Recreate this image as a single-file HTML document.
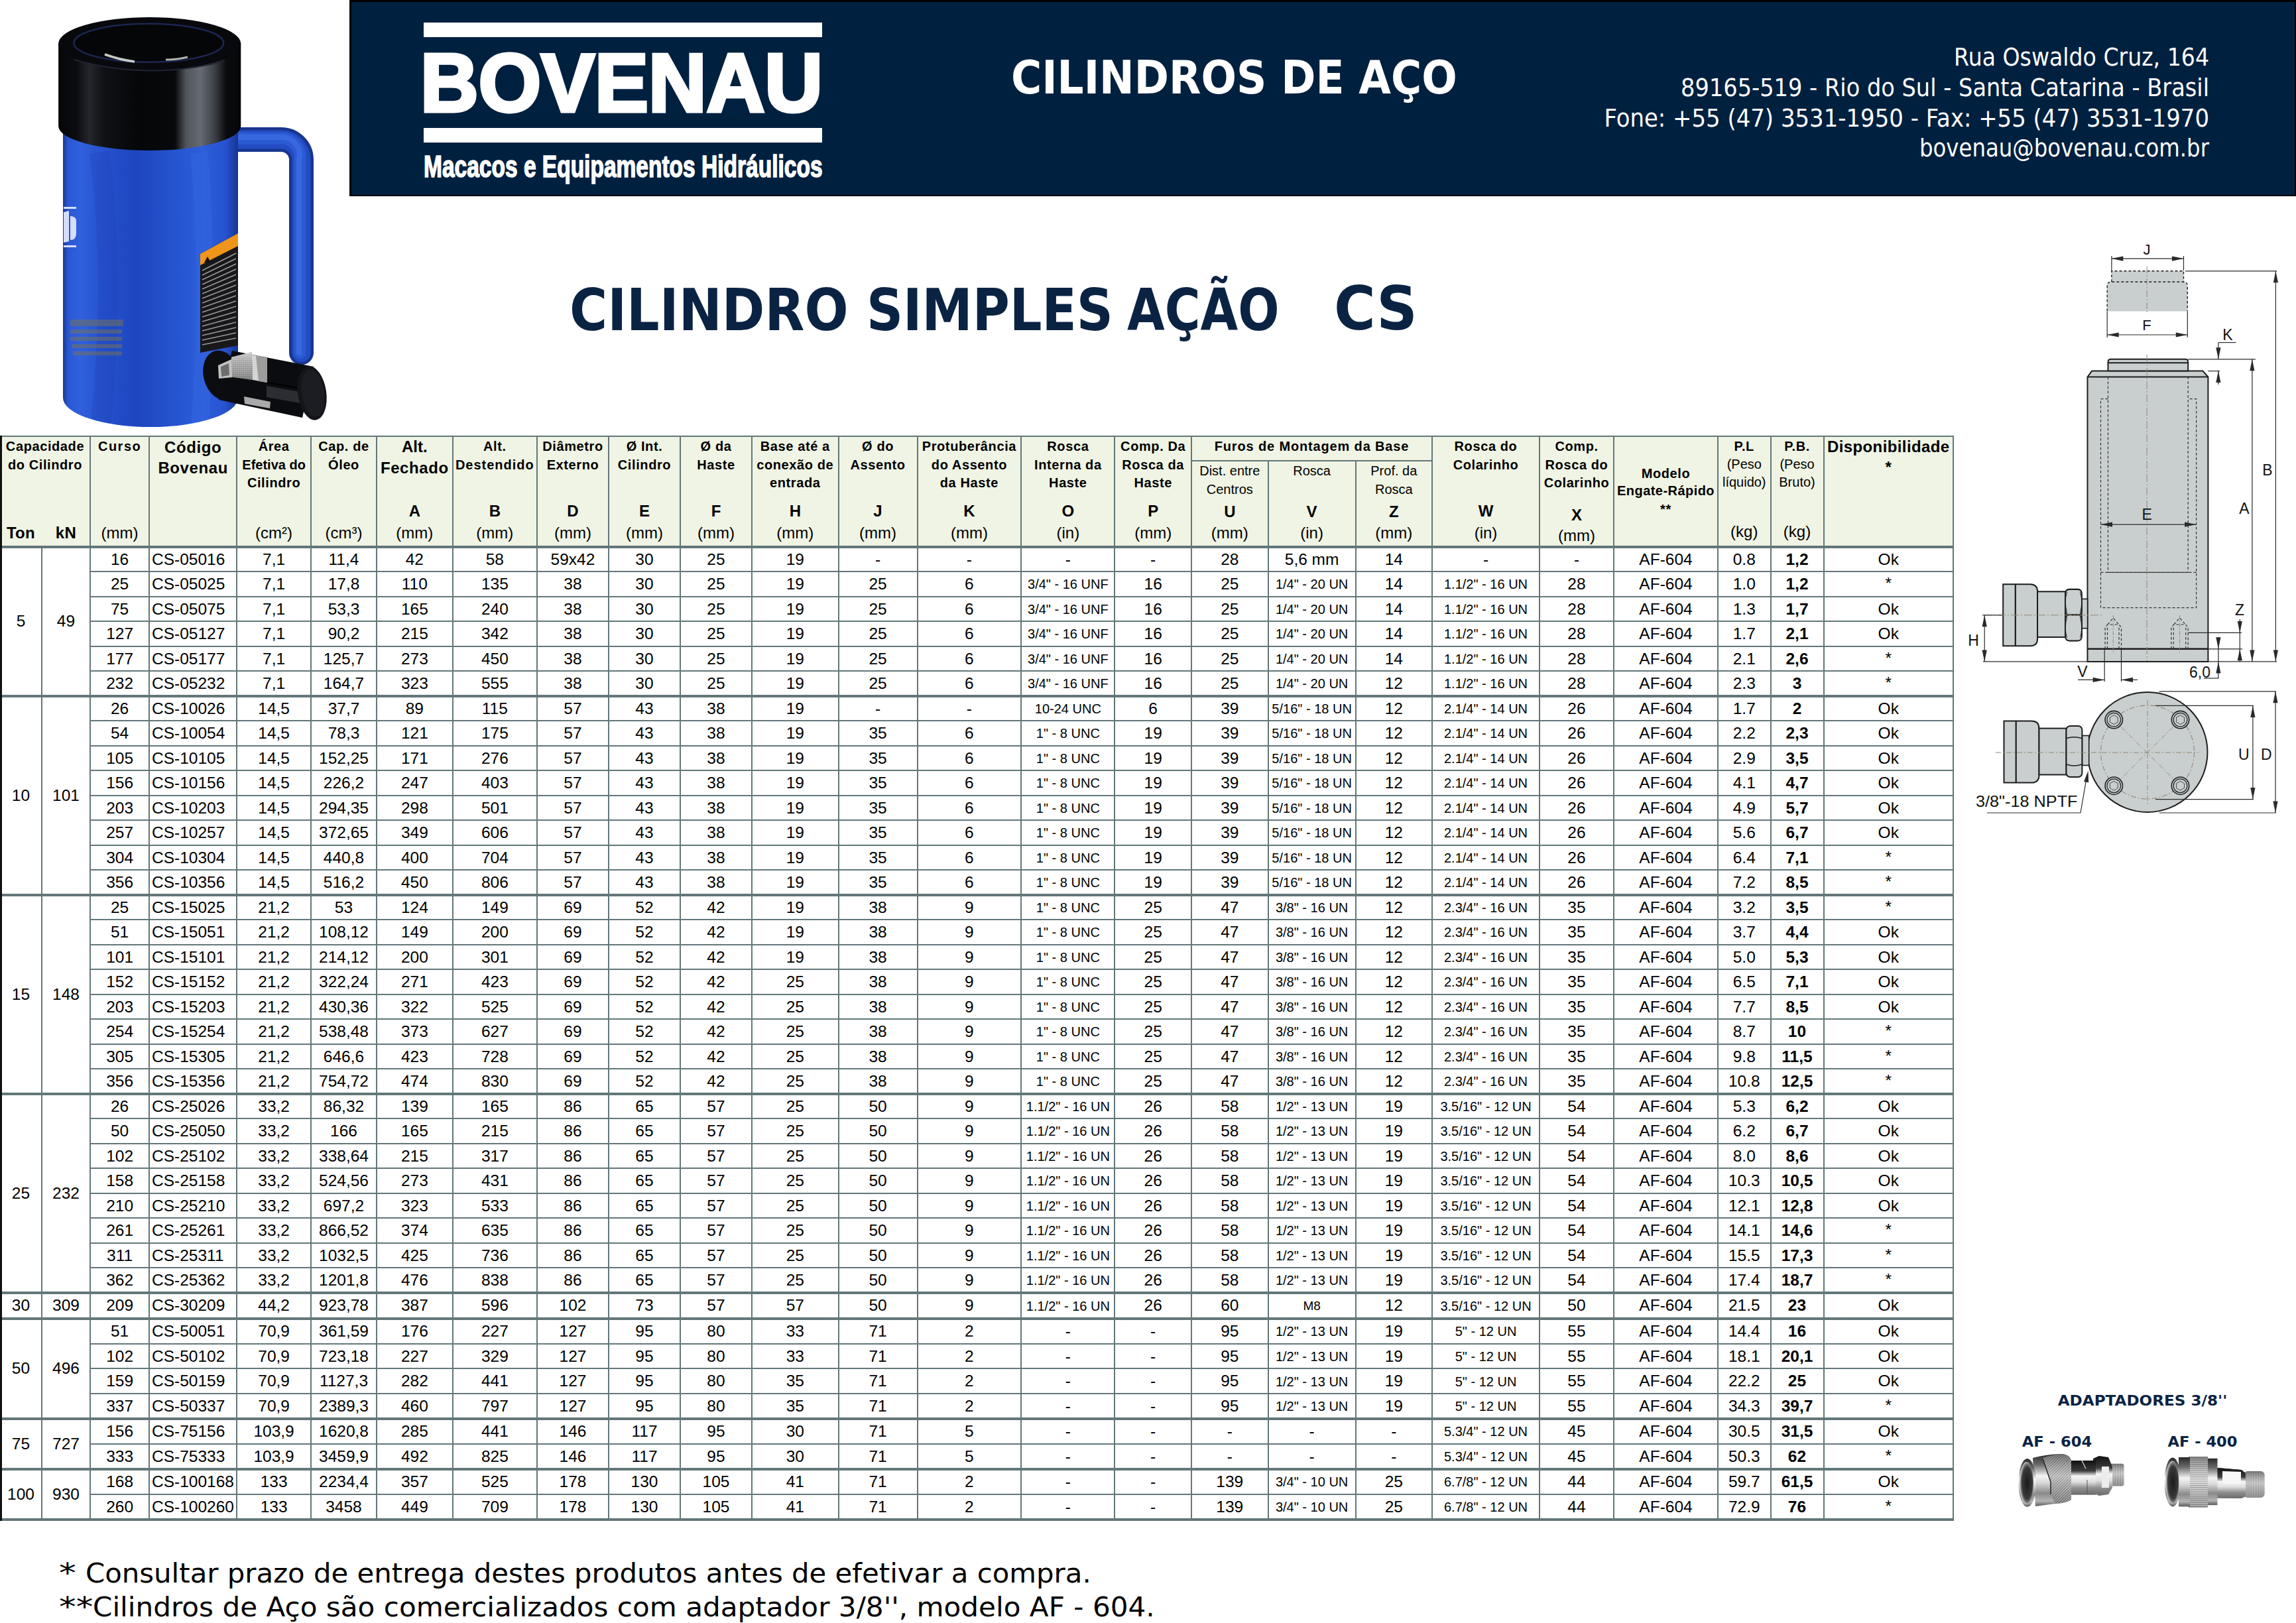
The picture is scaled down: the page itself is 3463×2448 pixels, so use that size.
<!DOCTYPE html>
<html lang="pt-BR"><head><meta charset="utf-8"><title>Bovenau - Cilindro Simples Ação CS</title>
<style>
html,body{margin:0;padding:0;background:#fff;}
html{overflow:hidden;}
body{width:3463px;height:2448px;position:relative;overflow:hidden;}
.t{position:absolute;white-space:nowrap;}
.r{position:absolute;}
svg{position:absolute;}
#pg{position:absolute;left:0;top:0;width:3463px;height:2448px;overflow:hidden;}
</style></head><body><div id="pg">
<div class="r" style="left:527.00px;top:0.00px;width:2936.00px;height:296.00px;background:#000;"></div>
<div class="r" style="left:529.50px;top:2.50px;width:2931.00px;height:291.00px;background:#00203f;"></div>
<div class="r" style="left:639.00px;top:34.00px;width:601.00px;height:22.00px;background:#fff;"></div>
<div class="r" style="left:639.00px;top:193.00px;width:601.00px;height:22.00px;background:#fff;"></div>
<div class="r" style="left:2.00px;top:658.00px;width:2944.00px;height:166.80px;background:#f0f4e4;"></div>
<div class="t" style="top:925.38px;font:400 24.5px/24.5px 'Liberation Sans', Arial, sans-serif;color:#000;left:0.00px;width:63.00px;text-align:center;">5</div>
<div class="t" style="top:925.38px;font:400 24.5px/24.5px 'Liberation Sans', Arial, sans-serif;color:#000;left:0.00px;width:199.00px;text-align:center;">49</div>
<div class="t" style="top:831.59px;font:400 24.5px/24.5px 'Liberation Sans', Arial, sans-serif;color:#000;left:0.00px;width:361.20px;text-align:center;">16</div>
<div class="t" style="top:831.59px;font:400 24.5px/24.5px 'Liberation Sans', Arial, sans-serif;color:#000;left:229.00px;">CS-05016</div>
<div class="t" style="top:831.59px;font:400 24.5px/24.5px 'Liberation Sans', Arial, sans-serif;color:#000;left:0.00px;width:826.20px;text-align:center;">7,1</div>
<div class="t" style="top:831.59px;font:400 24.5px/24.5px 'Liberation Sans', Arial, sans-serif;color:#000;left:0.00px;width:1037.00px;text-align:center;">11,4</div>
<div class="t" style="top:831.59px;font:400 24.5px/24.5px 'Liberation Sans', Arial, sans-serif;color:#000;left:0.00px;width:1250.70px;text-align:center;">42</div>
<div class="t" style="top:831.59px;font:400 24.5px/24.5px 'Liberation Sans', Arial, sans-serif;color:#000;left:0.00px;width:1492.70px;text-align:center;">58</div>
<div class="t" style="top:831.59px;font:400 24.5px/24.5px 'Liberation Sans', Arial, sans-serif;color:#000;left:0.00px;width:1728.00px;text-align:center;">59x42</div>
<div class="t" style="top:831.59px;font:400 24.5px/24.5px 'Liberation Sans', Arial, sans-serif;color:#000;left:0.00px;width:1944.00px;text-align:center;">30</div>
<div class="t" style="top:831.59px;font:400 24.5px/24.5px 'Liberation Sans', Arial, sans-serif;color:#000;left:80.00px;width:2000.00px;text-align:center;">25</div>
<div class="t" style="top:831.59px;font:400 24.5px/24.5px 'Liberation Sans', Arial, sans-serif;color:#000;left:199.30px;width:2000.00px;text-align:center;">19</div>
<div class="t" style="top:831.59px;font:400 24.5px/24.5px 'Liberation Sans', Arial, sans-serif;color:#000;left:324.05px;width:2000.00px;text-align:center;">-</div>
<div class="t" style="top:831.59px;font:400 24.5px/24.5px 'Liberation Sans', Arial, sans-serif;color:#000;left:461.90px;width:2000.00px;text-align:center;">-</div>
<div class="t" style="top:831.59px;font:400 24.5px/24.5px 'Liberation Sans', Arial, sans-serif;color:#000;left:610.85px;width:2000.00px;text-align:center;">-</div>
<div class="t" style="top:831.59px;font:400 24.5px/24.5px 'Liberation Sans', Arial, sans-serif;color:#000;left:739.20px;width:2000.00px;text-align:center;">-</div>
<div class="t" style="top:831.59px;font:400 24.5px/24.5px 'Liberation Sans', Arial, sans-serif;color:#000;left:854.80px;width:2000.00px;text-align:center;">28</div>
<div class="t" style="top:831.59px;font:400 24.5px/24.5px 'Liberation Sans', Arial, sans-serif;color:#000;left:978.60px;width:2000.00px;text-align:center;">5,6 mm</div>
<div class="t" style="top:831.59px;font:400 24.5px/24.5px 'Liberation Sans', Arial, sans-serif;color:#000;left:1102.30px;width:2000.00px;text-align:center;">14</div>
<div class="t" style="top:831.59px;font:400 24.5px/24.5px 'Liberation Sans', Arial, sans-serif;color:#000;left:1241.00px;width:2000.00px;text-align:center;">-</div>
<div class="t" style="top:831.59px;font:400 24.5px/24.5px 'Liberation Sans', Arial, sans-serif;color:#000;left:1378.00px;width:2000.00px;text-align:center;">-</div>
<div class="t" style="top:831.59px;font:400 24.5px/24.5px 'Liberation Sans', Arial, sans-serif;color:#000;left:1562.00px;width:1901.00px;text-align:center;">AF-604</div>
<div class="t" style="top:831.59px;font:400 24.5px/24.5px 'Liberation Sans', Arial, sans-serif;color:#000;left:1798.50px;width:1664.50px;text-align:center;">0.8</div>
<div class="t" style="top:831.59px;font:700 24.5px/24.5px 'Liberation Sans', Arial, sans-serif;color:#000;left:1958.00px;width:1505.00px;text-align:center;">1,2</div>
<div class="t" style="top:831.59px;font:400 24.5px/24.5px 'Liberation Sans', Arial, sans-serif;color:#000;left:2233.50px;width:1229.50px;text-align:center;">Ok</div>
<div class="t" style="top:869.11px;font:400 24.5px/24.5px 'Liberation Sans', Arial, sans-serif;color:#000;left:0.00px;width:361.20px;text-align:center;">25</div>
<div class="t" style="top:869.11px;font:400 24.5px/24.5px 'Liberation Sans', Arial, sans-serif;color:#000;left:229.00px;">CS-05025</div>
<div class="t" style="top:869.11px;font:400 24.5px/24.5px 'Liberation Sans', Arial, sans-serif;color:#000;left:0.00px;width:826.20px;text-align:center;">7,1</div>
<div class="t" style="top:869.11px;font:400 24.5px/24.5px 'Liberation Sans', Arial, sans-serif;color:#000;left:0.00px;width:1037.00px;text-align:center;">17,8</div>
<div class="t" style="top:869.11px;font:400 24.5px/24.5px 'Liberation Sans', Arial, sans-serif;color:#000;left:0.00px;width:1250.70px;text-align:center;">110</div>
<div class="t" style="top:869.11px;font:400 24.5px/24.5px 'Liberation Sans', Arial, sans-serif;color:#000;left:0.00px;width:1492.70px;text-align:center;">135</div>
<div class="t" style="top:869.11px;font:400 24.5px/24.5px 'Liberation Sans', Arial, sans-serif;color:#000;left:0.00px;width:1728.00px;text-align:center;">38</div>
<div class="t" style="top:869.11px;font:400 24.5px/24.5px 'Liberation Sans', Arial, sans-serif;color:#000;left:0.00px;width:1944.00px;text-align:center;">30</div>
<div class="t" style="top:869.11px;font:400 24.5px/24.5px 'Liberation Sans', Arial, sans-serif;color:#000;left:80.00px;width:2000.00px;text-align:center;">25</div>
<div class="t" style="top:869.11px;font:400 24.5px/24.5px 'Liberation Sans', Arial, sans-serif;color:#000;left:199.30px;width:2000.00px;text-align:center;">19</div>
<div class="t" style="top:869.11px;font:400 24.5px/24.5px 'Liberation Sans', Arial, sans-serif;color:#000;left:324.05px;width:2000.00px;text-align:center;">25</div>
<div class="t" style="top:869.11px;font:400 24.5px/24.5px 'Liberation Sans', Arial, sans-serif;color:#000;left:461.90px;width:2000.00px;text-align:center;">6</div>
<div class="t" style="top:871.31px;font:400 20px/20.0px 'Liberation Sans', Arial, sans-serif;color:#000;left:610.85px;width:2000.00px;text-align:center;">3/4" - 16 UNF</div>
<div class="t" style="top:869.11px;font:400 24.5px/24.5px 'Liberation Sans', Arial, sans-serif;color:#000;left:739.20px;width:2000.00px;text-align:center;">16</div>
<div class="t" style="top:869.11px;font:400 24.5px/24.5px 'Liberation Sans', Arial, sans-serif;color:#000;left:854.80px;width:2000.00px;text-align:center;">25</div>
<div class="t" style="top:871.31px;font:400 20px/20.0px 'Liberation Sans', Arial, sans-serif;color:#000;left:978.60px;width:2000.00px;text-align:center;">1/4" - 20 UN</div>
<div class="t" style="top:869.11px;font:400 24.5px/24.5px 'Liberation Sans', Arial, sans-serif;color:#000;left:1102.30px;width:2000.00px;text-align:center;">14</div>
<div class="t" style="top:871.31px;font:400 20px/20.0px 'Liberation Sans', Arial, sans-serif;color:#000;left:1241.00px;width:2000.00px;text-align:center;">1.1/2" - 16 UN</div>
<div class="t" style="top:869.11px;font:400 24.5px/24.5px 'Liberation Sans', Arial, sans-serif;color:#000;left:1378.00px;width:2000.00px;text-align:center;">28</div>
<div class="t" style="top:869.11px;font:400 24.5px/24.5px 'Liberation Sans', Arial, sans-serif;color:#000;left:1562.00px;width:1901.00px;text-align:center;">AF-604</div>
<div class="t" style="top:869.11px;font:400 24.5px/24.5px 'Liberation Sans', Arial, sans-serif;color:#000;left:1798.50px;width:1664.50px;text-align:center;">1.0</div>
<div class="t" style="top:869.11px;font:700 24.5px/24.5px 'Liberation Sans', Arial, sans-serif;color:#000;left:1958.00px;width:1505.00px;text-align:center;">1,2</div>
<div class="t" style="top:868.11px;font:400 24.5px/24.5px 'Liberation Sans', Arial, sans-serif;color:#000;left:2233.50px;width:1229.50px;text-align:center;">*</div>
<div class="t" style="top:906.62px;font:400 24.5px/24.5px 'Liberation Sans', Arial, sans-serif;color:#000;left:0.00px;width:361.20px;text-align:center;">75</div>
<div class="t" style="top:906.62px;font:400 24.5px/24.5px 'Liberation Sans', Arial, sans-serif;color:#000;left:229.00px;">CS-05075</div>
<div class="t" style="top:906.62px;font:400 24.5px/24.5px 'Liberation Sans', Arial, sans-serif;color:#000;left:0.00px;width:826.20px;text-align:center;">7,1</div>
<div class="t" style="top:906.62px;font:400 24.5px/24.5px 'Liberation Sans', Arial, sans-serif;color:#000;left:0.00px;width:1037.00px;text-align:center;">53,3</div>
<div class="t" style="top:906.62px;font:400 24.5px/24.5px 'Liberation Sans', Arial, sans-serif;color:#000;left:0.00px;width:1250.70px;text-align:center;">165</div>
<div class="t" style="top:906.62px;font:400 24.5px/24.5px 'Liberation Sans', Arial, sans-serif;color:#000;left:0.00px;width:1492.70px;text-align:center;">240</div>
<div class="t" style="top:906.62px;font:400 24.5px/24.5px 'Liberation Sans', Arial, sans-serif;color:#000;left:0.00px;width:1728.00px;text-align:center;">38</div>
<div class="t" style="top:906.62px;font:400 24.5px/24.5px 'Liberation Sans', Arial, sans-serif;color:#000;left:0.00px;width:1944.00px;text-align:center;">30</div>
<div class="t" style="top:906.62px;font:400 24.5px/24.5px 'Liberation Sans', Arial, sans-serif;color:#000;left:80.00px;width:2000.00px;text-align:center;">25</div>
<div class="t" style="top:906.62px;font:400 24.5px/24.5px 'Liberation Sans', Arial, sans-serif;color:#000;left:199.30px;width:2000.00px;text-align:center;">19</div>
<div class="t" style="top:906.62px;font:400 24.5px/24.5px 'Liberation Sans', Arial, sans-serif;color:#000;left:324.05px;width:2000.00px;text-align:center;">25</div>
<div class="t" style="top:906.62px;font:400 24.5px/24.5px 'Liberation Sans', Arial, sans-serif;color:#000;left:461.90px;width:2000.00px;text-align:center;">6</div>
<div class="t" style="top:908.82px;font:400 20px/20.0px 'Liberation Sans', Arial, sans-serif;color:#000;left:610.85px;width:2000.00px;text-align:center;">3/4" - 16 UNF</div>
<div class="t" style="top:906.62px;font:400 24.5px/24.5px 'Liberation Sans', Arial, sans-serif;color:#000;left:739.20px;width:2000.00px;text-align:center;">16</div>
<div class="t" style="top:906.62px;font:400 24.5px/24.5px 'Liberation Sans', Arial, sans-serif;color:#000;left:854.80px;width:2000.00px;text-align:center;">25</div>
<div class="t" style="top:908.82px;font:400 20px/20.0px 'Liberation Sans', Arial, sans-serif;color:#000;left:978.60px;width:2000.00px;text-align:center;">1/4" - 20 UN</div>
<div class="t" style="top:906.62px;font:400 24.5px/24.5px 'Liberation Sans', Arial, sans-serif;color:#000;left:1102.30px;width:2000.00px;text-align:center;">14</div>
<div class="t" style="top:908.82px;font:400 20px/20.0px 'Liberation Sans', Arial, sans-serif;color:#000;left:1241.00px;width:2000.00px;text-align:center;">1.1/2" - 16 UN</div>
<div class="t" style="top:906.62px;font:400 24.5px/24.5px 'Liberation Sans', Arial, sans-serif;color:#000;left:1378.00px;width:2000.00px;text-align:center;">28</div>
<div class="t" style="top:906.62px;font:400 24.5px/24.5px 'Liberation Sans', Arial, sans-serif;color:#000;left:1562.00px;width:1901.00px;text-align:center;">AF-604</div>
<div class="t" style="top:906.62px;font:400 24.5px/24.5px 'Liberation Sans', Arial, sans-serif;color:#000;left:1798.50px;width:1664.50px;text-align:center;">1.3</div>
<div class="t" style="top:906.62px;font:700 24.5px/24.5px 'Liberation Sans', Arial, sans-serif;color:#000;left:1958.00px;width:1505.00px;text-align:center;">1,7</div>
<div class="t" style="top:906.62px;font:400 24.5px/24.5px 'Liberation Sans', Arial, sans-serif;color:#000;left:2233.50px;width:1229.50px;text-align:center;">Ok</div>
<div class="t" style="top:944.14px;font:400 24.5px/24.5px 'Liberation Sans', Arial, sans-serif;color:#000;left:0.00px;width:361.20px;text-align:center;">127</div>
<div class="t" style="top:944.14px;font:400 24.5px/24.5px 'Liberation Sans', Arial, sans-serif;color:#000;left:229.00px;">CS-05127</div>
<div class="t" style="top:944.14px;font:400 24.5px/24.5px 'Liberation Sans', Arial, sans-serif;color:#000;left:0.00px;width:826.20px;text-align:center;">7,1</div>
<div class="t" style="top:944.14px;font:400 24.5px/24.5px 'Liberation Sans', Arial, sans-serif;color:#000;left:0.00px;width:1037.00px;text-align:center;">90,2</div>
<div class="t" style="top:944.14px;font:400 24.5px/24.5px 'Liberation Sans', Arial, sans-serif;color:#000;left:0.00px;width:1250.70px;text-align:center;">215</div>
<div class="t" style="top:944.14px;font:400 24.5px/24.5px 'Liberation Sans', Arial, sans-serif;color:#000;left:0.00px;width:1492.70px;text-align:center;">342</div>
<div class="t" style="top:944.14px;font:400 24.5px/24.5px 'Liberation Sans', Arial, sans-serif;color:#000;left:0.00px;width:1728.00px;text-align:center;">38</div>
<div class="t" style="top:944.14px;font:400 24.5px/24.5px 'Liberation Sans', Arial, sans-serif;color:#000;left:0.00px;width:1944.00px;text-align:center;">30</div>
<div class="t" style="top:944.14px;font:400 24.5px/24.5px 'Liberation Sans', Arial, sans-serif;color:#000;left:80.00px;width:2000.00px;text-align:center;">25</div>
<div class="t" style="top:944.14px;font:400 24.5px/24.5px 'Liberation Sans', Arial, sans-serif;color:#000;left:199.30px;width:2000.00px;text-align:center;">19</div>
<div class="t" style="top:944.14px;font:400 24.5px/24.5px 'Liberation Sans', Arial, sans-serif;color:#000;left:324.05px;width:2000.00px;text-align:center;">25</div>
<div class="t" style="top:944.14px;font:400 24.5px/24.5px 'Liberation Sans', Arial, sans-serif;color:#000;left:461.90px;width:2000.00px;text-align:center;">6</div>
<div class="t" style="top:946.34px;font:400 20px/20.0px 'Liberation Sans', Arial, sans-serif;color:#000;left:610.85px;width:2000.00px;text-align:center;">3/4" - 16 UNF</div>
<div class="t" style="top:944.14px;font:400 24.5px/24.5px 'Liberation Sans', Arial, sans-serif;color:#000;left:739.20px;width:2000.00px;text-align:center;">16</div>
<div class="t" style="top:944.14px;font:400 24.5px/24.5px 'Liberation Sans', Arial, sans-serif;color:#000;left:854.80px;width:2000.00px;text-align:center;">25</div>
<div class="t" style="top:946.34px;font:400 20px/20.0px 'Liberation Sans', Arial, sans-serif;color:#000;left:978.60px;width:2000.00px;text-align:center;">1/4" - 20 UN</div>
<div class="t" style="top:944.14px;font:400 24.5px/24.5px 'Liberation Sans', Arial, sans-serif;color:#000;left:1102.30px;width:2000.00px;text-align:center;">14</div>
<div class="t" style="top:946.34px;font:400 20px/20.0px 'Liberation Sans', Arial, sans-serif;color:#000;left:1241.00px;width:2000.00px;text-align:center;">1.1/2" - 16 UN</div>
<div class="t" style="top:944.14px;font:400 24.5px/24.5px 'Liberation Sans', Arial, sans-serif;color:#000;left:1378.00px;width:2000.00px;text-align:center;">28</div>
<div class="t" style="top:944.14px;font:400 24.5px/24.5px 'Liberation Sans', Arial, sans-serif;color:#000;left:1562.00px;width:1901.00px;text-align:center;">AF-604</div>
<div class="t" style="top:944.14px;font:400 24.5px/24.5px 'Liberation Sans', Arial, sans-serif;color:#000;left:1798.50px;width:1664.50px;text-align:center;">1.7</div>
<div class="t" style="top:944.14px;font:700 24.5px/24.5px 'Liberation Sans', Arial, sans-serif;color:#000;left:1958.00px;width:1505.00px;text-align:center;">2,1</div>
<div class="t" style="top:944.14px;font:400 24.5px/24.5px 'Liberation Sans', Arial, sans-serif;color:#000;left:2233.50px;width:1229.50px;text-align:center;">Ok</div>
<div class="t" style="top:981.66px;font:400 24.5px/24.5px 'Liberation Sans', Arial, sans-serif;color:#000;left:0.00px;width:361.20px;text-align:center;">177</div>
<div class="t" style="top:981.66px;font:400 24.5px/24.5px 'Liberation Sans', Arial, sans-serif;color:#000;left:229.00px;">CS-05177</div>
<div class="t" style="top:981.66px;font:400 24.5px/24.5px 'Liberation Sans', Arial, sans-serif;color:#000;left:0.00px;width:826.20px;text-align:center;">7,1</div>
<div class="t" style="top:981.66px;font:400 24.5px/24.5px 'Liberation Sans', Arial, sans-serif;color:#000;left:0.00px;width:1037.00px;text-align:center;">125,7</div>
<div class="t" style="top:981.66px;font:400 24.5px/24.5px 'Liberation Sans', Arial, sans-serif;color:#000;left:0.00px;width:1250.70px;text-align:center;">273</div>
<div class="t" style="top:981.66px;font:400 24.5px/24.5px 'Liberation Sans', Arial, sans-serif;color:#000;left:0.00px;width:1492.70px;text-align:center;">450</div>
<div class="t" style="top:981.66px;font:400 24.5px/24.5px 'Liberation Sans', Arial, sans-serif;color:#000;left:0.00px;width:1728.00px;text-align:center;">38</div>
<div class="t" style="top:981.66px;font:400 24.5px/24.5px 'Liberation Sans', Arial, sans-serif;color:#000;left:0.00px;width:1944.00px;text-align:center;">30</div>
<div class="t" style="top:981.66px;font:400 24.5px/24.5px 'Liberation Sans', Arial, sans-serif;color:#000;left:80.00px;width:2000.00px;text-align:center;">25</div>
<div class="t" style="top:981.66px;font:400 24.5px/24.5px 'Liberation Sans', Arial, sans-serif;color:#000;left:199.30px;width:2000.00px;text-align:center;">19</div>
<div class="t" style="top:981.66px;font:400 24.5px/24.5px 'Liberation Sans', Arial, sans-serif;color:#000;left:324.05px;width:2000.00px;text-align:center;">25</div>
<div class="t" style="top:981.66px;font:400 24.5px/24.5px 'Liberation Sans', Arial, sans-serif;color:#000;left:461.90px;width:2000.00px;text-align:center;">6</div>
<div class="t" style="top:983.86px;font:400 20px/20.0px 'Liberation Sans', Arial, sans-serif;color:#000;left:610.85px;width:2000.00px;text-align:center;">3/4" - 16 UNF</div>
<div class="t" style="top:981.66px;font:400 24.5px/24.5px 'Liberation Sans', Arial, sans-serif;color:#000;left:739.20px;width:2000.00px;text-align:center;">16</div>
<div class="t" style="top:981.66px;font:400 24.5px/24.5px 'Liberation Sans', Arial, sans-serif;color:#000;left:854.80px;width:2000.00px;text-align:center;">25</div>
<div class="t" style="top:983.86px;font:400 20px/20.0px 'Liberation Sans', Arial, sans-serif;color:#000;left:978.60px;width:2000.00px;text-align:center;">1/4" - 20 UN</div>
<div class="t" style="top:981.66px;font:400 24.5px/24.5px 'Liberation Sans', Arial, sans-serif;color:#000;left:1102.30px;width:2000.00px;text-align:center;">14</div>
<div class="t" style="top:983.86px;font:400 20px/20.0px 'Liberation Sans', Arial, sans-serif;color:#000;left:1241.00px;width:2000.00px;text-align:center;">1.1/2" - 16 UN</div>
<div class="t" style="top:981.66px;font:400 24.5px/24.5px 'Liberation Sans', Arial, sans-serif;color:#000;left:1378.00px;width:2000.00px;text-align:center;">28</div>
<div class="t" style="top:981.66px;font:400 24.5px/24.5px 'Liberation Sans', Arial, sans-serif;color:#000;left:1562.00px;width:1901.00px;text-align:center;">AF-604</div>
<div class="t" style="top:981.66px;font:400 24.5px/24.5px 'Liberation Sans', Arial, sans-serif;color:#000;left:1798.50px;width:1664.50px;text-align:center;">2.1</div>
<div class="t" style="top:981.66px;font:700 24.5px/24.5px 'Liberation Sans', Arial, sans-serif;color:#000;left:1958.00px;width:1505.00px;text-align:center;">2,6</div>
<div class="t" style="top:980.66px;font:400 24.5px/24.5px 'Liberation Sans', Arial, sans-serif;color:#000;left:2233.50px;width:1229.50px;text-align:center;">*</div>
<div class="t" style="top:1019.17px;font:400 24.5px/24.5px 'Liberation Sans', Arial, sans-serif;color:#000;left:0.00px;width:361.20px;text-align:center;">232</div>
<div class="t" style="top:1019.17px;font:400 24.5px/24.5px 'Liberation Sans', Arial, sans-serif;color:#000;left:229.00px;">CS-05232</div>
<div class="t" style="top:1019.17px;font:400 24.5px/24.5px 'Liberation Sans', Arial, sans-serif;color:#000;left:0.00px;width:826.20px;text-align:center;">7,1</div>
<div class="t" style="top:1019.17px;font:400 24.5px/24.5px 'Liberation Sans', Arial, sans-serif;color:#000;left:0.00px;width:1037.00px;text-align:center;">164,7</div>
<div class="t" style="top:1019.17px;font:400 24.5px/24.5px 'Liberation Sans', Arial, sans-serif;color:#000;left:0.00px;width:1250.70px;text-align:center;">323</div>
<div class="t" style="top:1019.17px;font:400 24.5px/24.5px 'Liberation Sans', Arial, sans-serif;color:#000;left:0.00px;width:1492.70px;text-align:center;">555</div>
<div class="t" style="top:1019.17px;font:400 24.5px/24.5px 'Liberation Sans', Arial, sans-serif;color:#000;left:0.00px;width:1728.00px;text-align:center;">38</div>
<div class="t" style="top:1019.17px;font:400 24.5px/24.5px 'Liberation Sans', Arial, sans-serif;color:#000;left:0.00px;width:1944.00px;text-align:center;">30</div>
<div class="t" style="top:1019.17px;font:400 24.5px/24.5px 'Liberation Sans', Arial, sans-serif;color:#000;left:80.00px;width:2000.00px;text-align:center;">25</div>
<div class="t" style="top:1019.17px;font:400 24.5px/24.5px 'Liberation Sans', Arial, sans-serif;color:#000;left:199.30px;width:2000.00px;text-align:center;">19</div>
<div class="t" style="top:1019.17px;font:400 24.5px/24.5px 'Liberation Sans', Arial, sans-serif;color:#000;left:324.05px;width:2000.00px;text-align:center;">25</div>
<div class="t" style="top:1019.17px;font:400 24.5px/24.5px 'Liberation Sans', Arial, sans-serif;color:#000;left:461.90px;width:2000.00px;text-align:center;">6</div>
<div class="t" style="top:1021.37px;font:400 20px/20.0px 'Liberation Sans', Arial, sans-serif;color:#000;left:610.85px;width:2000.00px;text-align:center;">3/4" - 16 UNF</div>
<div class="t" style="top:1019.17px;font:400 24.5px/24.5px 'Liberation Sans', Arial, sans-serif;color:#000;left:739.20px;width:2000.00px;text-align:center;">16</div>
<div class="t" style="top:1019.17px;font:400 24.5px/24.5px 'Liberation Sans', Arial, sans-serif;color:#000;left:854.80px;width:2000.00px;text-align:center;">25</div>
<div class="t" style="top:1021.37px;font:400 20px/20.0px 'Liberation Sans', Arial, sans-serif;color:#000;left:978.60px;width:2000.00px;text-align:center;">1/4" - 20 UN</div>
<div class="t" style="top:1019.17px;font:400 24.5px/24.5px 'Liberation Sans', Arial, sans-serif;color:#000;left:1102.30px;width:2000.00px;text-align:center;">12</div>
<div class="t" style="top:1021.37px;font:400 20px/20.0px 'Liberation Sans', Arial, sans-serif;color:#000;left:1241.00px;width:2000.00px;text-align:center;">1.1/2" - 16 UN</div>
<div class="t" style="top:1019.17px;font:400 24.5px/24.5px 'Liberation Sans', Arial, sans-serif;color:#000;left:1378.00px;width:2000.00px;text-align:center;">28</div>
<div class="t" style="top:1019.17px;font:400 24.5px/24.5px 'Liberation Sans', Arial, sans-serif;color:#000;left:1562.00px;width:1901.00px;text-align:center;">AF-604</div>
<div class="t" style="top:1019.17px;font:400 24.5px/24.5px 'Liberation Sans', Arial, sans-serif;color:#000;left:1798.50px;width:1664.50px;text-align:center;">2.3</div>
<div class="t" style="top:1019.17px;font:700 24.5px/24.5px 'Liberation Sans', Arial, sans-serif;color:#000;left:1958.00px;width:1505.00px;text-align:center;">3</div>
<div class="t" style="top:1018.17px;font:400 24.5px/24.5px 'Liberation Sans', Arial, sans-serif;color:#000;left:2233.50px;width:1229.50px;text-align:center;">*</div>
<div class="t" style="top:1187.93px;font:400 24.5px/24.5px 'Liberation Sans', Arial, sans-serif;color:#000;left:0.00px;width:63.00px;text-align:center;">10</div>
<div class="t" style="top:1187.93px;font:400 24.5px/24.5px 'Liberation Sans', Arial, sans-serif;color:#000;left:0.00px;width:199.00px;text-align:center;">101</div>
<div class="t" style="top:1056.68px;font:400 24.5px/24.5px 'Liberation Sans', Arial, sans-serif;color:#000;left:0.00px;width:361.20px;text-align:center;">26</div>
<div class="t" style="top:1056.68px;font:400 24.5px/24.5px 'Liberation Sans', Arial, sans-serif;color:#000;left:229.00px;">CS-10026</div>
<div class="t" style="top:1056.68px;font:400 24.5px/24.5px 'Liberation Sans', Arial, sans-serif;color:#000;left:0.00px;width:826.20px;text-align:center;">14,5</div>
<div class="t" style="top:1056.68px;font:400 24.5px/24.5px 'Liberation Sans', Arial, sans-serif;color:#000;left:0.00px;width:1037.00px;text-align:center;">37,7</div>
<div class="t" style="top:1056.68px;font:400 24.5px/24.5px 'Liberation Sans', Arial, sans-serif;color:#000;left:0.00px;width:1250.70px;text-align:center;">89</div>
<div class="t" style="top:1056.68px;font:400 24.5px/24.5px 'Liberation Sans', Arial, sans-serif;color:#000;left:0.00px;width:1492.70px;text-align:center;">115</div>
<div class="t" style="top:1056.68px;font:400 24.5px/24.5px 'Liberation Sans', Arial, sans-serif;color:#000;left:0.00px;width:1728.00px;text-align:center;">57</div>
<div class="t" style="top:1056.68px;font:400 24.5px/24.5px 'Liberation Sans', Arial, sans-serif;color:#000;left:0.00px;width:1944.00px;text-align:center;">43</div>
<div class="t" style="top:1056.68px;font:400 24.5px/24.5px 'Liberation Sans', Arial, sans-serif;color:#000;left:80.00px;width:2000.00px;text-align:center;">38</div>
<div class="t" style="top:1056.68px;font:400 24.5px/24.5px 'Liberation Sans', Arial, sans-serif;color:#000;left:199.30px;width:2000.00px;text-align:center;">19</div>
<div class="t" style="top:1056.68px;font:400 24.5px/24.5px 'Liberation Sans', Arial, sans-serif;color:#000;left:324.05px;width:2000.00px;text-align:center;">-</div>
<div class="t" style="top:1056.68px;font:400 24.5px/24.5px 'Liberation Sans', Arial, sans-serif;color:#000;left:461.90px;width:2000.00px;text-align:center;">-</div>
<div class="t" style="top:1058.88px;font:400 20px/20.0px 'Liberation Sans', Arial, sans-serif;color:#000;left:610.85px;width:2000.00px;text-align:center;">10-24 UNC</div>
<div class="t" style="top:1056.68px;font:400 24.5px/24.5px 'Liberation Sans', Arial, sans-serif;color:#000;left:739.20px;width:2000.00px;text-align:center;">6</div>
<div class="t" style="top:1056.68px;font:400 24.5px/24.5px 'Liberation Sans', Arial, sans-serif;color:#000;left:854.80px;width:2000.00px;text-align:center;">39</div>
<div class="t" style="top:1058.88px;font:400 20px/20.0px 'Liberation Sans', Arial, sans-serif;color:#000;left:978.60px;width:2000.00px;text-align:center;">5/16" - 18 UN</div>
<div class="t" style="top:1056.68px;font:400 24.5px/24.5px 'Liberation Sans', Arial, sans-serif;color:#000;left:1102.30px;width:2000.00px;text-align:center;">12</div>
<div class="t" style="top:1058.88px;font:400 20px/20.0px 'Liberation Sans', Arial, sans-serif;color:#000;left:1241.00px;width:2000.00px;text-align:center;">2.1/4" - 14 UN</div>
<div class="t" style="top:1056.68px;font:400 24.5px/24.5px 'Liberation Sans', Arial, sans-serif;color:#000;left:1378.00px;width:2000.00px;text-align:center;">26</div>
<div class="t" style="top:1056.68px;font:400 24.5px/24.5px 'Liberation Sans', Arial, sans-serif;color:#000;left:1562.00px;width:1901.00px;text-align:center;">AF-604</div>
<div class="t" style="top:1056.68px;font:400 24.5px/24.5px 'Liberation Sans', Arial, sans-serif;color:#000;left:1798.50px;width:1664.50px;text-align:center;">1.7</div>
<div class="t" style="top:1056.68px;font:700 24.5px/24.5px 'Liberation Sans', Arial, sans-serif;color:#000;left:1958.00px;width:1505.00px;text-align:center;">2</div>
<div class="t" style="top:1056.68px;font:400 24.5px/24.5px 'Liberation Sans', Arial, sans-serif;color:#000;left:2233.50px;width:1229.50px;text-align:center;">Ok</div>
<div class="t" style="top:1094.18px;font:400 24.5px/24.5px 'Liberation Sans', Arial, sans-serif;color:#000;left:0.00px;width:361.20px;text-align:center;">54</div>
<div class="t" style="top:1094.18px;font:400 24.5px/24.5px 'Liberation Sans', Arial, sans-serif;color:#000;left:229.00px;">CS-10054</div>
<div class="t" style="top:1094.18px;font:400 24.5px/24.5px 'Liberation Sans', Arial, sans-serif;color:#000;left:0.00px;width:826.20px;text-align:center;">14,5</div>
<div class="t" style="top:1094.18px;font:400 24.5px/24.5px 'Liberation Sans', Arial, sans-serif;color:#000;left:0.00px;width:1037.00px;text-align:center;">78,3</div>
<div class="t" style="top:1094.18px;font:400 24.5px/24.5px 'Liberation Sans', Arial, sans-serif;color:#000;left:0.00px;width:1250.70px;text-align:center;">121</div>
<div class="t" style="top:1094.18px;font:400 24.5px/24.5px 'Liberation Sans', Arial, sans-serif;color:#000;left:0.00px;width:1492.70px;text-align:center;">175</div>
<div class="t" style="top:1094.18px;font:400 24.5px/24.5px 'Liberation Sans', Arial, sans-serif;color:#000;left:0.00px;width:1728.00px;text-align:center;">57</div>
<div class="t" style="top:1094.18px;font:400 24.5px/24.5px 'Liberation Sans', Arial, sans-serif;color:#000;left:0.00px;width:1944.00px;text-align:center;">43</div>
<div class="t" style="top:1094.18px;font:400 24.5px/24.5px 'Liberation Sans', Arial, sans-serif;color:#000;left:80.00px;width:2000.00px;text-align:center;">38</div>
<div class="t" style="top:1094.18px;font:400 24.5px/24.5px 'Liberation Sans', Arial, sans-serif;color:#000;left:199.30px;width:2000.00px;text-align:center;">19</div>
<div class="t" style="top:1094.18px;font:400 24.5px/24.5px 'Liberation Sans', Arial, sans-serif;color:#000;left:324.05px;width:2000.00px;text-align:center;">35</div>
<div class="t" style="top:1094.18px;font:400 24.5px/24.5px 'Liberation Sans', Arial, sans-serif;color:#000;left:461.90px;width:2000.00px;text-align:center;">6</div>
<div class="t" style="top:1096.38px;font:400 20px/20.0px 'Liberation Sans', Arial, sans-serif;color:#000;left:610.85px;width:2000.00px;text-align:center;">1" - 8 UNC</div>
<div class="t" style="top:1094.18px;font:400 24.5px/24.5px 'Liberation Sans', Arial, sans-serif;color:#000;left:739.20px;width:2000.00px;text-align:center;">19</div>
<div class="t" style="top:1094.18px;font:400 24.5px/24.5px 'Liberation Sans', Arial, sans-serif;color:#000;left:854.80px;width:2000.00px;text-align:center;">39</div>
<div class="t" style="top:1096.38px;font:400 20px/20.0px 'Liberation Sans', Arial, sans-serif;color:#000;left:978.60px;width:2000.00px;text-align:center;">5/16" - 18 UN</div>
<div class="t" style="top:1094.18px;font:400 24.5px/24.5px 'Liberation Sans', Arial, sans-serif;color:#000;left:1102.30px;width:2000.00px;text-align:center;">12</div>
<div class="t" style="top:1096.38px;font:400 20px/20.0px 'Liberation Sans', Arial, sans-serif;color:#000;left:1241.00px;width:2000.00px;text-align:center;">2.1/4" - 14 UN</div>
<div class="t" style="top:1094.18px;font:400 24.5px/24.5px 'Liberation Sans', Arial, sans-serif;color:#000;left:1378.00px;width:2000.00px;text-align:center;">26</div>
<div class="t" style="top:1094.18px;font:400 24.5px/24.5px 'Liberation Sans', Arial, sans-serif;color:#000;left:1562.00px;width:1901.00px;text-align:center;">AF-604</div>
<div class="t" style="top:1094.18px;font:400 24.5px/24.5px 'Liberation Sans', Arial, sans-serif;color:#000;left:1798.50px;width:1664.50px;text-align:center;">2.2</div>
<div class="t" style="top:1094.18px;font:700 24.5px/24.5px 'Liberation Sans', Arial, sans-serif;color:#000;left:1958.00px;width:1505.00px;text-align:center;">2,3</div>
<div class="t" style="top:1094.18px;font:400 24.5px/24.5px 'Liberation Sans', Arial, sans-serif;color:#000;left:2233.50px;width:1229.50px;text-align:center;">Ok</div>
<div class="t" style="top:1131.68px;font:400 24.5px/24.5px 'Liberation Sans', Arial, sans-serif;color:#000;left:0.00px;width:361.20px;text-align:center;">105</div>
<div class="t" style="top:1131.68px;font:400 24.5px/24.5px 'Liberation Sans', Arial, sans-serif;color:#000;left:229.00px;">CS-10105</div>
<div class="t" style="top:1131.68px;font:400 24.5px/24.5px 'Liberation Sans', Arial, sans-serif;color:#000;left:0.00px;width:826.20px;text-align:center;">14,5</div>
<div class="t" style="top:1131.68px;font:400 24.5px/24.5px 'Liberation Sans', Arial, sans-serif;color:#000;left:0.00px;width:1037.00px;text-align:center;">152,25</div>
<div class="t" style="top:1131.68px;font:400 24.5px/24.5px 'Liberation Sans', Arial, sans-serif;color:#000;left:0.00px;width:1250.70px;text-align:center;">171</div>
<div class="t" style="top:1131.68px;font:400 24.5px/24.5px 'Liberation Sans', Arial, sans-serif;color:#000;left:0.00px;width:1492.70px;text-align:center;">276</div>
<div class="t" style="top:1131.68px;font:400 24.5px/24.5px 'Liberation Sans', Arial, sans-serif;color:#000;left:0.00px;width:1728.00px;text-align:center;">57</div>
<div class="t" style="top:1131.68px;font:400 24.5px/24.5px 'Liberation Sans', Arial, sans-serif;color:#000;left:0.00px;width:1944.00px;text-align:center;">43</div>
<div class="t" style="top:1131.68px;font:400 24.5px/24.5px 'Liberation Sans', Arial, sans-serif;color:#000;left:80.00px;width:2000.00px;text-align:center;">38</div>
<div class="t" style="top:1131.68px;font:400 24.5px/24.5px 'Liberation Sans', Arial, sans-serif;color:#000;left:199.30px;width:2000.00px;text-align:center;">19</div>
<div class="t" style="top:1131.68px;font:400 24.5px/24.5px 'Liberation Sans', Arial, sans-serif;color:#000;left:324.05px;width:2000.00px;text-align:center;">35</div>
<div class="t" style="top:1131.68px;font:400 24.5px/24.5px 'Liberation Sans', Arial, sans-serif;color:#000;left:461.90px;width:2000.00px;text-align:center;">6</div>
<div class="t" style="top:1133.88px;font:400 20px/20.0px 'Liberation Sans', Arial, sans-serif;color:#000;left:610.85px;width:2000.00px;text-align:center;">1" - 8 UNC</div>
<div class="t" style="top:1131.68px;font:400 24.5px/24.5px 'Liberation Sans', Arial, sans-serif;color:#000;left:739.20px;width:2000.00px;text-align:center;">19</div>
<div class="t" style="top:1131.68px;font:400 24.5px/24.5px 'Liberation Sans', Arial, sans-serif;color:#000;left:854.80px;width:2000.00px;text-align:center;">39</div>
<div class="t" style="top:1133.88px;font:400 20px/20.0px 'Liberation Sans', Arial, sans-serif;color:#000;left:978.60px;width:2000.00px;text-align:center;">5/16" - 18 UN</div>
<div class="t" style="top:1131.68px;font:400 24.5px/24.5px 'Liberation Sans', Arial, sans-serif;color:#000;left:1102.30px;width:2000.00px;text-align:center;">12</div>
<div class="t" style="top:1133.88px;font:400 20px/20.0px 'Liberation Sans', Arial, sans-serif;color:#000;left:1241.00px;width:2000.00px;text-align:center;">2.1/4" - 14 UN</div>
<div class="t" style="top:1131.68px;font:400 24.5px/24.5px 'Liberation Sans', Arial, sans-serif;color:#000;left:1378.00px;width:2000.00px;text-align:center;">26</div>
<div class="t" style="top:1131.68px;font:400 24.5px/24.5px 'Liberation Sans', Arial, sans-serif;color:#000;left:1562.00px;width:1901.00px;text-align:center;">AF-604</div>
<div class="t" style="top:1131.68px;font:400 24.5px/24.5px 'Liberation Sans', Arial, sans-serif;color:#000;left:1798.50px;width:1664.50px;text-align:center;">2.9</div>
<div class="t" style="top:1131.68px;font:700 24.5px/24.5px 'Liberation Sans', Arial, sans-serif;color:#000;left:1958.00px;width:1505.00px;text-align:center;">3,5</div>
<div class="t" style="top:1131.68px;font:400 24.5px/24.5px 'Liberation Sans', Arial, sans-serif;color:#000;left:2233.50px;width:1229.50px;text-align:center;">Ok</div>
<div class="t" style="top:1169.18px;font:400 24.5px/24.5px 'Liberation Sans', Arial, sans-serif;color:#000;left:0.00px;width:361.20px;text-align:center;">156</div>
<div class="t" style="top:1169.18px;font:400 24.5px/24.5px 'Liberation Sans', Arial, sans-serif;color:#000;left:229.00px;">CS-10156</div>
<div class="t" style="top:1169.18px;font:400 24.5px/24.5px 'Liberation Sans', Arial, sans-serif;color:#000;left:0.00px;width:826.20px;text-align:center;">14,5</div>
<div class="t" style="top:1169.18px;font:400 24.5px/24.5px 'Liberation Sans', Arial, sans-serif;color:#000;left:0.00px;width:1037.00px;text-align:center;">226,2</div>
<div class="t" style="top:1169.18px;font:400 24.5px/24.5px 'Liberation Sans', Arial, sans-serif;color:#000;left:0.00px;width:1250.70px;text-align:center;">247</div>
<div class="t" style="top:1169.18px;font:400 24.5px/24.5px 'Liberation Sans', Arial, sans-serif;color:#000;left:0.00px;width:1492.70px;text-align:center;">403</div>
<div class="t" style="top:1169.18px;font:400 24.5px/24.5px 'Liberation Sans', Arial, sans-serif;color:#000;left:0.00px;width:1728.00px;text-align:center;">57</div>
<div class="t" style="top:1169.18px;font:400 24.5px/24.5px 'Liberation Sans', Arial, sans-serif;color:#000;left:0.00px;width:1944.00px;text-align:center;">43</div>
<div class="t" style="top:1169.18px;font:400 24.5px/24.5px 'Liberation Sans', Arial, sans-serif;color:#000;left:80.00px;width:2000.00px;text-align:center;">38</div>
<div class="t" style="top:1169.18px;font:400 24.5px/24.5px 'Liberation Sans', Arial, sans-serif;color:#000;left:199.30px;width:2000.00px;text-align:center;">19</div>
<div class="t" style="top:1169.18px;font:400 24.5px/24.5px 'Liberation Sans', Arial, sans-serif;color:#000;left:324.05px;width:2000.00px;text-align:center;">35</div>
<div class="t" style="top:1169.18px;font:400 24.5px/24.5px 'Liberation Sans', Arial, sans-serif;color:#000;left:461.90px;width:2000.00px;text-align:center;">6</div>
<div class="t" style="top:1171.38px;font:400 20px/20.0px 'Liberation Sans', Arial, sans-serif;color:#000;left:610.85px;width:2000.00px;text-align:center;">1" - 8 UNC</div>
<div class="t" style="top:1169.18px;font:400 24.5px/24.5px 'Liberation Sans', Arial, sans-serif;color:#000;left:739.20px;width:2000.00px;text-align:center;">19</div>
<div class="t" style="top:1169.18px;font:400 24.5px/24.5px 'Liberation Sans', Arial, sans-serif;color:#000;left:854.80px;width:2000.00px;text-align:center;">39</div>
<div class="t" style="top:1171.38px;font:400 20px/20.0px 'Liberation Sans', Arial, sans-serif;color:#000;left:978.60px;width:2000.00px;text-align:center;">5/16" - 18 UN</div>
<div class="t" style="top:1169.18px;font:400 24.5px/24.5px 'Liberation Sans', Arial, sans-serif;color:#000;left:1102.30px;width:2000.00px;text-align:center;">12</div>
<div class="t" style="top:1171.38px;font:400 20px/20.0px 'Liberation Sans', Arial, sans-serif;color:#000;left:1241.00px;width:2000.00px;text-align:center;">2.1/4" - 14 UN</div>
<div class="t" style="top:1169.18px;font:400 24.5px/24.5px 'Liberation Sans', Arial, sans-serif;color:#000;left:1378.00px;width:2000.00px;text-align:center;">26</div>
<div class="t" style="top:1169.18px;font:400 24.5px/24.5px 'Liberation Sans', Arial, sans-serif;color:#000;left:1562.00px;width:1901.00px;text-align:center;">AF-604</div>
<div class="t" style="top:1169.18px;font:400 24.5px/24.5px 'Liberation Sans', Arial, sans-serif;color:#000;left:1798.50px;width:1664.50px;text-align:center;">4.1</div>
<div class="t" style="top:1169.18px;font:700 24.5px/24.5px 'Liberation Sans', Arial, sans-serif;color:#000;left:1958.00px;width:1505.00px;text-align:center;">4,7</div>
<div class="t" style="top:1169.18px;font:400 24.5px/24.5px 'Liberation Sans', Arial, sans-serif;color:#000;left:2233.50px;width:1229.50px;text-align:center;">Ok</div>
<div class="t" style="top:1206.68px;font:400 24.5px/24.5px 'Liberation Sans', Arial, sans-serif;color:#000;left:0.00px;width:361.20px;text-align:center;">203</div>
<div class="t" style="top:1206.68px;font:400 24.5px/24.5px 'Liberation Sans', Arial, sans-serif;color:#000;left:229.00px;">CS-10203</div>
<div class="t" style="top:1206.68px;font:400 24.5px/24.5px 'Liberation Sans', Arial, sans-serif;color:#000;left:0.00px;width:826.20px;text-align:center;">14,5</div>
<div class="t" style="top:1206.68px;font:400 24.5px/24.5px 'Liberation Sans', Arial, sans-serif;color:#000;left:0.00px;width:1037.00px;text-align:center;">294,35</div>
<div class="t" style="top:1206.68px;font:400 24.5px/24.5px 'Liberation Sans', Arial, sans-serif;color:#000;left:0.00px;width:1250.70px;text-align:center;">298</div>
<div class="t" style="top:1206.68px;font:400 24.5px/24.5px 'Liberation Sans', Arial, sans-serif;color:#000;left:0.00px;width:1492.70px;text-align:center;">501</div>
<div class="t" style="top:1206.68px;font:400 24.5px/24.5px 'Liberation Sans', Arial, sans-serif;color:#000;left:0.00px;width:1728.00px;text-align:center;">57</div>
<div class="t" style="top:1206.68px;font:400 24.5px/24.5px 'Liberation Sans', Arial, sans-serif;color:#000;left:0.00px;width:1944.00px;text-align:center;">43</div>
<div class="t" style="top:1206.68px;font:400 24.5px/24.5px 'Liberation Sans', Arial, sans-serif;color:#000;left:80.00px;width:2000.00px;text-align:center;">38</div>
<div class="t" style="top:1206.68px;font:400 24.5px/24.5px 'Liberation Sans', Arial, sans-serif;color:#000;left:199.30px;width:2000.00px;text-align:center;">19</div>
<div class="t" style="top:1206.68px;font:400 24.5px/24.5px 'Liberation Sans', Arial, sans-serif;color:#000;left:324.05px;width:2000.00px;text-align:center;">35</div>
<div class="t" style="top:1206.68px;font:400 24.5px/24.5px 'Liberation Sans', Arial, sans-serif;color:#000;left:461.90px;width:2000.00px;text-align:center;">6</div>
<div class="t" style="top:1208.88px;font:400 20px/20.0px 'Liberation Sans', Arial, sans-serif;color:#000;left:610.85px;width:2000.00px;text-align:center;">1" - 8 UNC</div>
<div class="t" style="top:1206.68px;font:400 24.5px/24.5px 'Liberation Sans', Arial, sans-serif;color:#000;left:739.20px;width:2000.00px;text-align:center;">19</div>
<div class="t" style="top:1206.68px;font:400 24.5px/24.5px 'Liberation Sans', Arial, sans-serif;color:#000;left:854.80px;width:2000.00px;text-align:center;">39</div>
<div class="t" style="top:1208.88px;font:400 20px/20.0px 'Liberation Sans', Arial, sans-serif;color:#000;left:978.60px;width:2000.00px;text-align:center;">5/16" - 18 UN</div>
<div class="t" style="top:1206.68px;font:400 24.5px/24.5px 'Liberation Sans', Arial, sans-serif;color:#000;left:1102.30px;width:2000.00px;text-align:center;">12</div>
<div class="t" style="top:1208.88px;font:400 20px/20.0px 'Liberation Sans', Arial, sans-serif;color:#000;left:1241.00px;width:2000.00px;text-align:center;">2.1/4" - 14 UN</div>
<div class="t" style="top:1206.68px;font:400 24.5px/24.5px 'Liberation Sans', Arial, sans-serif;color:#000;left:1378.00px;width:2000.00px;text-align:center;">26</div>
<div class="t" style="top:1206.68px;font:400 24.5px/24.5px 'Liberation Sans', Arial, sans-serif;color:#000;left:1562.00px;width:1901.00px;text-align:center;">AF-604</div>
<div class="t" style="top:1206.68px;font:400 24.5px/24.5px 'Liberation Sans', Arial, sans-serif;color:#000;left:1798.50px;width:1664.50px;text-align:center;">4.9</div>
<div class="t" style="top:1206.68px;font:700 24.5px/24.5px 'Liberation Sans', Arial, sans-serif;color:#000;left:1958.00px;width:1505.00px;text-align:center;">5,7</div>
<div class="t" style="top:1206.68px;font:400 24.5px/24.5px 'Liberation Sans', Arial, sans-serif;color:#000;left:2233.50px;width:1229.50px;text-align:center;">Ok</div>
<div class="t" style="top:1244.18px;font:400 24.5px/24.5px 'Liberation Sans', Arial, sans-serif;color:#000;left:0.00px;width:361.20px;text-align:center;">257</div>
<div class="t" style="top:1244.18px;font:400 24.5px/24.5px 'Liberation Sans', Arial, sans-serif;color:#000;left:229.00px;">CS-10257</div>
<div class="t" style="top:1244.18px;font:400 24.5px/24.5px 'Liberation Sans', Arial, sans-serif;color:#000;left:0.00px;width:826.20px;text-align:center;">14,5</div>
<div class="t" style="top:1244.18px;font:400 24.5px/24.5px 'Liberation Sans', Arial, sans-serif;color:#000;left:0.00px;width:1037.00px;text-align:center;">372,65</div>
<div class="t" style="top:1244.18px;font:400 24.5px/24.5px 'Liberation Sans', Arial, sans-serif;color:#000;left:0.00px;width:1250.70px;text-align:center;">349</div>
<div class="t" style="top:1244.18px;font:400 24.5px/24.5px 'Liberation Sans', Arial, sans-serif;color:#000;left:0.00px;width:1492.70px;text-align:center;">606</div>
<div class="t" style="top:1244.18px;font:400 24.5px/24.5px 'Liberation Sans', Arial, sans-serif;color:#000;left:0.00px;width:1728.00px;text-align:center;">57</div>
<div class="t" style="top:1244.18px;font:400 24.5px/24.5px 'Liberation Sans', Arial, sans-serif;color:#000;left:0.00px;width:1944.00px;text-align:center;">43</div>
<div class="t" style="top:1244.18px;font:400 24.5px/24.5px 'Liberation Sans', Arial, sans-serif;color:#000;left:80.00px;width:2000.00px;text-align:center;">38</div>
<div class="t" style="top:1244.18px;font:400 24.5px/24.5px 'Liberation Sans', Arial, sans-serif;color:#000;left:199.30px;width:2000.00px;text-align:center;">19</div>
<div class="t" style="top:1244.18px;font:400 24.5px/24.5px 'Liberation Sans', Arial, sans-serif;color:#000;left:324.05px;width:2000.00px;text-align:center;">35</div>
<div class="t" style="top:1244.18px;font:400 24.5px/24.5px 'Liberation Sans', Arial, sans-serif;color:#000;left:461.90px;width:2000.00px;text-align:center;">6</div>
<div class="t" style="top:1246.38px;font:400 20px/20.0px 'Liberation Sans', Arial, sans-serif;color:#000;left:610.85px;width:2000.00px;text-align:center;">1" - 8 UNC</div>
<div class="t" style="top:1244.18px;font:400 24.5px/24.5px 'Liberation Sans', Arial, sans-serif;color:#000;left:739.20px;width:2000.00px;text-align:center;">19</div>
<div class="t" style="top:1244.18px;font:400 24.5px/24.5px 'Liberation Sans', Arial, sans-serif;color:#000;left:854.80px;width:2000.00px;text-align:center;">39</div>
<div class="t" style="top:1246.38px;font:400 20px/20.0px 'Liberation Sans', Arial, sans-serif;color:#000;left:978.60px;width:2000.00px;text-align:center;">5/16" - 18 UN</div>
<div class="t" style="top:1244.18px;font:400 24.5px/24.5px 'Liberation Sans', Arial, sans-serif;color:#000;left:1102.30px;width:2000.00px;text-align:center;">12</div>
<div class="t" style="top:1246.38px;font:400 20px/20.0px 'Liberation Sans', Arial, sans-serif;color:#000;left:1241.00px;width:2000.00px;text-align:center;">2.1/4" - 14 UN</div>
<div class="t" style="top:1244.18px;font:400 24.5px/24.5px 'Liberation Sans', Arial, sans-serif;color:#000;left:1378.00px;width:2000.00px;text-align:center;">26</div>
<div class="t" style="top:1244.18px;font:400 24.5px/24.5px 'Liberation Sans', Arial, sans-serif;color:#000;left:1562.00px;width:1901.00px;text-align:center;">AF-604</div>
<div class="t" style="top:1244.18px;font:400 24.5px/24.5px 'Liberation Sans', Arial, sans-serif;color:#000;left:1798.50px;width:1664.50px;text-align:center;">5.6</div>
<div class="t" style="top:1244.18px;font:700 24.5px/24.5px 'Liberation Sans', Arial, sans-serif;color:#000;left:1958.00px;width:1505.00px;text-align:center;">6,7</div>
<div class="t" style="top:1244.18px;font:400 24.5px/24.5px 'Liberation Sans', Arial, sans-serif;color:#000;left:2233.50px;width:1229.50px;text-align:center;">Ok</div>
<div class="t" style="top:1281.68px;font:400 24.5px/24.5px 'Liberation Sans', Arial, sans-serif;color:#000;left:0.00px;width:361.20px;text-align:center;">304</div>
<div class="t" style="top:1281.68px;font:400 24.5px/24.5px 'Liberation Sans', Arial, sans-serif;color:#000;left:229.00px;">CS-10304</div>
<div class="t" style="top:1281.68px;font:400 24.5px/24.5px 'Liberation Sans', Arial, sans-serif;color:#000;left:0.00px;width:826.20px;text-align:center;">14,5</div>
<div class="t" style="top:1281.68px;font:400 24.5px/24.5px 'Liberation Sans', Arial, sans-serif;color:#000;left:0.00px;width:1037.00px;text-align:center;">440,8</div>
<div class="t" style="top:1281.68px;font:400 24.5px/24.5px 'Liberation Sans', Arial, sans-serif;color:#000;left:0.00px;width:1250.70px;text-align:center;">400</div>
<div class="t" style="top:1281.68px;font:400 24.5px/24.5px 'Liberation Sans', Arial, sans-serif;color:#000;left:0.00px;width:1492.70px;text-align:center;">704</div>
<div class="t" style="top:1281.68px;font:400 24.5px/24.5px 'Liberation Sans', Arial, sans-serif;color:#000;left:0.00px;width:1728.00px;text-align:center;">57</div>
<div class="t" style="top:1281.68px;font:400 24.5px/24.5px 'Liberation Sans', Arial, sans-serif;color:#000;left:0.00px;width:1944.00px;text-align:center;">43</div>
<div class="t" style="top:1281.68px;font:400 24.5px/24.5px 'Liberation Sans', Arial, sans-serif;color:#000;left:80.00px;width:2000.00px;text-align:center;">38</div>
<div class="t" style="top:1281.68px;font:400 24.5px/24.5px 'Liberation Sans', Arial, sans-serif;color:#000;left:199.30px;width:2000.00px;text-align:center;">19</div>
<div class="t" style="top:1281.68px;font:400 24.5px/24.5px 'Liberation Sans', Arial, sans-serif;color:#000;left:324.05px;width:2000.00px;text-align:center;">35</div>
<div class="t" style="top:1281.68px;font:400 24.5px/24.5px 'Liberation Sans', Arial, sans-serif;color:#000;left:461.90px;width:2000.00px;text-align:center;">6</div>
<div class="t" style="top:1283.88px;font:400 20px/20.0px 'Liberation Sans', Arial, sans-serif;color:#000;left:610.85px;width:2000.00px;text-align:center;">1" - 8 UNC</div>
<div class="t" style="top:1281.68px;font:400 24.5px/24.5px 'Liberation Sans', Arial, sans-serif;color:#000;left:739.20px;width:2000.00px;text-align:center;">19</div>
<div class="t" style="top:1281.68px;font:400 24.5px/24.5px 'Liberation Sans', Arial, sans-serif;color:#000;left:854.80px;width:2000.00px;text-align:center;">39</div>
<div class="t" style="top:1283.88px;font:400 20px/20.0px 'Liberation Sans', Arial, sans-serif;color:#000;left:978.60px;width:2000.00px;text-align:center;">5/16" - 18 UN</div>
<div class="t" style="top:1281.68px;font:400 24.5px/24.5px 'Liberation Sans', Arial, sans-serif;color:#000;left:1102.30px;width:2000.00px;text-align:center;">12</div>
<div class="t" style="top:1283.88px;font:400 20px/20.0px 'Liberation Sans', Arial, sans-serif;color:#000;left:1241.00px;width:2000.00px;text-align:center;">2.1/4" - 14 UN</div>
<div class="t" style="top:1281.68px;font:400 24.5px/24.5px 'Liberation Sans', Arial, sans-serif;color:#000;left:1378.00px;width:2000.00px;text-align:center;">26</div>
<div class="t" style="top:1281.68px;font:400 24.5px/24.5px 'Liberation Sans', Arial, sans-serif;color:#000;left:1562.00px;width:1901.00px;text-align:center;">AF-604</div>
<div class="t" style="top:1281.68px;font:400 24.5px/24.5px 'Liberation Sans', Arial, sans-serif;color:#000;left:1798.50px;width:1664.50px;text-align:center;">6.4</div>
<div class="t" style="top:1281.68px;font:700 24.5px/24.5px 'Liberation Sans', Arial, sans-serif;color:#000;left:1958.00px;width:1505.00px;text-align:center;">7,1</div>
<div class="t" style="top:1280.68px;font:400 24.5px/24.5px 'Liberation Sans', Arial, sans-serif;color:#000;left:2233.50px;width:1229.50px;text-align:center;">*</div>
<div class="t" style="top:1319.18px;font:400 24.5px/24.5px 'Liberation Sans', Arial, sans-serif;color:#000;left:0.00px;width:361.20px;text-align:center;">356</div>
<div class="t" style="top:1319.18px;font:400 24.5px/24.5px 'Liberation Sans', Arial, sans-serif;color:#000;left:229.00px;">CS-10356</div>
<div class="t" style="top:1319.18px;font:400 24.5px/24.5px 'Liberation Sans', Arial, sans-serif;color:#000;left:0.00px;width:826.20px;text-align:center;">14,5</div>
<div class="t" style="top:1319.18px;font:400 24.5px/24.5px 'Liberation Sans', Arial, sans-serif;color:#000;left:0.00px;width:1037.00px;text-align:center;">516,2</div>
<div class="t" style="top:1319.18px;font:400 24.5px/24.5px 'Liberation Sans', Arial, sans-serif;color:#000;left:0.00px;width:1250.70px;text-align:center;">450</div>
<div class="t" style="top:1319.18px;font:400 24.5px/24.5px 'Liberation Sans', Arial, sans-serif;color:#000;left:0.00px;width:1492.70px;text-align:center;">806</div>
<div class="t" style="top:1319.18px;font:400 24.5px/24.5px 'Liberation Sans', Arial, sans-serif;color:#000;left:0.00px;width:1728.00px;text-align:center;">57</div>
<div class="t" style="top:1319.18px;font:400 24.5px/24.5px 'Liberation Sans', Arial, sans-serif;color:#000;left:0.00px;width:1944.00px;text-align:center;">43</div>
<div class="t" style="top:1319.18px;font:400 24.5px/24.5px 'Liberation Sans', Arial, sans-serif;color:#000;left:80.00px;width:2000.00px;text-align:center;">38</div>
<div class="t" style="top:1319.18px;font:400 24.5px/24.5px 'Liberation Sans', Arial, sans-serif;color:#000;left:199.30px;width:2000.00px;text-align:center;">19</div>
<div class="t" style="top:1319.18px;font:400 24.5px/24.5px 'Liberation Sans', Arial, sans-serif;color:#000;left:324.05px;width:2000.00px;text-align:center;">35</div>
<div class="t" style="top:1319.18px;font:400 24.5px/24.5px 'Liberation Sans', Arial, sans-serif;color:#000;left:461.90px;width:2000.00px;text-align:center;">6</div>
<div class="t" style="top:1321.38px;font:400 20px/20.0px 'Liberation Sans', Arial, sans-serif;color:#000;left:610.85px;width:2000.00px;text-align:center;">1" - 8 UNC</div>
<div class="t" style="top:1319.18px;font:400 24.5px/24.5px 'Liberation Sans', Arial, sans-serif;color:#000;left:739.20px;width:2000.00px;text-align:center;">19</div>
<div class="t" style="top:1319.18px;font:400 24.5px/24.5px 'Liberation Sans', Arial, sans-serif;color:#000;left:854.80px;width:2000.00px;text-align:center;">39</div>
<div class="t" style="top:1321.38px;font:400 20px/20.0px 'Liberation Sans', Arial, sans-serif;color:#000;left:978.60px;width:2000.00px;text-align:center;">5/16" - 18 UN</div>
<div class="t" style="top:1319.18px;font:400 24.5px/24.5px 'Liberation Sans', Arial, sans-serif;color:#000;left:1102.30px;width:2000.00px;text-align:center;">12</div>
<div class="t" style="top:1321.38px;font:400 20px/20.0px 'Liberation Sans', Arial, sans-serif;color:#000;left:1241.00px;width:2000.00px;text-align:center;">2.1/4" - 14 UN</div>
<div class="t" style="top:1319.18px;font:400 24.5px/24.5px 'Liberation Sans', Arial, sans-serif;color:#000;left:1378.00px;width:2000.00px;text-align:center;">26</div>
<div class="t" style="top:1319.18px;font:400 24.5px/24.5px 'Liberation Sans', Arial, sans-serif;color:#000;left:1562.00px;width:1901.00px;text-align:center;">AF-604</div>
<div class="t" style="top:1319.18px;font:400 24.5px/24.5px 'Liberation Sans', Arial, sans-serif;color:#000;left:1798.50px;width:1664.50px;text-align:center;">7.2</div>
<div class="t" style="top:1319.18px;font:700 24.5px/24.5px 'Liberation Sans', Arial, sans-serif;color:#000;left:1958.00px;width:1505.00px;text-align:center;">8,5</div>
<div class="t" style="top:1318.18px;font:400 24.5px/24.5px 'Liberation Sans', Arial, sans-serif;color:#000;left:2233.50px;width:1229.50px;text-align:center;">*</div>
<div class="t" style="top:1487.98px;font:400 24.5px/24.5px 'Liberation Sans', Arial, sans-serif;color:#000;left:0.00px;width:63.00px;text-align:center;">15</div>
<div class="t" style="top:1487.98px;font:400 24.5px/24.5px 'Liberation Sans', Arial, sans-serif;color:#000;left:0.00px;width:199.00px;text-align:center;">148</div>
<div class="t" style="top:1356.69px;font:400 24.5px/24.5px 'Liberation Sans', Arial, sans-serif;color:#000;left:0.00px;width:361.20px;text-align:center;">25</div>
<div class="t" style="top:1356.69px;font:400 24.5px/24.5px 'Liberation Sans', Arial, sans-serif;color:#000;left:229.00px;">CS-15025</div>
<div class="t" style="top:1356.69px;font:400 24.5px/24.5px 'Liberation Sans', Arial, sans-serif;color:#000;left:0.00px;width:826.20px;text-align:center;">21,2</div>
<div class="t" style="top:1356.69px;font:400 24.5px/24.5px 'Liberation Sans', Arial, sans-serif;color:#000;left:0.00px;width:1037.00px;text-align:center;">53</div>
<div class="t" style="top:1356.69px;font:400 24.5px/24.5px 'Liberation Sans', Arial, sans-serif;color:#000;left:0.00px;width:1250.70px;text-align:center;">124</div>
<div class="t" style="top:1356.69px;font:400 24.5px/24.5px 'Liberation Sans', Arial, sans-serif;color:#000;left:0.00px;width:1492.70px;text-align:center;">149</div>
<div class="t" style="top:1356.69px;font:400 24.5px/24.5px 'Liberation Sans', Arial, sans-serif;color:#000;left:0.00px;width:1728.00px;text-align:center;">69</div>
<div class="t" style="top:1356.69px;font:400 24.5px/24.5px 'Liberation Sans', Arial, sans-serif;color:#000;left:0.00px;width:1944.00px;text-align:center;">52</div>
<div class="t" style="top:1356.69px;font:400 24.5px/24.5px 'Liberation Sans', Arial, sans-serif;color:#000;left:80.00px;width:2000.00px;text-align:center;">42</div>
<div class="t" style="top:1356.69px;font:400 24.5px/24.5px 'Liberation Sans', Arial, sans-serif;color:#000;left:199.30px;width:2000.00px;text-align:center;">19</div>
<div class="t" style="top:1356.69px;font:400 24.5px/24.5px 'Liberation Sans', Arial, sans-serif;color:#000;left:324.05px;width:2000.00px;text-align:center;">38</div>
<div class="t" style="top:1356.69px;font:400 24.5px/24.5px 'Liberation Sans', Arial, sans-serif;color:#000;left:461.90px;width:2000.00px;text-align:center;">9</div>
<div class="t" style="top:1358.89px;font:400 20px/20.0px 'Liberation Sans', Arial, sans-serif;color:#000;left:610.85px;width:2000.00px;text-align:center;">1" - 8 UNC</div>
<div class="t" style="top:1356.69px;font:400 24.5px/24.5px 'Liberation Sans', Arial, sans-serif;color:#000;left:739.20px;width:2000.00px;text-align:center;">25</div>
<div class="t" style="top:1356.69px;font:400 24.5px/24.5px 'Liberation Sans', Arial, sans-serif;color:#000;left:854.80px;width:2000.00px;text-align:center;">47</div>
<div class="t" style="top:1358.89px;font:400 20px/20.0px 'Liberation Sans', Arial, sans-serif;color:#000;left:978.60px;width:2000.00px;text-align:center;">3/8" - 16 UN</div>
<div class="t" style="top:1356.69px;font:400 24.5px/24.5px 'Liberation Sans', Arial, sans-serif;color:#000;left:1102.30px;width:2000.00px;text-align:center;">12</div>
<div class="t" style="top:1358.89px;font:400 20px/20.0px 'Liberation Sans', Arial, sans-serif;color:#000;left:1241.00px;width:2000.00px;text-align:center;">2.3/4" - 16 UN</div>
<div class="t" style="top:1356.69px;font:400 24.5px/24.5px 'Liberation Sans', Arial, sans-serif;color:#000;left:1378.00px;width:2000.00px;text-align:center;">35</div>
<div class="t" style="top:1356.69px;font:400 24.5px/24.5px 'Liberation Sans', Arial, sans-serif;color:#000;left:1562.00px;width:1901.00px;text-align:center;">AF-604</div>
<div class="t" style="top:1356.69px;font:400 24.5px/24.5px 'Liberation Sans', Arial, sans-serif;color:#000;left:1798.50px;width:1664.50px;text-align:center;">3.2</div>
<div class="t" style="top:1356.69px;font:700 24.5px/24.5px 'Liberation Sans', Arial, sans-serif;color:#000;left:1958.00px;width:1505.00px;text-align:center;">3,5</div>
<div class="t" style="top:1355.69px;font:400 24.5px/24.5px 'Liberation Sans', Arial, sans-serif;color:#000;left:2233.50px;width:1229.50px;text-align:center;">*</div>
<div class="t" style="top:1394.20px;font:400 24.5px/24.5px 'Liberation Sans', Arial, sans-serif;color:#000;left:0.00px;width:361.20px;text-align:center;">51</div>
<div class="t" style="top:1394.20px;font:400 24.5px/24.5px 'Liberation Sans', Arial, sans-serif;color:#000;left:229.00px;">CS-15051</div>
<div class="t" style="top:1394.20px;font:400 24.5px/24.5px 'Liberation Sans', Arial, sans-serif;color:#000;left:0.00px;width:826.20px;text-align:center;">21,2</div>
<div class="t" style="top:1394.20px;font:400 24.5px/24.5px 'Liberation Sans', Arial, sans-serif;color:#000;left:0.00px;width:1037.00px;text-align:center;">108,12</div>
<div class="t" style="top:1394.20px;font:400 24.5px/24.5px 'Liberation Sans', Arial, sans-serif;color:#000;left:0.00px;width:1250.70px;text-align:center;">149</div>
<div class="t" style="top:1394.20px;font:400 24.5px/24.5px 'Liberation Sans', Arial, sans-serif;color:#000;left:0.00px;width:1492.70px;text-align:center;">200</div>
<div class="t" style="top:1394.20px;font:400 24.5px/24.5px 'Liberation Sans', Arial, sans-serif;color:#000;left:0.00px;width:1728.00px;text-align:center;">69</div>
<div class="t" style="top:1394.20px;font:400 24.5px/24.5px 'Liberation Sans', Arial, sans-serif;color:#000;left:0.00px;width:1944.00px;text-align:center;">52</div>
<div class="t" style="top:1394.20px;font:400 24.5px/24.5px 'Liberation Sans', Arial, sans-serif;color:#000;left:80.00px;width:2000.00px;text-align:center;">42</div>
<div class="t" style="top:1394.20px;font:400 24.5px/24.5px 'Liberation Sans', Arial, sans-serif;color:#000;left:199.30px;width:2000.00px;text-align:center;">19</div>
<div class="t" style="top:1394.20px;font:400 24.5px/24.5px 'Liberation Sans', Arial, sans-serif;color:#000;left:324.05px;width:2000.00px;text-align:center;">38</div>
<div class="t" style="top:1394.20px;font:400 24.5px/24.5px 'Liberation Sans', Arial, sans-serif;color:#000;left:461.90px;width:2000.00px;text-align:center;">9</div>
<div class="t" style="top:1396.40px;font:400 20px/20.0px 'Liberation Sans', Arial, sans-serif;color:#000;left:610.85px;width:2000.00px;text-align:center;">1" - 8 UNC</div>
<div class="t" style="top:1394.20px;font:400 24.5px/24.5px 'Liberation Sans', Arial, sans-serif;color:#000;left:739.20px;width:2000.00px;text-align:center;">25</div>
<div class="t" style="top:1394.20px;font:400 24.5px/24.5px 'Liberation Sans', Arial, sans-serif;color:#000;left:854.80px;width:2000.00px;text-align:center;">47</div>
<div class="t" style="top:1396.40px;font:400 20px/20.0px 'Liberation Sans', Arial, sans-serif;color:#000;left:978.60px;width:2000.00px;text-align:center;">3/8" - 16 UN</div>
<div class="t" style="top:1394.20px;font:400 24.5px/24.5px 'Liberation Sans', Arial, sans-serif;color:#000;left:1102.30px;width:2000.00px;text-align:center;">12</div>
<div class="t" style="top:1396.40px;font:400 20px/20.0px 'Liberation Sans', Arial, sans-serif;color:#000;left:1241.00px;width:2000.00px;text-align:center;">2.3/4" - 16 UN</div>
<div class="t" style="top:1394.20px;font:400 24.5px/24.5px 'Liberation Sans', Arial, sans-serif;color:#000;left:1378.00px;width:2000.00px;text-align:center;">35</div>
<div class="t" style="top:1394.20px;font:400 24.5px/24.5px 'Liberation Sans', Arial, sans-serif;color:#000;left:1562.00px;width:1901.00px;text-align:center;">AF-604</div>
<div class="t" style="top:1394.20px;font:400 24.5px/24.5px 'Liberation Sans', Arial, sans-serif;color:#000;left:1798.50px;width:1664.50px;text-align:center;">3.7</div>
<div class="t" style="top:1394.20px;font:700 24.5px/24.5px 'Liberation Sans', Arial, sans-serif;color:#000;left:1958.00px;width:1505.00px;text-align:center;">4,4</div>
<div class="t" style="top:1394.20px;font:400 24.5px/24.5px 'Liberation Sans', Arial, sans-serif;color:#000;left:2233.50px;width:1229.50px;text-align:center;">Ok</div>
<div class="t" style="top:1431.71px;font:400 24.5px/24.5px 'Liberation Sans', Arial, sans-serif;color:#000;left:0.00px;width:361.20px;text-align:center;">101</div>
<div class="t" style="top:1431.71px;font:400 24.5px/24.5px 'Liberation Sans', Arial, sans-serif;color:#000;left:229.00px;">CS-15101</div>
<div class="t" style="top:1431.71px;font:400 24.5px/24.5px 'Liberation Sans', Arial, sans-serif;color:#000;left:0.00px;width:826.20px;text-align:center;">21,2</div>
<div class="t" style="top:1431.71px;font:400 24.5px/24.5px 'Liberation Sans', Arial, sans-serif;color:#000;left:0.00px;width:1037.00px;text-align:center;">214,12</div>
<div class="t" style="top:1431.71px;font:400 24.5px/24.5px 'Liberation Sans', Arial, sans-serif;color:#000;left:0.00px;width:1250.70px;text-align:center;">200</div>
<div class="t" style="top:1431.71px;font:400 24.5px/24.5px 'Liberation Sans', Arial, sans-serif;color:#000;left:0.00px;width:1492.70px;text-align:center;">301</div>
<div class="t" style="top:1431.71px;font:400 24.5px/24.5px 'Liberation Sans', Arial, sans-serif;color:#000;left:0.00px;width:1728.00px;text-align:center;">69</div>
<div class="t" style="top:1431.71px;font:400 24.5px/24.5px 'Liberation Sans', Arial, sans-serif;color:#000;left:0.00px;width:1944.00px;text-align:center;">52</div>
<div class="t" style="top:1431.71px;font:400 24.5px/24.5px 'Liberation Sans', Arial, sans-serif;color:#000;left:80.00px;width:2000.00px;text-align:center;">42</div>
<div class="t" style="top:1431.71px;font:400 24.5px/24.5px 'Liberation Sans', Arial, sans-serif;color:#000;left:199.30px;width:2000.00px;text-align:center;">19</div>
<div class="t" style="top:1431.71px;font:400 24.5px/24.5px 'Liberation Sans', Arial, sans-serif;color:#000;left:324.05px;width:2000.00px;text-align:center;">38</div>
<div class="t" style="top:1431.71px;font:400 24.5px/24.5px 'Liberation Sans', Arial, sans-serif;color:#000;left:461.90px;width:2000.00px;text-align:center;">9</div>
<div class="t" style="top:1433.91px;font:400 20px/20.0px 'Liberation Sans', Arial, sans-serif;color:#000;left:610.85px;width:2000.00px;text-align:center;">1" - 8 UNC</div>
<div class="t" style="top:1431.71px;font:400 24.5px/24.5px 'Liberation Sans', Arial, sans-serif;color:#000;left:739.20px;width:2000.00px;text-align:center;">25</div>
<div class="t" style="top:1431.71px;font:400 24.5px/24.5px 'Liberation Sans', Arial, sans-serif;color:#000;left:854.80px;width:2000.00px;text-align:center;">47</div>
<div class="t" style="top:1433.91px;font:400 20px/20.0px 'Liberation Sans', Arial, sans-serif;color:#000;left:978.60px;width:2000.00px;text-align:center;">3/8" - 16 UN</div>
<div class="t" style="top:1431.71px;font:400 24.5px/24.5px 'Liberation Sans', Arial, sans-serif;color:#000;left:1102.30px;width:2000.00px;text-align:center;">12</div>
<div class="t" style="top:1433.91px;font:400 20px/20.0px 'Liberation Sans', Arial, sans-serif;color:#000;left:1241.00px;width:2000.00px;text-align:center;">2.3/4" - 16 UN</div>
<div class="t" style="top:1431.71px;font:400 24.5px/24.5px 'Liberation Sans', Arial, sans-serif;color:#000;left:1378.00px;width:2000.00px;text-align:center;">35</div>
<div class="t" style="top:1431.71px;font:400 24.5px/24.5px 'Liberation Sans', Arial, sans-serif;color:#000;left:1562.00px;width:1901.00px;text-align:center;">AF-604</div>
<div class="t" style="top:1431.71px;font:400 24.5px/24.5px 'Liberation Sans', Arial, sans-serif;color:#000;left:1798.50px;width:1664.50px;text-align:center;">5.0</div>
<div class="t" style="top:1431.71px;font:700 24.5px/24.5px 'Liberation Sans', Arial, sans-serif;color:#000;left:1958.00px;width:1505.00px;text-align:center;">5,3</div>
<div class="t" style="top:1431.71px;font:400 24.5px/24.5px 'Liberation Sans', Arial, sans-serif;color:#000;left:2233.50px;width:1229.50px;text-align:center;">Ok</div>
<div class="t" style="top:1469.23px;font:400 24.5px/24.5px 'Liberation Sans', Arial, sans-serif;color:#000;left:0.00px;width:361.20px;text-align:center;">152</div>
<div class="t" style="top:1469.23px;font:400 24.5px/24.5px 'Liberation Sans', Arial, sans-serif;color:#000;left:229.00px;">CS-15152</div>
<div class="t" style="top:1469.23px;font:400 24.5px/24.5px 'Liberation Sans', Arial, sans-serif;color:#000;left:0.00px;width:826.20px;text-align:center;">21,2</div>
<div class="t" style="top:1469.23px;font:400 24.5px/24.5px 'Liberation Sans', Arial, sans-serif;color:#000;left:0.00px;width:1037.00px;text-align:center;">322,24</div>
<div class="t" style="top:1469.23px;font:400 24.5px/24.5px 'Liberation Sans', Arial, sans-serif;color:#000;left:0.00px;width:1250.70px;text-align:center;">271</div>
<div class="t" style="top:1469.23px;font:400 24.5px/24.5px 'Liberation Sans', Arial, sans-serif;color:#000;left:0.00px;width:1492.70px;text-align:center;">423</div>
<div class="t" style="top:1469.23px;font:400 24.5px/24.5px 'Liberation Sans', Arial, sans-serif;color:#000;left:0.00px;width:1728.00px;text-align:center;">69</div>
<div class="t" style="top:1469.23px;font:400 24.5px/24.5px 'Liberation Sans', Arial, sans-serif;color:#000;left:0.00px;width:1944.00px;text-align:center;">52</div>
<div class="t" style="top:1469.23px;font:400 24.5px/24.5px 'Liberation Sans', Arial, sans-serif;color:#000;left:80.00px;width:2000.00px;text-align:center;">42</div>
<div class="t" style="top:1469.23px;font:400 24.5px/24.5px 'Liberation Sans', Arial, sans-serif;color:#000;left:199.30px;width:2000.00px;text-align:center;">25</div>
<div class="t" style="top:1469.23px;font:400 24.5px/24.5px 'Liberation Sans', Arial, sans-serif;color:#000;left:324.05px;width:2000.00px;text-align:center;">38</div>
<div class="t" style="top:1469.23px;font:400 24.5px/24.5px 'Liberation Sans', Arial, sans-serif;color:#000;left:461.90px;width:2000.00px;text-align:center;">9</div>
<div class="t" style="top:1471.42px;font:400 20px/20.0px 'Liberation Sans', Arial, sans-serif;color:#000;left:610.85px;width:2000.00px;text-align:center;">1" - 8 UNC</div>
<div class="t" style="top:1469.23px;font:400 24.5px/24.5px 'Liberation Sans', Arial, sans-serif;color:#000;left:739.20px;width:2000.00px;text-align:center;">25</div>
<div class="t" style="top:1469.23px;font:400 24.5px/24.5px 'Liberation Sans', Arial, sans-serif;color:#000;left:854.80px;width:2000.00px;text-align:center;">47</div>
<div class="t" style="top:1471.42px;font:400 20px/20.0px 'Liberation Sans', Arial, sans-serif;color:#000;left:978.60px;width:2000.00px;text-align:center;">3/8" - 16 UN</div>
<div class="t" style="top:1469.23px;font:400 24.5px/24.5px 'Liberation Sans', Arial, sans-serif;color:#000;left:1102.30px;width:2000.00px;text-align:center;">12</div>
<div class="t" style="top:1471.42px;font:400 20px/20.0px 'Liberation Sans', Arial, sans-serif;color:#000;left:1241.00px;width:2000.00px;text-align:center;">2.3/4" - 16 UN</div>
<div class="t" style="top:1469.23px;font:400 24.5px/24.5px 'Liberation Sans', Arial, sans-serif;color:#000;left:1378.00px;width:2000.00px;text-align:center;">35</div>
<div class="t" style="top:1469.23px;font:400 24.5px/24.5px 'Liberation Sans', Arial, sans-serif;color:#000;left:1562.00px;width:1901.00px;text-align:center;">AF-604</div>
<div class="t" style="top:1469.23px;font:400 24.5px/24.5px 'Liberation Sans', Arial, sans-serif;color:#000;left:1798.50px;width:1664.50px;text-align:center;">6.5</div>
<div class="t" style="top:1469.23px;font:700 24.5px/24.5px 'Liberation Sans', Arial, sans-serif;color:#000;left:1958.00px;width:1505.00px;text-align:center;">7,1</div>
<div class="t" style="top:1469.23px;font:400 24.5px/24.5px 'Liberation Sans', Arial, sans-serif;color:#000;left:2233.50px;width:1229.50px;text-align:center;">Ok</div>
<div class="t" style="top:1506.74px;font:400 24.5px/24.5px 'Liberation Sans', Arial, sans-serif;color:#000;left:0.00px;width:361.20px;text-align:center;">203</div>
<div class="t" style="top:1506.74px;font:400 24.5px/24.5px 'Liberation Sans', Arial, sans-serif;color:#000;left:229.00px;">CS-15203</div>
<div class="t" style="top:1506.74px;font:400 24.5px/24.5px 'Liberation Sans', Arial, sans-serif;color:#000;left:0.00px;width:826.20px;text-align:center;">21,2</div>
<div class="t" style="top:1506.74px;font:400 24.5px/24.5px 'Liberation Sans', Arial, sans-serif;color:#000;left:0.00px;width:1037.00px;text-align:center;">430,36</div>
<div class="t" style="top:1506.74px;font:400 24.5px/24.5px 'Liberation Sans', Arial, sans-serif;color:#000;left:0.00px;width:1250.70px;text-align:center;">322</div>
<div class="t" style="top:1506.74px;font:400 24.5px/24.5px 'Liberation Sans', Arial, sans-serif;color:#000;left:0.00px;width:1492.70px;text-align:center;">525</div>
<div class="t" style="top:1506.74px;font:400 24.5px/24.5px 'Liberation Sans', Arial, sans-serif;color:#000;left:0.00px;width:1728.00px;text-align:center;">69</div>
<div class="t" style="top:1506.74px;font:400 24.5px/24.5px 'Liberation Sans', Arial, sans-serif;color:#000;left:0.00px;width:1944.00px;text-align:center;">52</div>
<div class="t" style="top:1506.74px;font:400 24.5px/24.5px 'Liberation Sans', Arial, sans-serif;color:#000;left:80.00px;width:2000.00px;text-align:center;">42</div>
<div class="t" style="top:1506.74px;font:400 24.5px/24.5px 'Liberation Sans', Arial, sans-serif;color:#000;left:199.30px;width:2000.00px;text-align:center;">25</div>
<div class="t" style="top:1506.74px;font:400 24.5px/24.5px 'Liberation Sans', Arial, sans-serif;color:#000;left:324.05px;width:2000.00px;text-align:center;">38</div>
<div class="t" style="top:1506.74px;font:400 24.5px/24.5px 'Liberation Sans', Arial, sans-serif;color:#000;left:461.90px;width:2000.00px;text-align:center;">9</div>
<div class="t" style="top:1508.94px;font:400 20px/20.0px 'Liberation Sans', Arial, sans-serif;color:#000;left:610.85px;width:2000.00px;text-align:center;">1" - 8 UNC</div>
<div class="t" style="top:1506.74px;font:400 24.5px/24.5px 'Liberation Sans', Arial, sans-serif;color:#000;left:739.20px;width:2000.00px;text-align:center;">25</div>
<div class="t" style="top:1506.74px;font:400 24.5px/24.5px 'Liberation Sans', Arial, sans-serif;color:#000;left:854.80px;width:2000.00px;text-align:center;">47</div>
<div class="t" style="top:1508.94px;font:400 20px/20.0px 'Liberation Sans', Arial, sans-serif;color:#000;left:978.60px;width:2000.00px;text-align:center;">3/8" - 16 UN</div>
<div class="t" style="top:1506.74px;font:400 24.5px/24.5px 'Liberation Sans', Arial, sans-serif;color:#000;left:1102.30px;width:2000.00px;text-align:center;">12</div>
<div class="t" style="top:1508.94px;font:400 20px/20.0px 'Liberation Sans', Arial, sans-serif;color:#000;left:1241.00px;width:2000.00px;text-align:center;">2.3/4" - 16 UN</div>
<div class="t" style="top:1506.74px;font:400 24.5px/24.5px 'Liberation Sans', Arial, sans-serif;color:#000;left:1378.00px;width:2000.00px;text-align:center;">35</div>
<div class="t" style="top:1506.74px;font:400 24.5px/24.5px 'Liberation Sans', Arial, sans-serif;color:#000;left:1562.00px;width:1901.00px;text-align:center;">AF-604</div>
<div class="t" style="top:1506.74px;font:400 24.5px/24.5px 'Liberation Sans', Arial, sans-serif;color:#000;left:1798.50px;width:1664.50px;text-align:center;">7.7</div>
<div class="t" style="top:1506.74px;font:700 24.5px/24.5px 'Liberation Sans', Arial, sans-serif;color:#000;left:1958.00px;width:1505.00px;text-align:center;">8,5</div>
<div class="t" style="top:1506.74px;font:400 24.5px/24.5px 'Liberation Sans', Arial, sans-serif;color:#000;left:2233.50px;width:1229.50px;text-align:center;">Ok</div>
<div class="t" style="top:1544.25px;font:400 24.5px/24.5px 'Liberation Sans', Arial, sans-serif;color:#000;left:0.00px;width:361.20px;text-align:center;">254</div>
<div class="t" style="top:1544.25px;font:400 24.5px/24.5px 'Liberation Sans', Arial, sans-serif;color:#000;left:229.00px;">CS-15254</div>
<div class="t" style="top:1544.25px;font:400 24.5px/24.5px 'Liberation Sans', Arial, sans-serif;color:#000;left:0.00px;width:826.20px;text-align:center;">21,2</div>
<div class="t" style="top:1544.25px;font:400 24.5px/24.5px 'Liberation Sans', Arial, sans-serif;color:#000;left:0.00px;width:1037.00px;text-align:center;">538,48</div>
<div class="t" style="top:1544.25px;font:400 24.5px/24.5px 'Liberation Sans', Arial, sans-serif;color:#000;left:0.00px;width:1250.70px;text-align:center;">373</div>
<div class="t" style="top:1544.25px;font:400 24.5px/24.5px 'Liberation Sans', Arial, sans-serif;color:#000;left:0.00px;width:1492.70px;text-align:center;">627</div>
<div class="t" style="top:1544.25px;font:400 24.5px/24.5px 'Liberation Sans', Arial, sans-serif;color:#000;left:0.00px;width:1728.00px;text-align:center;">69</div>
<div class="t" style="top:1544.25px;font:400 24.5px/24.5px 'Liberation Sans', Arial, sans-serif;color:#000;left:0.00px;width:1944.00px;text-align:center;">52</div>
<div class="t" style="top:1544.25px;font:400 24.5px/24.5px 'Liberation Sans', Arial, sans-serif;color:#000;left:80.00px;width:2000.00px;text-align:center;">42</div>
<div class="t" style="top:1544.25px;font:400 24.5px/24.5px 'Liberation Sans', Arial, sans-serif;color:#000;left:199.30px;width:2000.00px;text-align:center;">25</div>
<div class="t" style="top:1544.25px;font:400 24.5px/24.5px 'Liberation Sans', Arial, sans-serif;color:#000;left:324.05px;width:2000.00px;text-align:center;">38</div>
<div class="t" style="top:1544.25px;font:400 24.5px/24.5px 'Liberation Sans', Arial, sans-serif;color:#000;left:461.90px;width:2000.00px;text-align:center;">9</div>
<div class="t" style="top:1546.45px;font:400 20px/20.0px 'Liberation Sans', Arial, sans-serif;color:#000;left:610.85px;width:2000.00px;text-align:center;">1" - 8 UNC</div>
<div class="t" style="top:1544.25px;font:400 24.5px/24.5px 'Liberation Sans', Arial, sans-serif;color:#000;left:739.20px;width:2000.00px;text-align:center;">25</div>
<div class="t" style="top:1544.25px;font:400 24.5px/24.5px 'Liberation Sans', Arial, sans-serif;color:#000;left:854.80px;width:2000.00px;text-align:center;">47</div>
<div class="t" style="top:1546.45px;font:400 20px/20.0px 'Liberation Sans', Arial, sans-serif;color:#000;left:978.60px;width:2000.00px;text-align:center;">3/8" - 16 UN</div>
<div class="t" style="top:1544.25px;font:400 24.5px/24.5px 'Liberation Sans', Arial, sans-serif;color:#000;left:1102.30px;width:2000.00px;text-align:center;">12</div>
<div class="t" style="top:1546.45px;font:400 20px/20.0px 'Liberation Sans', Arial, sans-serif;color:#000;left:1241.00px;width:2000.00px;text-align:center;">2.3/4" - 16 UN</div>
<div class="t" style="top:1544.25px;font:400 24.5px/24.5px 'Liberation Sans', Arial, sans-serif;color:#000;left:1378.00px;width:2000.00px;text-align:center;">35</div>
<div class="t" style="top:1544.25px;font:400 24.5px/24.5px 'Liberation Sans', Arial, sans-serif;color:#000;left:1562.00px;width:1901.00px;text-align:center;">AF-604</div>
<div class="t" style="top:1544.25px;font:400 24.5px/24.5px 'Liberation Sans', Arial, sans-serif;color:#000;left:1798.50px;width:1664.50px;text-align:center;">8.7</div>
<div class="t" style="top:1544.25px;font:700 24.5px/24.5px 'Liberation Sans', Arial, sans-serif;color:#000;left:1958.00px;width:1505.00px;text-align:center;">10</div>
<div class="t" style="top:1543.25px;font:400 24.5px/24.5px 'Liberation Sans', Arial, sans-serif;color:#000;left:2233.50px;width:1229.50px;text-align:center;">*</div>
<div class="t" style="top:1581.76px;font:400 24.5px/24.5px 'Liberation Sans', Arial, sans-serif;color:#000;left:0.00px;width:361.20px;text-align:center;">305</div>
<div class="t" style="top:1581.76px;font:400 24.5px/24.5px 'Liberation Sans', Arial, sans-serif;color:#000;left:229.00px;">CS-15305</div>
<div class="t" style="top:1581.76px;font:400 24.5px/24.5px 'Liberation Sans', Arial, sans-serif;color:#000;left:0.00px;width:826.20px;text-align:center;">21,2</div>
<div class="t" style="top:1581.76px;font:400 24.5px/24.5px 'Liberation Sans', Arial, sans-serif;color:#000;left:0.00px;width:1037.00px;text-align:center;">646,6</div>
<div class="t" style="top:1581.76px;font:400 24.5px/24.5px 'Liberation Sans', Arial, sans-serif;color:#000;left:0.00px;width:1250.70px;text-align:center;">423</div>
<div class="t" style="top:1581.76px;font:400 24.5px/24.5px 'Liberation Sans', Arial, sans-serif;color:#000;left:0.00px;width:1492.70px;text-align:center;">728</div>
<div class="t" style="top:1581.76px;font:400 24.5px/24.5px 'Liberation Sans', Arial, sans-serif;color:#000;left:0.00px;width:1728.00px;text-align:center;">69</div>
<div class="t" style="top:1581.76px;font:400 24.5px/24.5px 'Liberation Sans', Arial, sans-serif;color:#000;left:0.00px;width:1944.00px;text-align:center;">52</div>
<div class="t" style="top:1581.76px;font:400 24.5px/24.5px 'Liberation Sans', Arial, sans-serif;color:#000;left:80.00px;width:2000.00px;text-align:center;">42</div>
<div class="t" style="top:1581.76px;font:400 24.5px/24.5px 'Liberation Sans', Arial, sans-serif;color:#000;left:199.30px;width:2000.00px;text-align:center;">25</div>
<div class="t" style="top:1581.76px;font:400 24.5px/24.5px 'Liberation Sans', Arial, sans-serif;color:#000;left:324.05px;width:2000.00px;text-align:center;">38</div>
<div class="t" style="top:1581.76px;font:400 24.5px/24.5px 'Liberation Sans', Arial, sans-serif;color:#000;left:461.90px;width:2000.00px;text-align:center;">9</div>
<div class="t" style="top:1583.96px;font:400 20px/20.0px 'Liberation Sans', Arial, sans-serif;color:#000;left:610.85px;width:2000.00px;text-align:center;">1" - 8 UNC</div>
<div class="t" style="top:1581.76px;font:400 24.5px/24.5px 'Liberation Sans', Arial, sans-serif;color:#000;left:739.20px;width:2000.00px;text-align:center;">25</div>
<div class="t" style="top:1581.76px;font:400 24.5px/24.5px 'Liberation Sans', Arial, sans-serif;color:#000;left:854.80px;width:2000.00px;text-align:center;">47</div>
<div class="t" style="top:1583.96px;font:400 20px/20.0px 'Liberation Sans', Arial, sans-serif;color:#000;left:978.60px;width:2000.00px;text-align:center;">3/8" - 16 UN</div>
<div class="t" style="top:1581.76px;font:400 24.5px/24.5px 'Liberation Sans', Arial, sans-serif;color:#000;left:1102.30px;width:2000.00px;text-align:center;">12</div>
<div class="t" style="top:1583.96px;font:400 20px/20.0px 'Liberation Sans', Arial, sans-serif;color:#000;left:1241.00px;width:2000.00px;text-align:center;">2.3/4" - 16 UN</div>
<div class="t" style="top:1581.76px;font:400 24.5px/24.5px 'Liberation Sans', Arial, sans-serif;color:#000;left:1378.00px;width:2000.00px;text-align:center;">35</div>
<div class="t" style="top:1581.76px;font:400 24.5px/24.5px 'Liberation Sans', Arial, sans-serif;color:#000;left:1562.00px;width:1901.00px;text-align:center;">AF-604</div>
<div class="t" style="top:1581.76px;font:400 24.5px/24.5px 'Liberation Sans', Arial, sans-serif;color:#000;left:1798.50px;width:1664.50px;text-align:center;">9.8</div>
<div class="t" style="top:1581.76px;font:700 24.5px/24.5px 'Liberation Sans', Arial, sans-serif;color:#000;left:1958.00px;width:1505.00px;text-align:center;">11,5</div>
<div class="t" style="top:1580.76px;font:400 24.5px/24.5px 'Liberation Sans', Arial, sans-serif;color:#000;left:2233.50px;width:1229.50px;text-align:center;">*</div>
<div class="t" style="top:1619.28px;font:400 24.5px/24.5px 'Liberation Sans', Arial, sans-serif;color:#000;left:0.00px;width:361.20px;text-align:center;">356</div>
<div class="t" style="top:1619.28px;font:400 24.5px/24.5px 'Liberation Sans', Arial, sans-serif;color:#000;left:229.00px;">CS-15356</div>
<div class="t" style="top:1619.28px;font:400 24.5px/24.5px 'Liberation Sans', Arial, sans-serif;color:#000;left:0.00px;width:826.20px;text-align:center;">21,2</div>
<div class="t" style="top:1619.28px;font:400 24.5px/24.5px 'Liberation Sans', Arial, sans-serif;color:#000;left:0.00px;width:1037.00px;text-align:center;">754,72</div>
<div class="t" style="top:1619.28px;font:400 24.5px/24.5px 'Liberation Sans', Arial, sans-serif;color:#000;left:0.00px;width:1250.70px;text-align:center;">474</div>
<div class="t" style="top:1619.28px;font:400 24.5px/24.5px 'Liberation Sans', Arial, sans-serif;color:#000;left:0.00px;width:1492.70px;text-align:center;">830</div>
<div class="t" style="top:1619.28px;font:400 24.5px/24.5px 'Liberation Sans', Arial, sans-serif;color:#000;left:0.00px;width:1728.00px;text-align:center;">69</div>
<div class="t" style="top:1619.28px;font:400 24.5px/24.5px 'Liberation Sans', Arial, sans-serif;color:#000;left:0.00px;width:1944.00px;text-align:center;">52</div>
<div class="t" style="top:1619.28px;font:400 24.5px/24.5px 'Liberation Sans', Arial, sans-serif;color:#000;left:80.00px;width:2000.00px;text-align:center;">42</div>
<div class="t" style="top:1619.28px;font:400 24.5px/24.5px 'Liberation Sans', Arial, sans-serif;color:#000;left:199.30px;width:2000.00px;text-align:center;">25</div>
<div class="t" style="top:1619.28px;font:400 24.5px/24.5px 'Liberation Sans', Arial, sans-serif;color:#000;left:324.05px;width:2000.00px;text-align:center;">38</div>
<div class="t" style="top:1619.28px;font:400 24.5px/24.5px 'Liberation Sans', Arial, sans-serif;color:#000;left:461.90px;width:2000.00px;text-align:center;">9</div>
<div class="t" style="top:1621.47px;font:400 20px/20.0px 'Liberation Sans', Arial, sans-serif;color:#000;left:610.85px;width:2000.00px;text-align:center;">1" - 8 UNC</div>
<div class="t" style="top:1619.28px;font:400 24.5px/24.5px 'Liberation Sans', Arial, sans-serif;color:#000;left:739.20px;width:2000.00px;text-align:center;">25</div>
<div class="t" style="top:1619.28px;font:400 24.5px/24.5px 'Liberation Sans', Arial, sans-serif;color:#000;left:854.80px;width:2000.00px;text-align:center;">47</div>
<div class="t" style="top:1621.47px;font:400 20px/20.0px 'Liberation Sans', Arial, sans-serif;color:#000;left:978.60px;width:2000.00px;text-align:center;">3/8" - 16 UN</div>
<div class="t" style="top:1619.28px;font:400 24.5px/24.5px 'Liberation Sans', Arial, sans-serif;color:#000;left:1102.30px;width:2000.00px;text-align:center;">12</div>
<div class="t" style="top:1621.47px;font:400 20px/20.0px 'Liberation Sans', Arial, sans-serif;color:#000;left:1241.00px;width:2000.00px;text-align:center;">2.3/4" - 16 UN</div>
<div class="t" style="top:1619.28px;font:400 24.5px/24.5px 'Liberation Sans', Arial, sans-serif;color:#000;left:1378.00px;width:2000.00px;text-align:center;">35</div>
<div class="t" style="top:1619.28px;font:400 24.5px/24.5px 'Liberation Sans', Arial, sans-serif;color:#000;left:1562.00px;width:1901.00px;text-align:center;">AF-604</div>
<div class="t" style="top:1619.28px;font:400 24.5px/24.5px 'Liberation Sans', Arial, sans-serif;color:#000;left:1798.50px;width:1664.50px;text-align:center;">10.8</div>
<div class="t" style="top:1619.28px;font:700 24.5px/24.5px 'Liberation Sans', Arial, sans-serif;color:#000;left:1958.00px;width:1505.00px;text-align:center;">12,5</div>
<div class="t" style="top:1618.28px;font:400 24.5px/24.5px 'Liberation Sans', Arial, sans-serif;color:#000;left:2233.50px;width:1229.50px;text-align:center;">*</div>
<div class="t" style="top:1787.93px;font:400 24.5px/24.5px 'Liberation Sans', Arial, sans-serif;color:#000;left:0.00px;width:63.00px;text-align:center;">25</div>
<div class="t" style="top:1787.93px;font:400 24.5px/24.5px 'Liberation Sans', Arial, sans-serif;color:#000;left:0.00px;width:199.00px;text-align:center;">232</div>
<div class="t" style="top:1656.77px;font:400 24.5px/24.5px 'Liberation Sans', Arial, sans-serif;color:#000;left:0.00px;width:361.20px;text-align:center;">26</div>
<div class="t" style="top:1656.77px;font:400 24.5px/24.5px 'Liberation Sans', Arial, sans-serif;color:#000;left:229.00px;">CS-25026</div>
<div class="t" style="top:1656.77px;font:400 24.5px/24.5px 'Liberation Sans', Arial, sans-serif;color:#000;left:0.00px;width:826.20px;text-align:center;">33,2</div>
<div class="t" style="top:1656.77px;font:400 24.5px/24.5px 'Liberation Sans', Arial, sans-serif;color:#000;left:0.00px;width:1037.00px;text-align:center;">86,32</div>
<div class="t" style="top:1656.77px;font:400 24.5px/24.5px 'Liberation Sans', Arial, sans-serif;color:#000;left:0.00px;width:1250.70px;text-align:center;">139</div>
<div class="t" style="top:1656.77px;font:400 24.5px/24.5px 'Liberation Sans', Arial, sans-serif;color:#000;left:0.00px;width:1492.70px;text-align:center;">165</div>
<div class="t" style="top:1656.77px;font:400 24.5px/24.5px 'Liberation Sans', Arial, sans-serif;color:#000;left:0.00px;width:1728.00px;text-align:center;">86</div>
<div class="t" style="top:1656.77px;font:400 24.5px/24.5px 'Liberation Sans', Arial, sans-serif;color:#000;left:0.00px;width:1944.00px;text-align:center;">65</div>
<div class="t" style="top:1656.77px;font:400 24.5px/24.5px 'Liberation Sans', Arial, sans-serif;color:#000;left:80.00px;width:2000.00px;text-align:center;">57</div>
<div class="t" style="top:1656.77px;font:400 24.5px/24.5px 'Liberation Sans', Arial, sans-serif;color:#000;left:199.30px;width:2000.00px;text-align:center;">25</div>
<div class="t" style="top:1656.77px;font:400 24.5px/24.5px 'Liberation Sans', Arial, sans-serif;color:#000;left:324.05px;width:2000.00px;text-align:center;">50</div>
<div class="t" style="top:1656.77px;font:400 24.5px/24.5px 'Liberation Sans', Arial, sans-serif;color:#000;left:461.90px;width:2000.00px;text-align:center;">9</div>
<div class="t" style="top:1658.97px;font:400 20px/20.0px 'Liberation Sans', Arial, sans-serif;color:#000;left:610.85px;width:2000.00px;text-align:center;">1.1/2" - 16 UN</div>
<div class="t" style="top:1656.77px;font:400 24.5px/24.5px 'Liberation Sans', Arial, sans-serif;color:#000;left:739.20px;width:2000.00px;text-align:center;">26</div>
<div class="t" style="top:1656.77px;font:400 24.5px/24.5px 'Liberation Sans', Arial, sans-serif;color:#000;left:854.80px;width:2000.00px;text-align:center;">58</div>
<div class="t" style="top:1658.97px;font:400 20px/20.0px 'Liberation Sans', Arial, sans-serif;color:#000;left:978.60px;width:2000.00px;text-align:center;">1/2" - 13 UN</div>
<div class="t" style="top:1656.77px;font:400 24.5px/24.5px 'Liberation Sans', Arial, sans-serif;color:#000;left:1102.30px;width:2000.00px;text-align:center;">19</div>
<div class="t" style="top:1658.97px;font:400 20px/20.0px 'Liberation Sans', Arial, sans-serif;color:#000;left:1241.00px;width:2000.00px;text-align:center;">3.5/16" - 12 UN</div>
<div class="t" style="top:1656.77px;font:400 24.5px/24.5px 'Liberation Sans', Arial, sans-serif;color:#000;left:1378.00px;width:2000.00px;text-align:center;">54</div>
<div class="t" style="top:1656.77px;font:400 24.5px/24.5px 'Liberation Sans', Arial, sans-serif;color:#000;left:1562.00px;width:1901.00px;text-align:center;">AF-604</div>
<div class="t" style="top:1656.77px;font:400 24.5px/24.5px 'Liberation Sans', Arial, sans-serif;color:#000;left:1798.50px;width:1664.50px;text-align:center;">5.3</div>
<div class="t" style="top:1656.77px;font:700 24.5px/24.5px 'Liberation Sans', Arial, sans-serif;color:#000;left:1958.00px;width:1505.00px;text-align:center;">6,2</div>
<div class="t" style="top:1656.77px;font:400 24.5px/24.5px 'Liberation Sans', Arial, sans-serif;color:#000;left:2233.50px;width:1229.50px;text-align:center;">Ok</div>
<div class="t" style="top:1694.24px;font:400 24.5px/24.5px 'Liberation Sans', Arial, sans-serif;color:#000;left:0.00px;width:361.20px;text-align:center;">50</div>
<div class="t" style="top:1694.24px;font:400 24.5px/24.5px 'Liberation Sans', Arial, sans-serif;color:#000;left:229.00px;">CS-25050</div>
<div class="t" style="top:1694.24px;font:400 24.5px/24.5px 'Liberation Sans', Arial, sans-serif;color:#000;left:0.00px;width:826.20px;text-align:center;">33,2</div>
<div class="t" style="top:1694.24px;font:400 24.5px/24.5px 'Liberation Sans', Arial, sans-serif;color:#000;left:0.00px;width:1037.00px;text-align:center;">166</div>
<div class="t" style="top:1694.24px;font:400 24.5px/24.5px 'Liberation Sans', Arial, sans-serif;color:#000;left:0.00px;width:1250.70px;text-align:center;">165</div>
<div class="t" style="top:1694.24px;font:400 24.5px/24.5px 'Liberation Sans', Arial, sans-serif;color:#000;left:0.00px;width:1492.70px;text-align:center;">215</div>
<div class="t" style="top:1694.24px;font:400 24.5px/24.5px 'Liberation Sans', Arial, sans-serif;color:#000;left:0.00px;width:1728.00px;text-align:center;">86</div>
<div class="t" style="top:1694.24px;font:400 24.5px/24.5px 'Liberation Sans', Arial, sans-serif;color:#000;left:0.00px;width:1944.00px;text-align:center;">65</div>
<div class="t" style="top:1694.24px;font:400 24.5px/24.5px 'Liberation Sans', Arial, sans-serif;color:#000;left:80.00px;width:2000.00px;text-align:center;">57</div>
<div class="t" style="top:1694.24px;font:400 24.5px/24.5px 'Liberation Sans', Arial, sans-serif;color:#000;left:199.30px;width:2000.00px;text-align:center;">25</div>
<div class="t" style="top:1694.24px;font:400 24.5px/24.5px 'Liberation Sans', Arial, sans-serif;color:#000;left:324.05px;width:2000.00px;text-align:center;">50</div>
<div class="t" style="top:1694.24px;font:400 24.5px/24.5px 'Liberation Sans', Arial, sans-serif;color:#000;left:461.90px;width:2000.00px;text-align:center;">9</div>
<div class="t" style="top:1696.44px;font:400 20px/20.0px 'Liberation Sans', Arial, sans-serif;color:#000;left:610.85px;width:2000.00px;text-align:center;">1.1/2" - 16 UN</div>
<div class="t" style="top:1694.24px;font:400 24.5px/24.5px 'Liberation Sans', Arial, sans-serif;color:#000;left:739.20px;width:2000.00px;text-align:center;">26</div>
<div class="t" style="top:1694.24px;font:400 24.5px/24.5px 'Liberation Sans', Arial, sans-serif;color:#000;left:854.80px;width:2000.00px;text-align:center;">58</div>
<div class="t" style="top:1696.44px;font:400 20px/20.0px 'Liberation Sans', Arial, sans-serif;color:#000;left:978.60px;width:2000.00px;text-align:center;">1/2" - 13 UN</div>
<div class="t" style="top:1694.24px;font:400 24.5px/24.5px 'Liberation Sans', Arial, sans-serif;color:#000;left:1102.30px;width:2000.00px;text-align:center;">19</div>
<div class="t" style="top:1696.44px;font:400 20px/20.0px 'Liberation Sans', Arial, sans-serif;color:#000;left:1241.00px;width:2000.00px;text-align:center;">3.5/16" - 12 UN</div>
<div class="t" style="top:1694.24px;font:400 24.5px/24.5px 'Liberation Sans', Arial, sans-serif;color:#000;left:1378.00px;width:2000.00px;text-align:center;">54</div>
<div class="t" style="top:1694.24px;font:400 24.5px/24.5px 'Liberation Sans', Arial, sans-serif;color:#000;left:1562.00px;width:1901.00px;text-align:center;">AF-604</div>
<div class="t" style="top:1694.24px;font:400 24.5px/24.5px 'Liberation Sans', Arial, sans-serif;color:#000;left:1798.50px;width:1664.50px;text-align:center;">6.2</div>
<div class="t" style="top:1694.24px;font:700 24.5px/24.5px 'Liberation Sans', Arial, sans-serif;color:#000;left:1958.00px;width:1505.00px;text-align:center;">6,7</div>
<div class="t" style="top:1694.24px;font:400 24.5px/24.5px 'Liberation Sans', Arial, sans-serif;color:#000;left:2233.50px;width:1229.50px;text-align:center;">Ok</div>
<div class="t" style="top:1731.72px;font:400 24.5px/24.5px 'Liberation Sans', Arial, sans-serif;color:#000;left:0.00px;width:361.20px;text-align:center;">102</div>
<div class="t" style="top:1731.72px;font:400 24.5px/24.5px 'Liberation Sans', Arial, sans-serif;color:#000;left:229.00px;">CS-25102</div>
<div class="t" style="top:1731.72px;font:400 24.5px/24.5px 'Liberation Sans', Arial, sans-serif;color:#000;left:0.00px;width:826.20px;text-align:center;">33,2</div>
<div class="t" style="top:1731.72px;font:400 24.5px/24.5px 'Liberation Sans', Arial, sans-serif;color:#000;left:0.00px;width:1037.00px;text-align:center;">338,64</div>
<div class="t" style="top:1731.72px;font:400 24.5px/24.5px 'Liberation Sans', Arial, sans-serif;color:#000;left:0.00px;width:1250.70px;text-align:center;">215</div>
<div class="t" style="top:1731.72px;font:400 24.5px/24.5px 'Liberation Sans', Arial, sans-serif;color:#000;left:0.00px;width:1492.70px;text-align:center;">317</div>
<div class="t" style="top:1731.72px;font:400 24.5px/24.5px 'Liberation Sans', Arial, sans-serif;color:#000;left:0.00px;width:1728.00px;text-align:center;">86</div>
<div class="t" style="top:1731.72px;font:400 24.5px/24.5px 'Liberation Sans', Arial, sans-serif;color:#000;left:0.00px;width:1944.00px;text-align:center;">65</div>
<div class="t" style="top:1731.72px;font:400 24.5px/24.5px 'Liberation Sans', Arial, sans-serif;color:#000;left:80.00px;width:2000.00px;text-align:center;">57</div>
<div class="t" style="top:1731.72px;font:400 24.5px/24.5px 'Liberation Sans', Arial, sans-serif;color:#000;left:199.30px;width:2000.00px;text-align:center;">25</div>
<div class="t" style="top:1731.72px;font:400 24.5px/24.5px 'Liberation Sans', Arial, sans-serif;color:#000;left:324.05px;width:2000.00px;text-align:center;">50</div>
<div class="t" style="top:1731.72px;font:400 24.5px/24.5px 'Liberation Sans', Arial, sans-serif;color:#000;left:461.90px;width:2000.00px;text-align:center;">9</div>
<div class="t" style="top:1733.92px;font:400 20px/20.0px 'Liberation Sans', Arial, sans-serif;color:#000;left:610.85px;width:2000.00px;text-align:center;">1.1/2" - 16 UN</div>
<div class="t" style="top:1731.72px;font:400 24.5px/24.5px 'Liberation Sans', Arial, sans-serif;color:#000;left:739.20px;width:2000.00px;text-align:center;">26</div>
<div class="t" style="top:1731.72px;font:400 24.5px/24.5px 'Liberation Sans', Arial, sans-serif;color:#000;left:854.80px;width:2000.00px;text-align:center;">58</div>
<div class="t" style="top:1733.92px;font:400 20px/20.0px 'Liberation Sans', Arial, sans-serif;color:#000;left:978.60px;width:2000.00px;text-align:center;">1/2" - 13 UN</div>
<div class="t" style="top:1731.72px;font:400 24.5px/24.5px 'Liberation Sans', Arial, sans-serif;color:#000;left:1102.30px;width:2000.00px;text-align:center;">19</div>
<div class="t" style="top:1733.92px;font:400 20px/20.0px 'Liberation Sans', Arial, sans-serif;color:#000;left:1241.00px;width:2000.00px;text-align:center;">3.5/16" - 12 UN</div>
<div class="t" style="top:1731.72px;font:400 24.5px/24.5px 'Liberation Sans', Arial, sans-serif;color:#000;left:1378.00px;width:2000.00px;text-align:center;">54</div>
<div class="t" style="top:1731.72px;font:400 24.5px/24.5px 'Liberation Sans', Arial, sans-serif;color:#000;left:1562.00px;width:1901.00px;text-align:center;">AF-604</div>
<div class="t" style="top:1731.72px;font:400 24.5px/24.5px 'Liberation Sans', Arial, sans-serif;color:#000;left:1798.50px;width:1664.50px;text-align:center;">8.0</div>
<div class="t" style="top:1731.72px;font:700 24.5px/24.5px 'Liberation Sans', Arial, sans-serif;color:#000;left:1958.00px;width:1505.00px;text-align:center;">8,6</div>
<div class="t" style="top:1731.72px;font:400 24.5px/24.5px 'Liberation Sans', Arial, sans-serif;color:#000;left:2233.50px;width:1229.50px;text-align:center;">Ok</div>
<div class="t" style="top:1769.19px;font:400 24.5px/24.5px 'Liberation Sans', Arial, sans-serif;color:#000;left:0.00px;width:361.20px;text-align:center;">158</div>
<div class="t" style="top:1769.19px;font:400 24.5px/24.5px 'Liberation Sans', Arial, sans-serif;color:#000;left:229.00px;">CS-25158</div>
<div class="t" style="top:1769.19px;font:400 24.5px/24.5px 'Liberation Sans', Arial, sans-serif;color:#000;left:0.00px;width:826.20px;text-align:center;">33,2</div>
<div class="t" style="top:1769.19px;font:400 24.5px/24.5px 'Liberation Sans', Arial, sans-serif;color:#000;left:0.00px;width:1037.00px;text-align:center;">524,56</div>
<div class="t" style="top:1769.19px;font:400 24.5px/24.5px 'Liberation Sans', Arial, sans-serif;color:#000;left:0.00px;width:1250.70px;text-align:center;">273</div>
<div class="t" style="top:1769.19px;font:400 24.5px/24.5px 'Liberation Sans', Arial, sans-serif;color:#000;left:0.00px;width:1492.70px;text-align:center;">431</div>
<div class="t" style="top:1769.19px;font:400 24.5px/24.5px 'Liberation Sans', Arial, sans-serif;color:#000;left:0.00px;width:1728.00px;text-align:center;">86</div>
<div class="t" style="top:1769.19px;font:400 24.5px/24.5px 'Liberation Sans', Arial, sans-serif;color:#000;left:0.00px;width:1944.00px;text-align:center;">65</div>
<div class="t" style="top:1769.19px;font:400 24.5px/24.5px 'Liberation Sans', Arial, sans-serif;color:#000;left:80.00px;width:2000.00px;text-align:center;">57</div>
<div class="t" style="top:1769.19px;font:400 24.5px/24.5px 'Liberation Sans', Arial, sans-serif;color:#000;left:199.30px;width:2000.00px;text-align:center;">25</div>
<div class="t" style="top:1769.19px;font:400 24.5px/24.5px 'Liberation Sans', Arial, sans-serif;color:#000;left:324.05px;width:2000.00px;text-align:center;">50</div>
<div class="t" style="top:1769.19px;font:400 24.5px/24.5px 'Liberation Sans', Arial, sans-serif;color:#000;left:461.90px;width:2000.00px;text-align:center;">9</div>
<div class="t" style="top:1771.39px;font:400 20px/20.0px 'Liberation Sans', Arial, sans-serif;color:#000;left:610.85px;width:2000.00px;text-align:center;">1.1/2" - 16 UN</div>
<div class="t" style="top:1769.19px;font:400 24.5px/24.5px 'Liberation Sans', Arial, sans-serif;color:#000;left:739.20px;width:2000.00px;text-align:center;">26</div>
<div class="t" style="top:1769.19px;font:400 24.5px/24.5px 'Liberation Sans', Arial, sans-serif;color:#000;left:854.80px;width:2000.00px;text-align:center;">58</div>
<div class="t" style="top:1771.39px;font:400 20px/20.0px 'Liberation Sans', Arial, sans-serif;color:#000;left:978.60px;width:2000.00px;text-align:center;">1/2" - 13 UN</div>
<div class="t" style="top:1769.19px;font:400 24.5px/24.5px 'Liberation Sans', Arial, sans-serif;color:#000;left:1102.30px;width:2000.00px;text-align:center;">19</div>
<div class="t" style="top:1771.39px;font:400 20px/20.0px 'Liberation Sans', Arial, sans-serif;color:#000;left:1241.00px;width:2000.00px;text-align:center;">3.5/16" - 12 UN</div>
<div class="t" style="top:1769.19px;font:400 24.5px/24.5px 'Liberation Sans', Arial, sans-serif;color:#000;left:1378.00px;width:2000.00px;text-align:center;">54</div>
<div class="t" style="top:1769.19px;font:400 24.5px/24.5px 'Liberation Sans', Arial, sans-serif;color:#000;left:1562.00px;width:1901.00px;text-align:center;">AF-604</div>
<div class="t" style="top:1769.19px;font:400 24.5px/24.5px 'Liberation Sans', Arial, sans-serif;color:#000;left:1798.50px;width:1664.50px;text-align:center;">10.3</div>
<div class="t" style="top:1769.19px;font:700 24.5px/24.5px 'Liberation Sans', Arial, sans-serif;color:#000;left:1958.00px;width:1505.00px;text-align:center;">10,5</div>
<div class="t" style="top:1769.19px;font:400 24.5px/24.5px 'Liberation Sans', Arial, sans-serif;color:#000;left:2233.50px;width:1229.50px;text-align:center;">Ok</div>
<div class="t" style="top:1806.67px;font:400 24.5px/24.5px 'Liberation Sans', Arial, sans-serif;color:#000;left:0.00px;width:361.20px;text-align:center;">210</div>
<div class="t" style="top:1806.67px;font:400 24.5px/24.5px 'Liberation Sans', Arial, sans-serif;color:#000;left:229.00px;">CS-25210</div>
<div class="t" style="top:1806.67px;font:400 24.5px/24.5px 'Liberation Sans', Arial, sans-serif;color:#000;left:0.00px;width:826.20px;text-align:center;">33,2</div>
<div class="t" style="top:1806.67px;font:400 24.5px/24.5px 'Liberation Sans', Arial, sans-serif;color:#000;left:0.00px;width:1037.00px;text-align:center;">697,2</div>
<div class="t" style="top:1806.67px;font:400 24.5px/24.5px 'Liberation Sans', Arial, sans-serif;color:#000;left:0.00px;width:1250.70px;text-align:center;">323</div>
<div class="t" style="top:1806.67px;font:400 24.5px/24.5px 'Liberation Sans', Arial, sans-serif;color:#000;left:0.00px;width:1492.70px;text-align:center;">533</div>
<div class="t" style="top:1806.67px;font:400 24.5px/24.5px 'Liberation Sans', Arial, sans-serif;color:#000;left:0.00px;width:1728.00px;text-align:center;">86</div>
<div class="t" style="top:1806.67px;font:400 24.5px/24.5px 'Liberation Sans', Arial, sans-serif;color:#000;left:0.00px;width:1944.00px;text-align:center;">65</div>
<div class="t" style="top:1806.67px;font:400 24.5px/24.5px 'Liberation Sans', Arial, sans-serif;color:#000;left:80.00px;width:2000.00px;text-align:center;">57</div>
<div class="t" style="top:1806.67px;font:400 24.5px/24.5px 'Liberation Sans', Arial, sans-serif;color:#000;left:199.30px;width:2000.00px;text-align:center;">25</div>
<div class="t" style="top:1806.67px;font:400 24.5px/24.5px 'Liberation Sans', Arial, sans-serif;color:#000;left:324.05px;width:2000.00px;text-align:center;">50</div>
<div class="t" style="top:1806.67px;font:400 24.5px/24.5px 'Liberation Sans', Arial, sans-serif;color:#000;left:461.90px;width:2000.00px;text-align:center;">9</div>
<div class="t" style="top:1808.87px;font:400 20px/20.0px 'Liberation Sans', Arial, sans-serif;color:#000;left:610.85px;width:2000.00px;text-align:center;">1.1/2" - 16 UN</div>
<div class="t" style="top:1806.67px;font:400 24.5px/24.5px 'Liberation Sans', Arial, sans-serif;color:#000;left:739.20px;width:2000.00px;text-align:center;">26</div>
<div class="t" style="top:1806.67px;font:400 24.5px/24.5px 'Liberation Sans', Arial, sans-serif;color:#000;left:854.80px;width:2000.00px;text-align:center;">58</div>
<div class="t" style="top:1808.87px;font:400 20px/20.0px 'Liberation Sans', Arial, sans-serif;color:#000;left:978.60px;width:2000.00px;text-align:center;">1/2" - 13 UN</div>
<div class="t" style="top:1806.67px;font:400 24.5px/24.5px 'Liberation Sans', Arial, sans-serif;color:#000;left:1102.30px;width:2000.00px;text-align:center;">19</div>
<div class="t" style="top:1808.87px;font:400 20px/20.0px 'Liberation Sans', Arial, sans-serif;color:#000;left:1241.00px;width:2000.00px;text-align:center;">3.5/16" - 12 UN</div>
<div class="t" style="top:1806.67px;font:400 24.5px/24.5px 'Liberation Sans', Arial, sans-serif;color:#000;left:1378.00px;width:2000.00px;text-align:center;">54</div>
<div class="t" style="top:1806.67px;font:400 24.5px/24.5px 'Liberation Sans', Arial, sans-serif;color:#000;left:1562.00px;width:1901.00px;text-align:center;">AF-604</div>
<div class="t" style="top:1806.67px;font:400 24.5px/24.5px 'Liberation Sans', Arial, sans-serif;color:#000;left:1798.50px;width:1664.50px;text-align:center;">12.1</div>
<div class="t" style="top:1806.67px;font:700 24.5px/24.5px 'Liberation Sans', Arial, sans-serif;color:#000;left:1958.00px;width:1505.00px;text-align:center;">12,8</div>
<div class="t" style="top:1806.67px;font:400 24.5px/24.5px 'Liberation Sans', Arial, sans-serif;color:#000;left:2233.50px;width:1229.50px;text-align:center;">Ok</div>
<div class="t" style="top:1844.14px;font:400 24.5px/24.5px 'Liberation Sans', Arial, sans-serif;color:#000;left:0.00px;width:361.20px;text-align:center;">261</div>
<div class="t" style="top:1844.14px;font:400 24.5px/24.5px 'Liberation Sans', Arial, sans-serif;color:#000;left:229.00px;">CS-25261</div>
<div class="t" style="top:1844.14px;font:400 24.5px/24.5px 'Liberation Sans', Arial, sans-serif;color:#000;left:0.00px;width:826.20px;text-align:center;">33,2</div>
<div class="t" style="top:1844.14px;font:400 24.5px/24.5px 'Liberation Sans', Arial, sans-serif;color:#000;left:0.00px;width:1037.00px;text-align:center;">866,52</div>
<div class="t" style="top:1844.14px;font:400 24.5px/24.5px 'Liberation Sans', Arial, sans-serif;color:#000;left:0.00px;width:1250.70px;text-align:center;">374</div>
<div class="t" style="top:1844.14px;font:400 24.5px/24.5px 'Liberation Sans', Arial, sans-serif;color:#000;left:0.00px;width:1492.70px;text-align:center;">635</div>
<div class="t" style="top:1844.14px;font:400 24.5px/24.5px 'Liberation Sans', Arial, sans-serif;color:#000;left:0.00px;width:1728.00px;text-align:center;">86</div>
<div class="t" style="top:1844.14px;font:400 24.5px/24.5px 'Liberation Sans', Arial, sans-serif;color:#000;left:0.00px;width:1944.00px;text-align:center;">65</div>
<div class="t" style="top:1844.14px;font:400 24.5px/24.5px 'Liberation Sans', Arial, sans-serif;color:#000;left:80.00px;width:2000.00px;text-align:center;">57</div>
<div class="t" style="top:1844.14px;font:400 24.5px/24.5px 'Liberation Sans', Arial, sans-serif;color:#000;left:199.30px;width:2000.00px;text-align:center;">25</div>
<div class="t" style="top:1844.14px;font:400 24.5px/24.5px 'Liberation Sans', Arial, sans-serif;color:#000;left:324.05px;width:2000.00px;text-align:center;">50</div>
<div class="t" style="top:1844.14px;font:400 24.5px/24.5px 'Liberation Sans', Arial, sans-serif;color:#000;left:461.90px;width:2000.00px;text-align:center;">9</div>
<div class="t" style="top:1846.34px;font:400 20px/20.0px 'Liberation Sans', Arial, sans-serif;color:#000;left:610.85px;width:2000.00px;text-align:center;">1.1/2" - 16 UN</div>
<div class="t" style="top:1844.14px;font:400 24.5px/24.5px 'Liberation Sans', Arial, sans-serif;color:#000;left:739.20px;width:2000.00px;text-align:center;">26</div>
<div class="t" style="top:1844.14px;font:400 24.5px/24.5px 'Liberation Sans', Arial, sans-serif;color:#000;left:854.80px;width:2000.00px;text-align:center;">58</div>
<div class="t" style="top:1846.34px;font:400 20px/20.0px 'Liberation Sans', Arial, sans-serif;color:#000;left:978.60px;width:2000.00px;text-align:center;">1/2" - 13 UN</div>
<div class="t" style="top:1844.14px;font:400 24.5px/24.5px 'Liberation Sans', Arial, sans-serif;color:#000;left:1102.30px;width:2000.00px;text-align:center;">19</div>
<div class="t" style="top:1846.34px;font:400 20px/20.0px 'Liberation Sans', Arial, sans-serif;color:#000;left:1241.00px;width:2000.00px;text-align:center;">3.5/16" - 12 UN</div>
<div class="t" style="top:1844.14px;font:400 24.5px/24.5px 'Liberation Sans', Arial, sans-serif;color:#000;left:1378.00px;width:2000.00px;text-align:center;">54</div>
<div class="t" style="top:1844.14px;font:400 24.5px/24.5px 'Liberation Sans', Arial, sans-serif;color:#000;left:1562.00px;width:1901.00px;text-align:center;">AF-604</div>
<div class="t" style="top:1844.14px;font:400 24.5px/24.5px 'Liberation Sans', Arial, sans-serif;color:#000;left:1798.50px;width:1664.50px;text-align:center;">14.1</div>
<div class="t" style="top:1844.14px;font:700 24.5px/24.5px 'Liberation Sans', Arial, sans-serif;color:#000;left:1958.00px;width:1505.00px;text-align:center;">14,6</div>
<div class="t" style="top:1843.14px;font:400 24.5px/24.5px 'Liberation Sans', Arial, sans-serif;color:#000;left:2233.50px;width:1229.50px;text-align:center;">*</div>
<div class="t" style="top:1881.62px;font:400 24.5px/24.5px 'Liberation Sans', Arial, sans-serif;color:#000;left:0.00px;width:361.20px;text-align:center;">311</div>
<div class="t" style="top:1881.62px;font:400 24.5px/24.5px 'Liberation Sans', Arial, sans-serif;color:#000;left:229.00px;">CS-25311</div>
<div class="t" style="top:1881.62px;font:400 24.5px/24.5px 'Liberation Sans', Arial, sans-serif;color:#000;left:0.00px;width:826.20px;text-align:center;">33,2</div>
<div class="t" style="top:1881.62px;font:400 24.5px/24.5px 'Liberation Sans', Arial, sans-serif;color:#000;left:0.00px;width:1037.00px;text-align:center;">1032,5</div>
<div class="t" style="top:1881.62px;font:400 24.5px/24.5px 'Liberation Sans', Arial, sans-serif;color:#000;left:0.00px;width:1250.70px;text-align:center;">425</div>
<div class="t" style="top:1881.62px;font:400 24.5px/24.5px 'Liberation Sans', Arial, sans-serif;color:#000;left:0.00px;width:1492.70px;text-align:center;">736</div>
<div class="t" style="top:1881.62px;font:400 24.5px/24.5px 'Liberation Sans', Arial, sans-serif;color:#000;left:0.00px;width:1728.00px;text-align:center;">86</div>
<div class="t" style="top:1881.62px;font:400 24.5px/24.5px 'Liberation Sans', Arial, sans-serif;color:#000;left:0.00px;width:1944.00px;text-align:center;">65</div>
<div class="t" style="top:1881.62px;font:400 24.5px/24.5px 'Liberation Sans', Arial, sans-serif;color:#000;left:80.00px;width:2000.00px;text-align:center;">57</div>
<div class="t" style="top:1881.62px;font:400 24.5px/24.5px 'Liberation Sans', Arial, sans-serif;color:#000;left:199.30px;width:2000.00px;text-align:center;">25</div>
<div class="t" style="top:1881.62px;font:400 24.5px/24.5px 'Liberation Sans', Arial, sans-serif;color:#000;left:324.05px;width:2000.00px;text-align:center;">50</div>
<div class="t" style="top:1881.62px;font:400 24.5px/24.5px 'Liberation Sans', Arial, sans-serif;color:#000;left:461.90px;width:2000.00px;text-align:center;">9</div>
<div class="t" style="top:1883.82px;font:400 20px/20.0px 'Liberation Sans', Arial, sans-serif;color:#000;left:610.85px;width:2000.00px;text-align:center;">1.1/2" - 16 UN</div>
<div class="t" style="top:1881.62px;font:400 24.5px/24.5px 'Liberation Sans', Arial, sans-serif;color:#000;left:739.20px;width:2000.00px;text-align:center;">26</div>
<div class="t" style="top:1881.62px;font:400 24.5px/24.5px 'Liberation Sans', Arial, sans-serif;color:#000;left:854.80px;width:2000.00px;text-align:center;">58</div>
<div class="t" style="top:1883.82px;font:400 20px/20.0px 'Liberation Sans', Arial, sans-serif;color:#000;left:978.60px;width:2000.00px;text-align:center;">1/2" - 13 UN</div>
<div class="t" style="top:1881.62px;font:400 24.5px/24.5px 'Liberation Sans', Arial, sans-serif;color:#000;left:1102.30px;width:2000.00px;text-align:center;">19</div>
<div class="t" style="top:1883.82px;font:400 20px/20.0px 'Liberation Sans', Arial, sans-serif;color:#000;left:1241.00px;width:2000.00px;text-align:center;">3.5/16" - 12 UN</div>
<div class="t" style="top:1881.62px;font:400 24.5px/24.5px 'Liberation Sans', Arial, sans-serif;color:#000;left:1378.00px;width:2000.00px;text-align:center;">54</div>
<div class="t" style="top:1881.62px;font:400 24.5px/24.5px 'Liberation Sans', Arial, sans-serif;color:#000;left:1562.00px;width:1901.00px;text-align:center;">AF-604</div>
<div class="t" style="top:1881.62px;font:400 24.5px/24.5px 'Liberation Sans', Arial, sans-serif;color:#000;left:1798.50px;width:1664.50px;text-align:center;">15.5</div>
<div class="t" style="top:1881.62px;font:700 24.5px/24.5px 'Liberation Sans', Arial, sans-serif;color:#000;left:1958.00px;width:1505.00px;text-align:center;">17,3</div>
<div class="t" style="top:1880.62px;font:400 24.5px/24.5px 'Liberation Sans', Arial, sans-serif;color:#000;left:2233.50px;width:1229.50px;text-align:center;">*</div>
<div class="t" style="top:1919.09px;font:400 24.5px/24.5px 'Liberation Sans', Arial, sans-serif;color:#000;left:0.00px;width:361.20px;text-align:center;">362</div>
<div class="t" style="top:1919.09px;font:400 24.5px/24.5px 'Liberation Sans', Arial, sans-serif;color:#000;left:229.00px;">CS-25362</div>
<div class="t" style="top:1919.09px;font:400 24.5px/24.5px 'Liberation Sans', Arial, sans-serif;color:#000;left:0.00px;width:826.20px;text-align:center;">33,2</div>
<div class="t" style="top:1919.09px;font:400 24.5px/24.5px 'Liberation Sans', Arial, sans-serif;color:#000;left:0.00px;width:1037.00px;text-align:center;">1201,8</div>
<div class="t" style="top:1919.09px;font:400 24.5px/24.5px 'Liberation Sans', Arial, sans-serif;color:#000;left:0.00px;width:1250.70px;text-align:center;">476</div>
<div class="t" style="top:1919.09px;font:400 24.5px/24.5px 'Liberation Sans', Arial, sans-serif;color:#000;left:0.00px;width:1492.70px;text-align:center;">838</div>
<div class="t" style="top:1919.09px;font:400 24.5px/24.5px 'Liberation Sans', Arial, sans-serif;color:#000;left:0.00px;width:1728.00px;text-align:center;">86</div>
<div class="t" style="top:1919.09px;font:400 24.5px/24.5px 'Liberation Sans', Arial, sans-serif;color:#000;left:0.00px;width:1944.00px;text-align:center;">65</div>
<div class="t" style="top:1919.09px;font:400 24.5px/24.5px 'Liberation Sans', Arial, sans-serif;color:#000;left:80.00px;width:2000.00px;text-align:center;">57</div>
<div class="t" style="top:1919.09px;font:400 24.5px/24.5px 'Liberation Sans', Arial, sans-serif;color:#000;left:199.30px;width:2000.00px;text-align:center;">25</div>
<div class="t" style="top:1919.09px;font:400 24.5px/24.5px 'Liberation Sans', Arial, sans-serif;color:#000;left:324.05px;width:2000.00px;text-align:center;">50</div>
<div class="t" style="top:1919.09px;font:400 24.5px/24.5px 'Liberation Sans', Arial, sans-serif;color:#000;left:461.90px;width:2000.00px;text-align:center;">9</div>
<div class="t" style="top:1921.29px;font:400 20px/20.0px 'Liberation Sans', Arial, sans-serif;color:#000;left:610.85px;width:2000.00px;text-align:center;">1.1/2" - 16 UN</div>
<div class="t" style="top:1919.09px;font:400 24.5px/24.5px 'Liberation Sans', Arial, sans-serif;color:#000;left:739.20px;width:2000.00px;text-align:center;">26</div>
<div class="t" style="top:1919.09px;font:400 24.5px/24.5px 'Liberation Sans', Arial, sans-serif;color:#000;left:854.80px;width:2000.00px;text-align:center;">58</div>
<div class="t" style="top:1921.29px;font:400 20px/20.0px 'Liberation Sans', Arial, sans-serif;color:#000;left:978.60px;width:2000.00px;text-align:center;">1/2" - 13 UN</div>
<div class="t" style="top:1919.09px;font:400 24.5px/24.5px 'Liberation Sans', Arial, sans-serif;color:#000;left:1102.30px;width:2000.00px;text-align:center;">19</div>
<div class="t" style="top:1921.29px;font:400 20px/20.0px 'Liberation Sans', Arial, sans-serif;color:#000;left:1241.00px;width:2000.00px;text-align:center;">3.5/16" - 12 UN</div>
<div class="t" style="top:1919.09px;font:400 24.5px/24.5px 'Liberation Sans', Arial, sans-serif;color:#000;left:1378.00px;width:2000.00px;text-align:center;">54</div>
<div class="t" style="top:1919.09px;font:400 24.5px/24.5px 'Liberation Sans', Arial, sans-serif;color:#000;left:1562.00px;width:1901.00px;text-align:center;">AF-604</div>
<div class="t" style="top:1919.09px;font:400 24.5px/24.5px 'Liberation Sans', Arial, sans-serif;color:#000;left:1798.50px;width:1664.50px;text-align:center;">17.4</div>
<div class="t" style="top:1919.09px;font:700 24.5px/24.5px 'Liberation Sans', Arial, sans-serif;color:#000;left:1958.00px;width:1505.00px;text-align:center;">18,7</div>
<div class="t" style="top:1918.09px;font:400 24.5px/24.5px 'Liberation Sans', Arial, sans-serif;color:#000;left:2233.50px;width:1229.50px;text-align:center;">*</div>
<div class="t" style="top:1957.38px;font:400 24.5px/24.5px 'Liberation Sans', Arial, sans-serif;color:#000;left:0.00px;width:63.00px;text-align:center;">30</div>
<div class="t" style="top:1957.38px;font:400 24.5px/24.5px 'Liberation Sans', Arial, sans-serif;color:#000;left:0.00px;width:199.00px;text-align:center;">309</div>
<div class="t" style="top:1957.38px;font:400 24.5px/24.5px 'Liberation Sans', Arial, sans-serif;color:#000;left:0.00px;width:361.20px;text-align:center;">209</div>
<div class="t" style="top:1957.38px;font:400 24.5px/24.5px 'Liberation Sans', Arial, sans-serif;color:#000;left:229.00px;">CS-30209</div>
<div class="t" style="top:1957.38px;font:400 24.5px/24.5px 'Liberation Sans', Arial, sans-serif;color:#000;left:0.00px;width:826.20px;text-align:center;">44,2</div>
<div class="t" style="top:1957.38px;font:400 24.5px/24.5px 'Liberation Sans', Arial, sans-serif;color:#000;left:0.00px;width:1037.00px;text-align:center;">923,78</div>
<div class="t" style="top:1957.38px;font:400 24.5px/24.5px 'Liberation Sans', Arial, sans-serif;color:#000;left:0.00px;width:1250.70px;text-align:center;">387</div>
<div class="t" style="top:1957.38px;font:400 24.5px/24.5px 'Liberation Sans', Arial, sans-serif;color:#000;left:0.00px;width:1492.70px;text-align:center;">596</div>
<div class="t" style="top:1957.38px;font:400 24.5px/24.5px 'Liberation Sans', Arial, sans-serif;color:#000;left:0.00px;width:1728.00px;text-align:center;">102</div>
<div class="t" style="top:1957.38px;font:400 24.5px/24.5px 'Liberation Sans', Arial, sans-serif;color:#000;left:0.00px;width:1944.00px;text-align:center;">73</div>
<div class="t" style="top:1957.38px;font:400 24.5px/24.5px 'Liberation Sans', Arial, sans-serif;color:#000;left:80.00px;width:2000.00px;text-align:center;">57</div>
<div class="t" style="top:1957.38px;font:400 24.5px/24.5px 'Liberation Sans', Arial, sans-serif;color:#000;left:199.30px;width:2000.00px;text-align:center;">57</div>
<div class="t" style="top:1957.38px;font:400 24.5px/24.5px 'Liberation Sans', Arial, sans-serif;color:#000;left:324.05px;width:2000.00px;text-align:center;">50</div>
<div class="t" style="top:1957.38px;font:400 24.5px/24.5px 'Liberation Sans', Arial, sans-serif;color:#000;left:461.90px;width:2000.00px;text-align:center;">9</div>
<div class="t" style="top:1959.58px;font:400 20px/20.0px 'Liberation Sans', Arial, sans-serif;color:#000;left:610.85px;width:2000.00px;text-align:center;">1.1/2" - 16 UN</div>
<div class="t" style="top:1957.38px;font:400 24.5px/24.5px 'Liberation Sans', Arial, sans-serif;color:#000;left:739.20px;width:2000.00px;text-align:center;">26</div>
<div class="t" style="top:1957.38px;font:400 24.5px/24.5px 'Liberation Sans', Arial, sans-serif;color:#000;left:854.80px;width:2000.00px;text-align:center;">60</div>
<div class="t" style="top:1960.07px;font:400 19px/19.0px 'Liberation Sans', Arial, sans-serif;color:#000;left:978.60px;width:2000.00px;text-align:center;">M8</div>
<div class="t" style="top:1957.38px;font:400 24.5px/24.5px 'Liberation Sans', Arial, sans-serif;color:#000;left:1102.30px;width:2000.00px;text-align:center;">12</div>
<div class="t" style="top:1959.58px;font:400 20px/20.0px 'Liberation Sans', Arial, sans-serif;color:#000;left:1241.00px;width:2000.00px;text-align:center;">3.5/16" - 12 UN</div>
<div class="t" style="top:1957.38px;font:400 24.5px/24.5px 'Liberation Sans', Arial, sans-serif;color:#000;left:1378.00px;width:2000.00px;text-align:center;">50</div>
<div class="t" style="top:1957.38px;font:400 24.5px/24.5px 'Liberation Sans', Arial, sans-serif;color:#000;left:1562.00px;width:1901.00px;text-align:center;">AF-604</div>
<div class="t" style="top:1957.38px;font:400 24.5px/24.5px 'Liberation Sans', Arial, sans-serif;color:#000;left:1798.50px;width:1664.50px;text-align:center;">21.5</div>
<div class="t" style="top:1957.38px;font:700 24.5px/24.5px 'Liberation Sans', Arial, sans-serif;color:#000;left:1958.00px;width:1505.00px;text-align:center;">23</div>
<div class="t" style="top:1957.38px;font:400 24.5px/24.5px 'Liberation Sans', Arial, sans-serif;color:#000;left:2233.50px;width:1229.50px;text-align:center;">Ok</div>
<div class="t" style="top:2052.43px;font:400 24.5px/24.5px 'Liberation Sans', Arial, sans-serif;color:#000;left:0.00px;width:63.00px;text-align:center;">50</div>
<div class="t" style="top:2052.43px;font:400 24.5px/24.5px 'Liberation Sans', Arial, sans-serif;color:#000;left:0.00px;width:199.00px;text-align:center;">496</div>
<div class="t" style="top:1995.81px;font:400 24.5px/24.5px 'Liberation Sans', Arial, sans-serif;color:#000;left:0.00px;width:361.20px;text-align:center;">51</div>
<div class="t" style="top:1995.81px;font:400 24.5px/24.5px 'Liberation Sans', Arial, sans-serif;color:#000;left:229.00px;">CS-50051</div>
<div class="t" style="top:1995.81px;font:400 24.5px/24.5px 'Liberation Sans', Arial, sans-serif;color:#000;left:0.00px;width:826.20px;text-align:center;">70,9</div>
<div class="t" style="top:1995.81px;font:400 24.5px/24.5px 'Liberation Sans', Arial, sans-serif;color:#000;left:0.00px;width:1037.00px;text-align:center;">361,59</div>
<div class="t" style="top:1995.81px;font:400 24.5px/24.5px 'Liberation Sans', Arial, sans-serif;color:#000;left:0.00px;width:1250.70px;text-align:center;">176</div>
<div class="t" style="top:1995.81px;font:400 24.5px/24.5px 'Liberation Sans', Arial, sans-serif;color:#000;left:0.00px;width:1492.70px;text-align:center;">227</div>
<div class="t" style="top:1995.81px;font:400 24.5px/24.5px 'Liberation Sans', Arial, sans-serif;color:#000;left:0.00px;width:1728.00px;text-align:center;">127</div>
<div class="t" style="top:1995.81px;font:400 24.5px/24.5px 'Liberation Sans', Arial, sans-serif;color:#000;left:0.00px;width:1944.00px;text-align:center;">95</div>
<div class="t" style="top:1995.81px;font:400 24.5px/24.5px 'Liberation Sans', Arial, sans-serif;color:#000;left:80.00px;width:2000.00px;text-align:center;">80</div>
<div class="t" style="top:1995.81px;font:400 24.5px/24.5px 'Liberation Sans', Arial, sans-serif;color:#000;left:199.30px;width:2000.00px;text-align:center;">33</div>
<div class="t" style="top:1995.81px;font:400 24.5px/24.5px 'Liberation Sans', Arial, sans-serif;color:#000;left:324.05px;width:2000.00px;text-align:center;">71</div>
<div class="t" style="top:1995.81px;font:400 24.5px/24.5px 'Liberation Sans', Arial, sans-serif;color:#000;left:461.90px;width:2000.00px;text-align:center;">2</div>
<div class="t" style="top:1995.81px;font:400 24.5px/24.5px 'Liberation Sans', Arial, sans-serif;color:#000;left:610.85px;width:2000.00px;text-align:center;">-</div>
<div class="t" style="top:1995.81px;font:400 24.5px/24.5px 'Liberation Sans', Arial, sans-serif;color:#000;left:739.20px;width:2000.00px;text-align:center;">-</div>
<div class="t" style="top:1995.81px;font:400 24.5px/24.5px 'Liberation Sans', Arial, sans-serif;color:#000;left:854.80px;width:2000.00px;text-align:center;">95</div>
<div class="t" style="top:1998.01px;font:400 20px/20.0px 'Liberation Sans', Arial, sans-serif;color:#000;left:978.60px;width:2000.00px;text-align:center;">1/2" - 13 UN</div>
<div class="t" style="top:1995.81px;font:400 24.5px/24.5px 'Liberation Sans', Arial, sans-serif;color:#000;left:1102.30px;width:2000.00px;text-align:center;">19</div>
<div class="t" style="top:1998.01px;font:400 20px/20.0px 'Liberation Sans', Arial, sans-serif;color:#000;left:1241.00px;width:2000.00px;text-align:center;">5" - 12 UN</div>
<div class="t" style="top:1995.81px;font:400 24.5px/24.5px 'Liberation Sans', Arial, sans-serif;color:#000;left:1378.00px;width:2000.00px;text-align:center;">55</div>
<div class="t" style="top:1995.81px;font:400 24.5px/24.5px 'Liberation Sans', Arial, sans-serif;color:#000;left:1562.00px;width:1901.00px;text-align:center;">AF-604</div>
<div class="t" style="top:1995.81px;font:400 24.5px/24.5px 'Liberation Sans', Arial, sans-serif;color:#000;left:1798.50px;width:1664.50px;text-align:center;">14.4</div>
<div class="t" style="top:1995.81px;font:700 24.5px/24.5px 'Liberation Sans', Arial, sans-serif;color:#000;left:1958.00px;width:1505.00px;text-align:center;">16</div>
<div class="t" style="top:1995.81px;font:400 24.5px/24.5px 'Liberation Sans', Arial, sans-serif;color:#000;left:2233.50px;width:1229.50px;text-align:center;">Ok</div>
<div class="t" style="top:2033.56px;font:400 24.5px/24.5px 'Liberation Sans', Arial, sans-serif;color:#000;left:0.00px;width:361.20px;text-align:center;">102</div>
<div class="t" style="top:2033.56px;font:400 24.5px/24.5px 'Liberation Sans', Arial, sans-serif;color:#000;left:229.00px;">CS-50102</div>
<div class="t" style="top:2033.56px;font:400 24.5px/24.5px 'Liberation Sans', Arial, sans-serif;color:#000;left:0.00px;width:826.20px;text-align:center;">70,9</div>
<div class="t" style="top:2033.56px;font:400 24.5px/24.5px 'Liberation Sans', Arial, sans-serif;color:#000;left:0.00px;width:1037.00px;text-align:center;">723,18</div>
<div class="t" style="top:2033.56px;font:400 24.5px/24.5px 'Liberation Sans', Arial, sans-serif;color:#000;left:0.00px;width:1250.70px;text-align:center;">227</div>
<div class="t" style="top:2033.56px;font:400 24.5px/24.5px 'Liberation Sans', Arial, sans-serif;color:#000;left:0.00px;width:1492.70px;text-align:center;">329</div>
<div class="t" style="top:2033.56px;font:400 24.5px/24.5px 'Liberation Sans', Arial, sans-serif;color:#000;left:0.00px;width:1728.00px;text-align:center;">127</div>
<div class="t" style="top:2033.56px;font:400 24.5px/24.5px 'Liberation Sans', Arial, sans-serif;color:#000;left:0.00px;width:1944.00px;text-align:center;">95</div>
<div class="t" style="top:2033.56px;font:400 24.5px/24.5px 'Liberation Sans', Arial, sans-serif;color:#000;left:80.00px;width:2000.00px;text-align:center;">80</div>
<div class="t" style="top:2033.56px;font:400 24.5px/24.5px 'Liberation Sans', Arial, sans-serif;color:#000;left:199.30px;width:2000.00px;text-align:center;">33</div>
<div class="t" style="top:2033.56px;font:400 24.5px/24.5px 'Liberation Sans', Arial, sans-serif;color:#000;left:324.05px;width:2000.00px;text-align:center;">71</div>
<div class="t" style="top:2033.56px;font:400 24.5px/24.5px 'Liberation Sans', Arial, sans-serif;color:#000;left:461.90px;width:2000.00px;text-align:center;">2</div>
<div class="t" style="top:2033.56px;font:400 24.5px/24.5px 'Liberation Sans', Arial, sans-serif;color:#000;left:610.85px;width:2000.00px;text-align:center;">-</div>
<div class="t" style="top:2033.56px;font:400 24.5px/24.5px 'Liberation Sans', Arial, sans-serif;color:#000;left:739.20px;width:2000.00px;text-align:center;">-</div>
<div class="t" style="top:2033.56px;font:400 24.5px/24.5px 'Liberation Sans', Arial, sans-serif;color:#000;left:854.80px;width:2000.00px;text-align:center;">95</div>
<div class="t" style="top:2035.75px;font:400 20px/20.0px 'Liberation Sans', Arial, sans-serif;color:#000;left:978.60px;width:2000.00px;text-align:center;">1/2" - 13 UN</div>
<div class="t" style="top:2033.56px;font:400 24.5px/24.5px 'Liberation Sans', Arial, sans-serif;color:#000;left:1102.30px;width:2000.00px;text-align:center;">19</div>
<div class="t" style="top:2035.75px;font:400 20px/20.0px 'Liberation Sans', Arial, sans-serif;color:#000;left:1241.00px;width:2000.00px;text-align:center;">5" - 12 UN</div>
<div class="t" style="top:2033.56px;font:400 24.5px/24.5px 'Liberation Sans', Arial, sans-serif;color:#000;left:1378.00px;width:2000.00px;text-align:center;">55</div>
<div class="t" style="top:2033.56px;font:400 24.5px/24.5px 'Liberation Sans', Arial, sans-serif;color:#000;left:1562.00px;width:1901.00px;text-align:center;">AF-604</div>
<div class="t" style="top:2033.56px;font:400 24.5px/24.5px 'Liberation Sans', Arial, sans-serif;color:#000;left:1798.50px;width:1664.50px;text-align:center;">18.1</div>
<div class="t" style="top:2033.56px;font:700 24.5px/24.5px 'Liberation Sans', Arial, sans-serif;color:#000;left:1958.00px;width:1505.00px;text-align:center;">20,1</div>
<div class="t" style="top:2033.56px;font:400 24.5px/24.5px 'Liberation Sans', Arial, sans-serif;color:#000;left:2233.50px;width:1229.50px;text-align:center;">Ok</div>
<div class="t" style="top:2071.31px;font:400 24.5px/24.5px 'Liberation Sans', Arial, sans-serif;color:#000;left:0.00px;width:361.20px;text-align:center;">159</div>
<div class="t" style="top:2071.31px;font:400 24.5px/24.5px 'Liberation Sans', Arial, sans-serif;color:#000;left:229.00px;">CS-50159</div>
<div class="t" style="top:2071.31px;font:400 24.5px/24.5px 'Liberation Sans', Arial, sans-serif;color:#000;left:0.00px;width:826.20px;text-align:center;">70,9</div>
<div class="t" style="top:2071.31px;font:400 24.5px/24.5px 'Liberation Sans', Arial, sans-serif;color:#000;left:0.00px;width:1037.00px;text-align:center;">1127,3</div>
<div class="t" style="top:2071.31px;font:400 24.5px/24.5px 'Liberation Sans', Arial, sans-serif;color:#000;left:0.00px;width:1250.70px;text-align:center;">282</div>
<div class="t" style="top:2071.31px;font:400 24.5px/24.5px 'Liberation Sans', Arial, sans-serif;color:#000;left:0.00px;width:1492.70px;text-align:center;">441</div>
<div class="t" style="top:2071.31px;font:400 24.5px/24.5px 'Liberation Sans', Arial, sans-serif;color:#000;left:0.00px;width:1728.00px;text-align:center;">127</div>
<div class="t" style="top:2071.31px;font:400 24.5px/24.5px 'Liberation Sans', Arial, sans-serif;color:#000;left:0.00px;width:1944.00px;text-align:center;">95</div>
<div class="t" style="top:2071.31px;font:400 24.5px/24.5px 'Liberation Sans', Arial, sans-serif;color:#000;left:80.00px;width:2000.00px;text-align:center;">80</div>
<div class="t" style="top:2071.31px;font:400 24.5px/24.5px 'Liberation Sans', Arial, sans-serif;color:#000;left:199.30px;width:2000.00px;text-align:center;">35</div>
<div class="t" style="top:2071.31px;font:400 24.5px/24.5px 'Liberation Sans', Arial, sans-serif;color:#000;left:324.05px;width:2000.00px;text-align:center;">71</div>
<div class="t" style="top:2071.31px;font:400 24.5px/24.5px 'Liberation Sans', Arial, sans-serif;color:#000;left:461.90px;width:2000.00px;text-align:center;">2</div>
<div class="t" style="top:2071.31px;font:400 24.5px/24.5px 'Liberation Sans', Arial, sans-serif;color:#000;left:610.85px;width:2000.00px;text-align:center;">-</div>
<div class="t" style="top:2071.31px;font:400 24.5px/24.5px 'Liberation Sans', Arial, sans-serif;color:#000;left:739.20px;width:2000.00px;text-align:center;">-</div>
<div class="t" style="top:2071.31px;font:400 24.5px/24.5px 'Liberation Sans', Arial, sans-serif;color:#000;left:854.80px;width:2000.00px;text-align:center;">95</div>
<div class="t" style="top:2073.51px;font:400 20px/20.0px 'Liberation Sans', Arial, sans-serif;color:#000;left:978.60px;width:2000.00px;text-align:center;">1/2" - 13 UN</div>
<div class="t" style="top:2071.31px;font:400 24.5px/24.5px 'Liberation Sans', Arial, sans-serif;color:#000;left:1102.30px;width:2000.00px;text-align:center;">19</div>
<div class="t" style="top:2073.51px;font:400 20px/20.0px 'Liberation Sans', Arial, sans-serif;color:#000;left:1241.00px;width:2000.00px;text-align:center;">5" - 12 UN</div>
<div class="t" style="top:2071.31px;font:400 24.5px/24.5px 'Liberation Sans', Arial, sans-serif;color:#000;left:1378.00px;width:2000.00px;text-align:center;">55</div>
<div class="t" style="top:2071.31px;font:400 24.5px/24.5px 'Liberation Sans', Arial, sans-serif;color:#000;left:1562.00px;width:1901.00px;text-align:center;">AF-604</div>
<div class="t" style="top:2071.31px;font:400 24.5px/24.5px 'Liberation Sans', Arial, sans-serif;color:#000;left:1798.50px;width:1664.50px;text-align:center;">22.2</div>
<div class="t" style="top:2071.31px;font:700 24.5px/24.5px 'Liberation Sans', Arial, sans-serif;color:#000;left:1958.00px;width:1505.00px;text-align:center;">25</div>
<div class="t" style="top:2071.31px;font:400 24.5px/24.5px 'Liberation Sans', Arial, sans-serif;color:#000;left:2233.50px;width:1229.50px;text-align:center;">Ok</div>
<div class="t" style="top:2109.06px;font:400 24.5px/24.5px 'Liberation Sans', Arial, sans-serif;color:#000;left:0.00px;width:361.20px;text-align:center;">337</div>
<div class="t" style="top:2109.06px;font:400 24.5px/24.5px 'Liberation Sans', Arial, sans-serif;color:#000;left:229.00px;">CS-50337</div>
<div class="t" style="top:2109.06px;font:400 24.5px/24.5px 'Liberation Sans', Arial, sans-serif;color:#000;left:0.00px;width:826.20px;text-align:center;">70,9</div>
<div class="t" style="top:2109.06px;font:400 24.5px/24.5px 'Liberation Sans', Arial, sans-serif;color:#000;left:0.00px;width:1037.00px;text-align:center;">2389,3</div>
<div class="t" style="top:2109.06px;font:400 24.5px/24.5px 'Liberation Sans', Arial, sans-serif;color:#000;left:0.00px;width:1250.70px;text-align:center;">460</div>
<div class="t" style="top:2109.06px;font:400 24.5px/24.5px 'Liberation Sans', Arial, sans-serif;color:#000;left:0.00px;width:1492.70px;text-align:center;">797</div>
<div class="t" style="top:2109.06px;font:400 24.5px/24.5px 'Liberation Sans', Arial, sans-serif;color:#000;left:0.00px;width:1728.00px;text-align:center;">127</div>
<div class="t" style="top:2109.06px;font:400 24.5px/24.5px 'Liberation Sans', Arial, sans-serif;color:#000;left:0.00px;width:1944.00px;text-align:center;">95</div>
<div class="t" style="top:2109.06px;font:400 24.5px/24.5px 'Liberation Sans', Arial, sans-serif;color:#000;left:80.00px;width:2000.00px;text-align:center;">80</div>
<div class="t" style="top:2109.06px;font:400 24.5px/24.5px 'Liberation Sans', Arial, sans-serif;color:#000;left:199.30px;width:2000.00px;text-align:center;">35</div>
<div class="t" style="top:2109.06px;font:400 24.5px/24.5px 'Liberation Sans', Arial, sans-serif;color:#000;left:324.05px;width:2000.00px;text-align:center;">71</div>
<div class="t" style="top:2109.06px;font:400 24.5px/24.5px 'Liberation Sans', Arial, sans-serif;color:#000;left:461.90px;width:2000.00px;text-align:center;">2</div>
<div class="t" style="top:2109.06px;font:400 24.5px/24.5px 'Liberation Sans', Arial, sans-serif;color:#000;left:610.85px;width:2000.00px;text-align:center;">-</div>
<div class="t" style="top:2109.06px;font:400 24.5px/24.5px 'Liberation Sans', Arial, sans-serif;color:#000;left:739.20px;width:2000.00px;text-align:center;">-</div>
<div class="t" style="top:2109.06px;font:400 24.5px/24.5px 'Liberation Sans', Arial, sans-serif;color:#000;left:854.80px;width:2000.00px;text-align:center;">95</div>
<div class="t" style="top:2111.26px;font:400 20px/20.0px 'Liberation Sans', Arial, sans-serif;color:#000;left:978.60px;width:2000.00px;text-align:center;">1/2" - 13 UN</div>
<div class="t" style="top:2109.06px;font:400 24.5px/24.5px 'Liberation Sans', Arial, sans-serif;color:#000;left:1102.30px;width:2000.00px;text-align:center;">19</div>
<div class="t" style="top:2111.26px;font:400 20px/20.0px 'Liberation Sans', Arial, sans-serif;color:#000;left:1241.00px;width:2000.00px;text-align:center;">5" - 12 UN</div>
<div class="t" style="top:2109.06px;font:400 24.5px/24.5px 'Liberation Sans', Arial, sans-serif;color:#000;left:1378.00px;width:2000.00px;text-align:center;">55</div>
<div class="t" style="top:2109.06px;font:400 24.5px/24.5px 'Liberation Sans', Arial, sans-serif;color:#000;left:1562.00px;width:1901.00px;text-align:center;">AF-604</div>
<div class="t" style="top:2109.06px;font:400 24.5px/24.5px 'Liberation Sans', Arial, sans-serif;color:#000;left:1798.50px;width:1664.50px;text-align:center;">34.3</div>
<div class="t" style="top:2109.06px;font:700 24.5px/24.5px 'Liberation Sans', Arial, sans-serif;color:#000;left:1958.00px;width:1505.00px;text-align:center;">39,7</div>
<div class="t" style="top:2108.06px;font:400 24.5px/24.5px 'Liberation Sans', Arial, sans-serif;color:#000;left:2233.50px;width:1229.50px;text-align:center;">*</div>
<div class="t" style="top:2166.03px;font:400 24.5px/24.5px 'Liberation Sans', Arial, sans-serif;color:#000;left:0.00px;width:63.00px;text-align:center;">75</div>
<div class="t" style="top:2166.03px;font:400 24.5px/24.5px 'Liberation Sans', Arial, sans-serif;color:#000;left:0.00px;width:199.00px;text-align:center;">727</div>
<div class="t" style="top:2146.98px;font:400 24.5px/24.5px 'Liberation Sans', Arial, sans-serif;color:#000;left:0.00px;width:361.20px;text-align:center;">156</div>
<div class="t" style="top:2146.98px;font:400 24.5px/24.5px 'Liberation Sans', Arial, sans-serif;color:#000;left:229.00px;">CS-75156</div>
<div class="t" style="top:2146.98px;font:400 24.5px/24.5px 'Liberation Sans', Arial, sans-serif;color:#000;left:0.00px;width:826.20px;text-align:center;">103,9</div>
<div class="t" style="top:2146.98px;font:400 24.5px/24.5px 'Liberation Sans', Arial, sans-serif;color:#000;left:0.00px;width:1037.00px;text-align:center;">1620,8</div>
<div class="t" style="top:2146.98px;font:400 24.5px/24.5px 'Liberation Sans', Arial, sans-serif;color:#000;left:0.00px;width:1250.70px;text-align:center;">285</div>
<div class="t" style="top:2146.98px;font:400 24.5px/24.5px 'Liberation Sans', Arial, sans-serif;color:#000;left:0.00px;width:1492.70px;text-align:center;">441</div>
<div class="t" style="top:2146.98px;font:400 24.5px/24.5px 'Liberation Sans', Arial, sans-serif;color:#000;left:0.00px;width:1728.00px;text-align:center;">146</div>
<div class="t" style="top:2146.98px;font:400 24.5px/24.5px 'Liberation Sans', Arial, sans-serif;color:#000;left:0.00px;width:1944.00px;text-align:center;">117</div>
<div class="t" style="top:2146.98px;font:400 24.5px/24.5px 'Liberation Sans', Arial, sans-serif;color:#000;left:80.00px;width:2000.00px;text-align:center;">95</div>
<div class="t" style="top:2146.98px;font:400 24.5px/24.5px 'Liberation Sans', Arial, sans-serif;color:#000;left:199.30px;width:2000.00px;text-align:center;">30</div>
<div class="t" style="top:2146.98px;font:400 24.5px/24.5px 'Liberation Sans', Arial, sans-serif;color:#000;left:324.05px;width:2000.00px;text-align:center;">71</div>
<div class="t" style="top:2146.98px;font:400 24.5px/24.5px 'Liberation Sans', Arial, sans-serif;color:#000;left:461.90px;width:2000.00px;text-align:center;">5</div>
<div class="t" style="top:2146.98px;font:400 24.5px/24.5px 'Liberation Sans', Arial, sans-serif;color:#000;left:610.85px;width:2000.00px;text-align:center;">-</div>
<div class="t" style="top:2146.98px;font:400 24.5px/24.5px 'Liberation Sans', Arial, sans-serif;color:#000;left:739.20px;width:2000.00px;text-align:center;">-</div>
<div class="t" style="top:2146.98px;font:400 24.5px/24.5px 'Liberation Sans', Arial, sans-serif;color:#000;left:854.80px;width:2000.00px;text-align:center;">-</div>
<div class="t" style="top:2146.98px;font:400 24.5px/24.5px 'Liberation Sans', Arial, sans-serif;color:#000;left:978.60px;width:2000.00px;text-align:center;">-</div>
<div class="t" style="top:2146.98px;font:400 24.5px/24.5px 'Liberation Sans', Arial, sans-serif;color:#000;left:1102.30px;width:2000.00px;text-align:center;">-</div>
<div class="t" style="top:2149.18px;font:400 20px/20.0px 'Liberation Sans', Arial, sans-serif;color:#000;left:1241.00px;width:2000.00px;text-align:center;">5.3/4" - 12 UN</div>
<div class="t" style="top:2146.98px;font:400 24.5px/24.5px 'Liberation Sans', Arial, sans-serif;color:#000;left:1378.00px;width:2000.00px;text-align:center;">45</div>
<div class="t" style="top:2146.98px;font:400 24.5px/24.5px 'Liberation Sans', Arial, sans-serif;color:#000;left:1562.00px;width:1901.00px;text-align:center;">AF-604</div>
<div class="t" style="top:2146.98px;font:400 24.5px/24.5px 'Liberation Sans', Arial, sans-serif;color:#000;left:1798.50px;width:1664.50px;text-align:center;">30.5</div>
<div class="t" style="top:2146.98px;font:700 24.5px/24.5px 'Liberation Sans', Arial, sans-serif;color:#000;left:1958.00px;width:1505.00px;text-align:center;">31,5</div>
<div class="t" style="top:2146.98px;font:400 24.5px/24.5px 'Liberation Sans', Arial, sans-serif;color:#000;left:2233.50px;width:1229.50px;text-align:center;">Ok</div>
<div class="t" style="top:2185.08px;font:400 24.5px/24.5px 'Liberation Sans', Arial, sans-serif;color:#000;left:0.00px;width:361.20px;text-align:center;">333</div>
<div class="t" style="top:2185.08px;font:400 24.5px/24.5px 'Liberation Sans', Arial, sans-serif;color:#000;left:229.00px;">CS-75333</div>
<div class="t" style="top:2185.08px;font:400 24.5px/24.5px 'Liberation Sans', Arial, sans-serif;color:#000;left:0.00px;width:826.20px;text-align:center;">103,9</div>
<div class="t" style="top:2185.08px;font:400 24.5px/24.5px 'Liberation Sans', Arial, sans-serif;color:#000;left:0.00px;width:1037.00px;text-align:center;">3459,9</div>
<div class="t" style="top:2185.08px;font:400 24.5px/24.5px 'Liberation Sans', Arial, sans-serif;color:#000;left:0.00px;width:1250.70px;text-align:center;">492</div>
<div class="t" style="top:2185.08px;font:400 24.5px/24.5px 'Liberation Sans', Arial, sans-serif;color:#000;left:0.00px;width:1492.70px;text-align:center;">825</div>
<div class="t" style="top:2185.08px;font:400 24.5px/24.5px 'Liberation Sans', Arial, sans-serif;color:#000;left:0.00px;width:1728.00px;text-align:center;">146</div>
<div class="t" style="top:2185.08px;font:400 24.5px/24.5px 'Liberation Sans', Arial, sans-serif;color:#000;left:0.00px;width:1944.00px;text-align:center;">117</div>
<div class="t" style="top:2185.08px;font:400 24.5px/24.5px 'Liberation Sans', Arial, sans-serif;color:#000;left:80.00px;width:2000.00px;text-align:center;">95</div>
<div class="t" style="top:2185.08px;font:400 24.5px/24.5px 'Liberation Sans', Arial, sans-serif;color:#000;left:199.30px;width:2000.00px;text-align:center;">30</div>
<div class="t" style="top:2185.08px;font:400 24.5px/24.5px 'Liberation Sans', Arial, sans-serif;color:#000;left:324.05px;width:2000.00px;text-align:center;">71</div>
<div class="t" style="top:2185.08px;font:400 24.5px/24.5px 'Liberation Sans', Arial, sans-serif;color:#000;left:461.90px;width:2000.00px;text-align:center;">5</div>
<div class="t" style="top:2185.08px;font:400 24.5px/24.5px 'Liberation Sans', Arial, sans-serif;color:#000;left:610.85px;width:2000.00px;text-align:center;">-</div>
<div class="t" style="top:2185.08px;font:400 24.5px/24.5px 'Liberation Sans', Arial, sans-serif;color:#000;left:739.20px;width:2000.00px;text-align:center;">-</div>
<div class="t" style="top:2185.08px;font:400 24.5px/24.5px 'Liberation Sans', Arial, sans-serif;color:#000;left:854.80px;width:2000.00px;text-align:center;">-</div>
<div class="t" style="top:2185.08px;font:400 24.5px/24.5px 'Liberation Sans', Arial, sans-serif;color:#000;left:978.60px;width:2000.00px;text-align:center;">-</div>
<div class="t" style="top:2185.08px;font:400 24.5px/24.5px 'Liberation Sans', Arial, sans-serif;color:#000;left:1102.30px;width:2000.00px;text-align:center;">-</div>
<div class="t" style="top:2187.28px;font:400 20px/20.0px 'Liberation Sans', Arial, sans-serif;color:#000;left:1241.00px;width:2000.00px;text-align:center;">5.3/4" - 12 UN</div>
<div class="t" style="top:2185.08px;font:400 24.5px/24.5px 'Liberation Sans', Arial, sans-serif;color:#000;left:1378.00px;width:2000.00px;text-align:center;">45</div>
<div class="t" style="top:2185.08px;font:400 24.5px/24.5px 'Liberation Sans', Arial, sans-serif;color:#000;left:1562.00px;width:1901.00px;text-align:center;">AF-604</div>
<div class="t" style="top:2185.08px;font:400 24.5px/24.5px 'Liberation Sans', Arial, sans-serif;color:#000;left:1798.50px;width:1664.50px;text-align:center;">50.3</div>
<div class="t" style="top:2185.08px;font:700 24.5px/24.5px 'Liberation Sans', Arial, sans-serif;color:#000;left:1958.00px;width:1505.00px;text-align:center;">62</div>
<div class="t" style="top:2184.08px;font:400 24.5px/24.5px 'Liberation Sans', Arial, sans-serif;color:#000;left:2233.50px;width:1229.50px;text-align:center;">*</div>
<div class="t" style="top:2242.18px;font:400 24.5px/24.5px 'Liberation Sans', Arial, sans-serif;color:#000;left:0.00px;width:63.00px;text-align:center;">100</div>
<div class="t" style="top:2242.18px;font:400 24.5px/24.5px 'Liberation Sans', Arial, sans-serif;color:#000;left:0.00px;width:199.00px;text-align:center;">930</div>
<div class="t" style="top:2223.16px;font:400 24.5px/24.5px 'Liberation Sans', Arial, sans-serif;color:#000;left:0.00px;width:361.20px;text-align:center;">168</div>
<div class="t" style="top:2223.16px;font:400 24.5px/24.5px 'Liberation Sans', Arial, sans-serif;color:#000;left:229.00px;">CS-100168</div>
<div class="t" style="top:2223.16px;font:400 24.5px/24.5px 'Liberation Sans', Arial, sans-serif;color:#000;left:0.00px;width:826.20px;text-align:center;">133</div>
<div class="t" style="top:2223.16px;font:400 24.5px/24.5px 'Liberation Sans', Arial, sans-serif;color:#000;left:0.00px;width:1037.00px;text-align:center;">2234,4</div>
<div class="t" style="top:2223.16px;font:400 24.5px/24.5px 'Liberation Sans', Arial, sans-serif;color:#000;left:0.00px;width:1250.70px;text-align:center;">357</div>
<div class="t" style="top:2223.16px;font:400 24.5px/24.5px 'Liberation Sans', Arial, sans-serif;color:#000;left:0.00px;width:1492.70px;text-align:center;">525</div>
<div class="t" style="top:2223.16px;font:400 24.5px/24.5px 'Liberation Sans', Arial, sans-serif;color:#000;left:0.00px;width:1728.00px;text-align:center;">178</div>
<div class="t" style="top:2223.16px;font:400 24.5px/24.5px 'Liberation Sans', Arial, sans-serif;color:#000;left:0.00px;width:1944.00px;text-align:center;">130</div>
<div class="t" style="top:2223.16px;font:400 24.5px/24.5px 'Liberation Sans', Arial, sans-serif;color:#000;left:80.00px;width:2000.00px;text-align:center;">105</div>
<div class="t" style="top:2223.16px;font:400 24.5px/24.5px 'Liberation Sans', Arial, sans-serif;color:#000;left:199.30px;width:2000.00px;text-align:center;">41</div>
<div class="t" style="top:2223.16px;font:400 24.5px/24.5px 'Liberation Sans', Arial, sans-serif;color:#000;left:324.05px;width:2000.00px;text-align:center;">71</div>
<div class="t" style="top:2223.16px;font:400 24.5px/24.5px 'Liberation Sans', Arial, sans-serif;color:#000;left:461.90px;width:2000.00px;text-align:center;">2</div>
<div class="t" style="top:2223.16px;font:400 24.5px/24.5px 'Liberation Sans', Arial, sans-serif;color:#000;left:610.85px;width:2000.00px;text-align:center;">-</div>
<div class="t" style="top:2223.16px;font:400 24.5px/24.5px 'Liberation Sans', Arial, sans-serif;color:#000;left:739.20px;width:2000.00px;text-align:center;">-</div>
<div class="t" style="top:2223.16px;font:400 24.5px/24.5px 'Liberation Sans', Arial, sans-serif;color:#000;left:854.80px;width:2000.00px;text-align:center;">139</div>
<div class="t" style="top:2225.36px;font:400 20px/20.0px 'Liberation Sans', Arial, sans-serif;color:#000;left:978.60px;width:2000.00px;text-align:center;">3/4" - 10 UN</div>
<div class="t" style="top:2223.16px;font:400 24.5px/24.5px 'Liberation Sans', Arial, sans-serif;color:#000;left:1102.30px;width:2000.00px;text-align:center;">25</div>
<div class="t" style="top:2225.36px;font:400 20px/20.0px 'Liberation Sans', Arial, sans-serif;color:#000;left:1241.00px;width:2000.00px;text-align:center;">6.7/8" - 12 UN</div>
<div class="t" style="top:2223.16px;font:400 24.5px/24.5px 'Liberation Sans', Arial, sans-serif;color:#000;left:1378.00px;width:2000.00px;text-align:center;">44</div>
<div class="t" style="top:2223.16px;font:400 24.5px/24.5px 'Liberation Sans', Arial, sans-serif;color:#000;left:1562.00px;width:1901.00px;text-align:center;">AF-604</div>
<div class="t" style="top:2223.16px;font:400 24.5px/24.5px 'Liberation Sans', Arial, sans-serif;color:#000;left:1798.50px;width:1664.50px;text-align:center;">59.7</div>
<div class="t" style="top:2223.16px;font:700 24.5px/24.5px 'Liberation Sans', Arial, sans-serif;color:#000;left:1958.00px;width:1505.00px;text-align:center;">61,5</div>
<div class="t" style="top:2223.16px;font:400 24.5px/24.5px 'Liberation Sans', Arial, sans-serif;color:#000;left:2233.50px;width:1229.50px;text-align:center;">Ok</div>
<div class="t" style="top:2261.21px;font:400 24.5px/24.5px 'Liberation Sans', Arial, sans-serif;color:#000;left:0.00px;width:361.20px;text-align:center;">260</div>
<div class="t" style="top:2261.21px;font:400 24.5px/24.5px 'Liberation Sans', Arial, sans-serif;color:#000;left:229.00px;">CS-100260</div>
<div class="t" style="top:2261.21px;font:400 24.5px/24.5px 'Liberation Sans', Arial, sans-serif;color:#000;left:0.00px;width:826.20px;text-align:center;">133</div>
<div class="t" style="top:2261.21px;font:400 24.5px/24.5px 'Liberation Sans', Arial, sans-serif;color:#000;left:0.00px;width:1037.00px;text-align:center;">3458</div>
<div class="t" style="top:2261.21px;font:400 24.5px/24.5px 'Liberation Sans', Arial, sans-serif;color:#000;left:0.00px;width:1250.70px;text-align:center;">449</div>
<div class="t" style="top:2261.21px;font:400 24.5px/24.5px 'Liberation Sans', Arial, sans-serif;color:#000;left:0.00px;width:1492.70px;text-align:center;">709</div>
<div class="t" style="top:2261.21px;font:400 24.5px/24.5px 'Liberation Sans', Arial, sans-serif;color:#000;left:0.00px;width:1728.00px;text-align:center;">178</div>
<div class="t" style="top:2261.21px;font:400 24.5px/24.5px 'Liberation Sans', Arial, sans-serif;color:#000;left:0.00px;width:1944.00px;text-align:center;">130</div>
<div class="t" style="top:2261.21px;font:400 24.5px/24.5px 'Liberation Sans', Arial, sans-serif;color:#000;left:80.00px;width:2000.00px;text-align:center;">105</div>
<div class="t" style="top:2261.21px;font:400 24.5px/24.5px 'Liberation Sans', Arial, sans-serif;color:#000;left:199.30px;width:2000.00px;text-align:center;">41</div>
<div class="t" style="top:2261.21px;font:400 24.5px/24.5px 'Liberation Sans', Arial, sans-serif;color:#000;left:324.05px;width:2000.00px;text-align:center;">71</div>
<div class="t" style="top:2261.21px;font:400 24.5px/24.5px 'Liberation Sans', Arial, sans-serif;color:#000;left:461.90px;width:2000.00px;text-align:center;">2</div>
<div class="t" style="top:2261.21px;font:400 24.5px/24.5px 'Liberation Sans', Arial, sans-serif;color:#000;left:610.85px;width:2000.00px;text-align:center;">-</div>
<div class="t" style="top:2261.21px;font:400 24.5px/24.5px 'Liberation Sans', Arial, sans-serif;color:#000;left:739.20px;width:2000.00px;text-align:center;">-</div>
<div class="t" style="top:2261.21px;font:400 24.5px/24.5px 'Liberation Sans', Arial, sans-serif;color:#000;left:854.80px;width:2000.00px;text-align:center;">139</div>
<div class="t" style="top:2263.40px;font:400 20px/20.0px 'Liberation Sans', Arial, sans-serif;color:#000;left:978.60px;width:2000.00px;text-align:center;">3/4" - 10 UN</div>
<div class="t" style="top:2261.21px;font:400 24.5px/24.5px 'Liberation Sans', Arial, sans-serif;color:#000;left:1102.30px;width:2000.00px;text-align:center;">25</div>
<div class="t" style="top:2263.40px;font:400 20px/20.0px 'Liberation Sans', Arial, sans-serif;color:#000;left:1241.00px;width:2000.00px;text-align:center;">6.7/8" - 12 UN</div>
<div class="t" style="top:2261.21px;font:400 24.5px/24.5px 'Liberation Sans', Arial, sans-serif;color:#000;left:1378.00px;width:2000.00px;text-align:center;">44</div>
<div class="t" style="top:2261.21px;font:400 24.5px/24.5px 'Liberation Sans', Arial, sans-serif;color:#000;left:1562.00px;width:1901.00px;text-align:center;">AF-604</div>
<div class="t" style="top:2261.21px;font:400 24.5px/24.5px 'Liberation Sans', Arial, sans-serif;color:#000;left:1798.50px;width:1664.50px;text-align:center;">72.9</div>
<div class="t" style="top:2261.21px;font:700 24.5px/24.5px 'Liberation Sans', Arial, sans-serif;color:#000;left:1958.00px;width:1505.00px;text-align:center;">76</div>
<div class="t" style="top:2260.21px;font:400 24.5px/24.5px 'Liberation Sans', Arial, sans-serif;color:#000;left:2233.50px;width:1229.50px;text-align:center;">*</div>
<div class="r" style="left:62.00px;top:824.80px;width:2.00px;height:1467.40px;background:#637779;"></div>
<div class="r" style="left:135.00px;top:658.00px;width:2.00px;height:1634.20px;background:#637779;"></div>
<div class="r" style="left:224.20px;top:658.00px;width:2.00px;height:1634.20px;background:#637779;"></div>
<div class="r" style="left:356.20px;top:658.00px;width:2.00px;height:1634.20px;background:#637779;"></div>
<div class="r" style="left:468.00px;top:658.00px;width:2.00px;height:1634.20px;background:#637779;"></div>
<div class="r" style="left:567.00px;top:658.00px;width:2.00px;height:1634.20px;background:#637779;"></div>
<div class="r" style="left:681.70px;top:658.00px;width:2.00px;height:1634.20px;background:#637779;"></div>
<div class="r" style="left:809.00px;top:658.00px;width:2.00px;height:1634.20px;background:#637779;"></div>
<div class="r" style="left:917.00px;top:658.00px;width:2.00px;height:1634.20px;background:#637779;"></div>
<div class="r" style="left:1025.00px;top:658.00px;width:2.00px;height:1634.20px;background:#637779;"></div>
<div class="r" style="left:1133.00px;top:658.00px;width:2.00px;height:1634.20px;background:#637779;"></div>
<div class="r" style="left:1263.60px;top:658.00px;width:2.00px;height:1634.20px;background:#637779;"></div>
<div class="r" style="left:1382.50px;top:658.00px;width:2.00px;height:1634.20px;background:#637779;"></div>
<div class="r" style="left:1539.30px;top:658.00px;width:2.00px;height:1634.20px;background:#637779;"></div>
<div class="r" style="left:1680.40px;top:658.00px;width:2.00px;height:1634.20px;background:#637779;"></div>
<div class="r" style="left:1796.00px;top:658.00px;width:2.00px;height:1634.20px;background:#637779;"></div>
<div class="r" style="left:1911.60px;top:695.00px;width:2.00px;height:1597.20px;background:#637779;"></div>
<div class="r" style="left:2043.60px;top:695.00px;width:2.00px;height:1597.20px;background:#637779;"></div>
<div class="r" style="left:2159.00px;top:658.00px;width:2.00px;height:1634.20px;background:#637779;"></div>
<div class="r" style="left:2321.00px;top:658.00px;width:2.00px;height:1634.20px;background:#637779;"></div>
<div class="r" style="left:2433.00px;top:658.00px;width:2.00px;height:1634.20px;background:#637779;"></div>
<div class="r" style="left:2590.00px;top:658.00px;width:2.00px;height:1634.20px;background:#637779;"></div>
<div class="r" style="left:2669.50px;top:658.00px;width:2.00px;height:1634.20px;background:#637779;"></div>
<div class="r" style="left:2749.50px;top:658.00px;width:2.00px;height:1634.20px;background:#637779;"></div>
<div class="r" style="left:136.00px;top:861.32px;width:2810.00px;height:2.00px;background:#637779;"></div>
<div class="r" style="left:136.00px;top:898.83px;width:2810.00px;height:2.00px;background:#637779;"></div>
<div class="r" style="left:136.00px;top:936.35px;width:2810.00px;height:2.00px;background:#637779;"></div>
<div class="r" style="left:136.00px;top:973.87px;width:2810.00px;height:2.00px;background:#637779;"></div>
<div class="r" style="left:136.00px;top:1011.38px;width:2810.00px;height:2.00px;background:#637779;"></div>
<div class="r" style="left:2.00px;top:1048.15px;width:2944.00px;height:3.50px;background:#637779;"></div>
<div class="r" style="left:136.00px;top:1086.40px;width:2810.00px;height:2.00px;background:#637779;"></div>
<div class="r" style="left:136.00px;top:1123.90px;width:2810.00px;height:2.00px;background:#637779;"></div>
<div class="r" style="left:136.00px;top:1161.40px;width:2810.00px;height:2.00px;background:#637779;"></div>
<div class="r" style="left:136.00px;top:1198.90px;width:2810.00px;height:2.00px;background:#637779;"></div>
<div class="r" style="left:136.00px;top:1236.40px;width:2810.00px;height:2.00px;background:#637779;"></div>
<div class="r" style="left:136.00px;top:1273.90px;width:2810.00px;height:2.00px;background:#637779;"></div>
<div class="r" style="left:136.00px;top:1311.40px;width:2810.00px;height:2.00px;background:#637779;"></div>
<div class="r" style="left:2.00px;top:1348.15px;width:2944.00px;height:3.50px;background:#637779;"></div>
<div class="r" style="left:136.00px;top:1386.41px;width:2810.00px;height:2.00px;background:#637779;"></div>
<div class="r" style="left:136.00px;top:1423.93px;width:2810.00px;height:2.00px;background:#637779;"></div>
<div class="r" style="left:136.00px;top:1461.44px;width:2810.00px;height:2.00px;background:#637779;"></div>
<div class="r" style="left:136.00px;top:1498.95px;width:2810.00px;height:2.00px;background:#637779;"></div>
<div class="r" style="left:136.00px;top:1536.46px;width:2810.00px;height:2.00px;background:#637779;"></div>
<div class="r" style="left:136.00px;top:1573.97px;width:2810.00px;height:2.00px;background:#637779;"></div>
<div class="r" style="left:136.00px;top:1611.49px;width:2810.00px;height:2.00px;background:#637779;"></div>
<div class="r" style="left:2.00px;top:1648.25px;width:2944.00px;height:3.50px;background:#637779;"></div>
<div class="r" style="left:136.00px;top:1686.47px;width:2810.00px;height:2.00px;background:#637779;"></div>
<div class="r" style="left:136.00px;top:1723.95px;width:2810.00px;height:2.00px;background:#637779;"></div>
<div class="r" style="left:136.00px;top:1761.42px;width:2810.00px;height:2.00px;background:#637779;"></div>
<div class="r" style="left:136.00px;top:1798.90px;width:2810.00px;height:2.00px;background:#637779;"></div>
<div class="r" style="left:136.00px;top:1836.38px;width:2810.00px;height:2.00px;background:#637779;"></div>
<div class="r" style="left:136.00px;top:1873.85px;width:2810.00px;height:2.00px;background:#637779;"></div>
<div class="r" style="left:136.00px;top:1911.32px;width:2810.00px;height:2.00px;background:#637779;"></div>
<div class="r" style="left:2.00px;top:1948.05px;width:2944.00px;height:3.50px;background:#637779;"></div>
<div class="r" style="left:2.00px;top:1987.15px;width:2944.00px;height:3.50px;background:#637779;"></div>
<div class="r" style="left:136.00px;top:2025.65px;width:2810.00px;height:2.00px;background:#637779;"></div>
<div class="r" style="left:136.00px;top:2063.40px;width:2810.00px;height:2.00px;background:#637779;"></div>
<div class="r" style="left:136.00px;top:2101.15px;width:2810.00px;height:2.00px;background:#637779;"></div>
<div class="r" style="left:2.00px;top:2138.15px;width:2944.00px;height:3.50px;background:#637779;"></div>
<div class="r" style="left:136.00px;top:2177.00px;width:2810.00px;height:2.00px;background:#637779;"></div>
<div class="r" style="left:2.00px;top:2214.35px;width:2944.00px;height:3.50px;background:#637779;"></div>
<div class="r" style="left:136.00px;top:2253.15px;width:2810.00px;height:2.00px;background:#637779;"></div>
<div class="r" style="left:0.00px;top:657.00px;width:2947.00px;height:2.00px;background:#637779;"></div>
<div class="r" style="left:0.00px;top:823.05px;width:2947.00px;height:3.50px;background:#637779;"></div>
<div class="r" style="left:0.00px;top:2290.45px;width:2947.00px;height:3.50px;background:#637779;"></div>
<div class="r" style="left:1797.00px;top:694.00px;width:363.00px;height:2.00px;background:#637779;"></div>
<div class="r" style="left:2944.50px;top:657.00px;width:2.50px;height:1636.95px;background:#637779;"></div>
<div class="r" style="left:0.00px;top:657.00px;width:2.50px;height:1636.95px;background:#111;"></div>
<div class="t" style="top:663.07px;font:700 20px/20.0px 'Liberation Sans', Arial, sans-serif;color:#000;letter-spacing:0.6px;left:0.00px;width:136.00px;text-align:center;">Capacidade</div>
<div class="t" style="top:690.57px;font:700 20px/20.0px 'Liberation Sans', Arial, sans-serif;color:#000;letter-spacing:0.6px;left:0.00px;width:136.00px;text-align:center;">do Cilindro</div>
<div class="t" style="top:791.68px;font:700 24px/24.0px 'Liberation Sans', Arial, sans-serif;color:#000;letter-spacing:0.3px;left:0.00px;width:63.00px;text-align:center;">Ton</div>
<div class="t" style="top:791.68px;font:700 24px/24.0px 'Liberation Sans', Arial, sans-serif;color:#000;letter-spacing:0.3px;left:0.00px;width:199.00px;text-align:center;">kN</div>
<div class="t" style="top:663.07px;font:700 20px/20.0px 'Liberation Sans', Arial, sans-serif;color:#000;letter-spacing:1.5px;left:0.00px;width:361.20px;text-align:center;">Curso</div>
<div class="t" style="top:662.68px;font:700 24px/24.0px 'Liberation Sans', Arial, sans-serif;color:#000;letter-spacing:0.6px;left:0.00px;width:582.40px;text-align:center;">Código</div>
<div class="t" style="top:694.48px;font:700 24px/24.0px 'Liberation Sans', Arial, sans-serif;color:#000;letter-spacing:0.6px;left:0.00px;width:582.40px;text-align:center;">Bovenau</div>
<div class="t" style="top:663.07px;font:700 20px/20.0px 'Liberation Sans', Arial, sans-serif;color:#000;letter-spacing:0.6px;left:0.00px;width:826.20px;text-align:center;">Área</div>
<div class="t" style="top:690.57px;font:700 20px/20.0px 'Liberation Sans', Arial, sans-serif;color:#000;left:0.00px;width:826.20px;text-align:center;">Efetiva do</div>
<div class="t" style="top:718.07px;font:700 20px/20.0px 'Liberation Sans', Arial, sans-serif;color:#000;letter-spacing:0.6px;left:0.00px;width:826.20px;text-align:center;">Cilindro</div>
<div class="t" style="top:663.07px;font:700 20px/20.0px 'Liberation Sans', Arial, sans-serif;color:#000;letter-spacing:0.6px;left:0.00px;width:1037.00px;text-align:center;">Cap. de</div>
<div class="t" style="top:690.57px;font:700 20px/20.0px 'Liberation Sans', Arial, sans-serif;color:#000;letter-spacing:0.6px;left:0.00px;width:1037.00px;text-align:center;">Óleo</div>
<div class="t" style="top:662.38px;font:700 24px/24.0px 'Liberation Sans', Arial, sans-serif;color:#000;left:0.00px;width:1250.70px;text-align:center;">Alt.</div>
<div class="t" style="top:694.48px;font:700 24px/24.0px 'Liberation Sans', Arial, sans-serif;color:#000;letter-spacing:0.6px;left:0.00px;width:1250.70px;text-align:center;">Fechado</div>
<div class="t" style="top:663.07px;font:700 20px/20.0px 'Liberation Sans', Arial, sans-serif;color:#000;letter-spacing:0.6px;left:0.00px;width:1492.70px;text-align:center;">Alt.</div>
<div class="t" style="top:690.57px;font:700 20px/20.0px 'Liberation Sans', Arial, sans-serif;color:#000;letter-spacing:1.0px;left:0.00px;width:1492.70px;text-align:center;">Destendido</div>
<div class="t" style="top:663.07px;font:700 20px/20.0px 'Liberation Sans', Arial, sans-serif;color:#000;letter-spacing:0.6px;left:0.00px;width:1728.00px;text-align:center;">Diâmetro</div>
<div class="t" style="top:690.57px;font:700 20px/20.0px 'Liberation Sans', Arial, sans-serif;color:#000;letter-spacing:0.6px;left:0.00px;width:1728.00px;text-align:center;">Externo</div>
<div class="t" style="top:759.18px;font:700 24px/24.0px 'Liberation Sans', Arial, sans-serif;color:#000;left:0.00px;width:1728.00px;text-align:center;">D</div>
<div class="t" style="top:791.68px;font:400 24px/24.0px 'Liberation Sans', Arial, sans-serif;color:#000;left:0.00px;width:1728.00px;text-align:center;">(mm)</div>
<div class="t" style="top:663.07px;font:700 20px/20.0px 'Liberation Sans', Arial, sans-serif;color:#000;letter-spacing:0.6px;left:0.00px;width:1944.00px;text-align:center;">Ø Int.</div>
<div class="t" style="top:690.57px;font:700 20px/20.0px 'Liberation Sans', Arial, sans-serif;color:#000;letter-spacing:0.6px;left:0.00px;width:1944.00px;text-align:center;">Cilindro</div>
<div class="t" style="top:759.18px;font:700 24px/24.0px 'Liberation Sans', Arial, sans-serif;color:#000;left:0.00px;width:1944.00px;text-align:center;">E</div>
<div class="t" style="top:791.68px;font:400 24px/24.0px 'Liberation Sans', Arial, sans-serif;color:#000;left:0.00px;width:1944.00px;text-align:center;">(mm)</div>
<div class="t" style="top:663.07px;font:700 20px/20.0px 'Liberation Sans', Arial, sans-serif;color:#000;letter-spacing:0.6px;left:80.00px;width:2000.00px;text-align:center;">Ø da</div>
<div class="t" style="top:690.57px;font:700 20px/20.0px 'Liberation Sans', Arial, sans-serif;color:#000;letter-spacing:0.6px;left:80.00px;width:2000.00px;text-align:center;">Haste</div>
<div class="t" style="top:759.18px;font:700 24px/24.0px 'Liberation Sans', Arial, sans-serif;color:#000;left:80.00px;width:2000.00px;text-align:center;">F</div>
<div class="t" style="top:791.68px;font:400 24px/24.0px 'Liberation Sans', Arial, sans-serif;color:#000;left:80.00px;width:2000.00px;text-align:center;">(mm)</div>
<div class="t" style="top:663.07px;font:700 20px/20.0px 'Liberation Sans', Arial, sans-serif;color:#000;letter-spacing:0.6px;left:199.30px;width:2000.00px;text-align:center;">Base até a</div>
<div class="t" style="top:690.57px;font:700 20px/20.0px 'Liberation Sans', Arial, sans-serif;color:#000;letter-spacing:0.6px;left:199.30px;width:2000.00px;text-align:center;">conexão de</div>
<div class="t" style="top:718.07px;font:700 20px/20.0px 'Liberation Sans', Arial, sans-serif;color:#000;letter-spacing:0.6px;left:199.30px;width:2000.00px;text-align:center;">entrada</div>
<div class="t" style="top:759.18px;font:700 24px/24.0px 'Liberation Sans', Arial, sans-serif;color:#000;left:199.30px;width:2000.00px;text-align:center;">H</div>
<div class="t" style="top:791.68px;font:400 24px/24.0px 'Liberation Sans', Arial, sans-serif;color:#000;left:199.30px;width:2000.00px;text-align:center;">(mm)</div>
<div class="t" style="top:663.07px;font:700 20px/20.0px 'Liberation Sans', Arial, sans-serif;color:#000;letter-spacing:0.6px;left:324.05px;width:2000.00px;text-align:center;">Ø do</div>
<div class="t" style="top:690.57px;font:700 20px/20.0px 'Liberation Sans', Arial, sans-serif;color:#000;letter-spacing:0.6px;left:324.05px;width:2000.00px;text-align:center;">Assento</div>
<div class="t" style="top:759.18px;font:700 24px/24.0px 'Liberation Sans', Arial, sans-serif;color:#000;left:324.05px;width:2000.00px;text-align:center;">J</div>
<div class="t" style="top:791.68px;font:400 24px/24.0px 'Liberation Sans', Arial, sans-serif;color:#000;left:324.05px;width:2000.00px;text-align:center;">(mm)</div>
<div class="t" style="top:663.07px;font:700 20px/20.0px 'Liberation Sans', Arial, sans-serif;color:#000;letter-spacing:0.6px;left:461.90px;width:2000.00px;text-align:center;">Protuberância</div>
<div class="t" style="top:690.57px;font:700 20px/20.0px 'Liberation Sans', Arial, sans-serif;color:#000;letter-spacing:0.6px;left:461.90px;width:2000.00px;text-align:center;">do Assento</div>
<div class="t" style="top:718.07px;font:700 20px/20.0px 'Liberation Sans', Arial, sans-serif;color:#000;letter-spacing:0.6px;left:461.90px;width:2000.00px;text-align:center;">da Haste</div>
<div class="t" style="top:759.18px;font:700 24px/24.0px 'Liberation Sans', Arial, sans-serif;color:#000;left:461.90px;width:2000.00px;text-align:center;">K</div>
<div class="t" style="top:791.68px;font:400 24px/24.0px 'Liberation Sans', Arial, sans-serif;color:#000;left:461.90px;width:2000.00px;text-align:center;">(mm)</div>
<div class="t" style="top:663.07px;font:700 20px/20.0px 'Liberation Sans', Arial, sans-serif;color:#000;letter-spacing:0.6px;left:610.85px;width:2000.00px;text-align:center;">Rosca</div>
<div class="t" style="top:690.57px;font:700 20px/20.0px 'Liberation Sans', Arial, sans-serif;color:#000;letter-spacing:0.6px;left:610.85px;width:2000.00px;text-align:center;">Interna da</div>
<div class="t" style="top:718.07px;font:700 20px/20.0px 'Liberation Sans', Arial, sans-serif;color:#000;letter-spacing:0.6px;left:610.85px;width:2000.00px;text-align:center;">Haste</div>
<div class="t" style="top:759.18px;font:700 24px/24.0px 'Liberation Sans', Arial, sans-serif;color:#000;left:610.85px;width:2000.00px;text-align:center;">O</div>
<div class="t" style="top:791.68px;font:400 24px/24.0px 'Liberation Sans', Arial, sans-serif;color:#000;left:610.85px;width:2000.00px;text-align:center;">(in)</div>
<div class="t" style="top:663.07px;font:700 20px/20.0px 'Liberation Sans', Arial, sans-serif;color:#000;letter-spacing:0.6px;left:739.20px;width:2000.00px;text-align:center;">Comp. Da</div>
<div class="t" style="top:690.57px;font:700 20px/20.0px 'Liberation Sans', Arial, sans-serif;color:#000;letter-spacing:0.6px;left:739.20px;width:2000.00px;text-align:center;">Rosca da</div>
<div class="t" style="top:718.07px;font:700 20px/20.0px 'Liberation Sans', Arial, sans-serif;color:#000;letter-spacing:0.6px;left:739.20px;width:2000.00px;text-align:center;">Haste</div>
<div class="t" style="top:759.18px;font:700 24px/24.0px 'Liberation Sans', Arial, sans-serif;color:#000;left:739.20px;width:2000.00px;text-align:center;">P</div>
<div class="t" style="top:791.68px;font:400 24px/24.0px 'Liberation Sans', Arial, sans-serif;color:#000;left:739.20px;width:2000.00px;text-align:center;">(mm)</div>
<div class="t" style="top:663.07px;font:700 20px/20.0px 'Liberation Sans', Arial, sans-serif;color:#000;letter-spacing:0.6px;left:1241.00px;width:2000.00px;text-align:center;">Rosca do</div>
<div class="t" style="top:690.57px;font:700 20px/20.0px 'Liberation Sans', Arial, sans-serif;color:#000;letter-spacing:0.6px;left:1241.00px;width:2000.00px;text-align:center;">Colarinho</div>
<div class="t" style="top:759.18px;font:700 24px/24.0px 'Liberation Sans', Arial, sans-serif;color:#000;left:1241.00px;width:2000.00px;text-align:center;">W</div>
<div class="t" style="top:791.68px;font:400 24px/24.0px 'Liberation Sans', Arial, sans-serif;color:#000;left:1241.00px;width:2000.00px;text-align:center;">(in)</div>
<div class="t" style="top:791.68px;font:400 24px/24.0px 'Liberation Sans', Arial, sans-serif;color:#000;left:0.00px;width:361.20px;text-align:center;">(mm)</div>
<div class="t" style="top:791.68px;font:400 24px/24.0px 'Liberation Sans', Arial, sans-serif;color:#000;left:0.00px;width:1250.70px;text-align:center;">(mm)</div>
<div class="t" style="top:791.68px;font:400 24px/24.0px 'Liberation Sans', Arial, sans-serif;color:#000;left:0.00px;width:1492.70px;text-align:center;">(mm)</div>
<div class="t" style="top:759.18px;font:700 24px/24.0px 'Liberation Sans', Arial, sans-serif;color:#000;left:0.00px;width:1250.70px;text-align:center;">A</div>
<div class="t" style="top:759.18px;font:700 24px/24.0px 'Liberation Sans', Arial, sans-serif;color:#000;left:0.00px;width:1492.70px;text-align:center;">B</div>
<div class="t" style="top:791.68px;font:400 24px/24.0px 'Liberation Sans', Arial, sans-serif;color:#000;left:0.00px;width:826.20px;text-align:center;">(cm²)</div>
<div class="t" style="top:791.68px;font:400 24px/24.0px 'Liberation Sans', Arial, sans-serif;color:#000;left:0.00px;width:1037.00px;text-align:center;">(cm³)</div>
<div class="t" style="top:663.07px;font:700 20px/20.0px 'Liberation Sans', Arial, sans-serif;color:#000;letter-spacing:0.85px;left:978.50px;width:2000.00px;text-align:center;">Furos de Montagem da Base</div>
<div class="t" style="top:700.07px;font:400 20px/20.0px 'Liberation Sans', Arial, sans-serif;color:#000;left:854.80px;width:2000.00px;text-align:center;">Dist. entre</div>
<div class="t" style="top:728.07px;font:400 20px/20.0px 'Liberation Sans', Arial, sans-serif;color:#000;left:854.80px;width:2000.00px;text-align:center;">Centros</div>
<div class="t" style="top:700.07px;font:400 20px/20.0px 'Liberation Sans', Arial, sans-serif;color:#000;left:978.60px;width:2000.00px;text-align:center;">Rosca</div>
<div class="t" style="top:700.07px;font:400 20px/20.0px 'Liberation Sans', Arial, sans-serif;color:#000;left:1102.30px;width:2000.00px;text-align:center;">Prof. da</div>
<div class="t" style="top:728.07px;font:400 20px/20.0px 'Liberation Sans', Arial, sans-serif;color:#000;left:1102.30px;width:2000.00px;text-align:center;">Rosca</div>
<div class="t" style="top:759.68px;font:700 24px/24.0px 'Liberation Sans', Arial, sans-serif;color:#000;left:854.80px;width:2000.00px;text-align:center;">U</div>
<div class="t" style="top:759.68px;font:700 24px/24.0px 'Liberation Sans', Arial, sans-serif;color:#000;left:978.60px;width:2000.00px;text-align:center;">V</div>
<div class="t" style="top:759.68px;font:700 24px/24.0px 'Liberation Sans', Arial, sans-serif;color:#000;left:1102.30px;width:2000.00px;text-align:center;">Z</div>
<div class="t" style="top:791.68px;font:400 24px/24.0px 'Liberation Sans', Arial, sans-serif;color:#000;left:854.80px;width:2000.00px;text-align:center;">(mm)</div>
<div class="t" style="top:791.68px;font:400 24px/24.0px 'Liberation Sans', Arial, sans-serif;color:#000;left:978.60px;width:2000.00px;text-align:center;">(in)</div>
<div class="t" style="top:791.68px;font:400 24px/24.0px 'Liberation Sans', Arial, sans-serif;color:#000;left:1102.30px;width:2000.00px;text-align:center;">(mm)</div>
<div class="t" style="top:663.07px;font:700 20px/20.0px 'Liberation Sans', Arial, sans-serif;color:#000;letter-spacing:0.6px;left:1378.00px;width:2000.00px;text-align:center;">Comp.</div>
<div class="t" style="top:690.57px;font:700 20px/20.0px 'Liberation Sans', Arial, sans-serif;color:#000;letter-spacing:0.6px;left:1378.00px;width:2000.00px;text-align:center;">Rosca do</div>
<div class="t" style="top:718.07px;font:700 20px/20.0px 'Liberation Sans', Arial, sans-serif;color:#000;letter-spacing:0.6px;left:1378.00px;width:2000.00px;text-align:center;">Colarinho</div>
<div class="t" style="top:764.68px;font:700 24px/24.0px 'Liberation Sans', Arial, sans-serif;color:#000;left:1378.00px;width:2000.00px;text-align:center;">X</div>
<div class="t" style="top:795.68px;font:400 24px/24.0px 'Liberation Sans', Arial, sans-serif;color:#000;left:1378.00px;width:2000.00px;text-align:center;">(mm)</div>
<div class="t" style="top:703.57px;font:700 20px/20.0px 'Liberation Sans', Arial, sans-serif;color:#000;letter-spacing:0.6px;left:1562.00px;width:1901.00px;text-align:center;">Modelo</div>
<div class="t" style="top:730.47px;font:700 20px/20.0px 'Liberation Sans', Arial, sans-serif;color:#000;letter-spacing:0.45px;left:1562.00px;width:1901.00px;text-align:center;">Engate-Rápido</div>
<div class="t" style="top:758.07px;font:700 20px/20.0px 'Liberation Sans', Arial, sans-serif;color:#000;letter-spacing:0.6px;left:1562.00px;width:1901.00px;text-align:center;">**</div>
<div class="t" style="top:663.07px;font:700 20px/20.0px 'Liberation Sans', Arial, sans-serif;color:#000;letter-spacing:0.6px;left:1798.50px;width:1664.50px;text-align:center;">P.L</div>
<div class="t" style="top:690.07px;font:400 20px/20.0px 'Liberation Sans', Arial, sans-serif;color:#000;left:1798.50px;width:1664.50px;text-align:center;">(Peso</div>
<div class="t" style="top:717.47px;font:400 20px/20.0px 'Liberation Sans', Arial, sans-serif;color:#000;left:1798.50px;width:1664.50px;text-align:center;">líquido)</div>
<div class="t" style="top:790.18px;font:400 24px/24.0px 'Liberation Sans', Arial, sans-serif;color:#000;left:1798.50px;width:1664.50px;text-align:center;">(kg)</div>
<div class="t" style="top:663.07px;font:700 20px/20.0px 'Liberation Sans', Arial, sans-serif;color:#000;letter-spacing:0.6px;left:1958.00px;width:1505.00px;text-align:center;">P.B.</div>
<div class="t" style="top:690.07px;font:400 20px/20.0px 'Liberation Sans', Arial, sans-serif;color:#000;left:1958.00px;width:1505.00px;text-align:center;">(Peso</div>
<div class="t" style="top:717.47px;font:400 20px/20.0px 'Liberation Sans', Arial, sans-serif;color:#000;left:1958.00px;width:1505.00px;text-align:center;">Bruto)</div>
<div class="t" style="top:790.18px;font:400 24px/24.0px 'Liberation Sans', Arial, sans-serif;color:#000;left:1958.00px;width:1505.00px;text-align:center;">(kg)</div>
<div class="t" style="top:661.98px;font:700 24px/24.0px 'Liberation Sans', Arial, sans-serif;color:#000;letter-spacing:0.4px;left:2233.50px;width:1229.50px;text-align:center;">Disponibilidade</div>
<div class="t" style="top:693.18px;font:700 24px/24.0px 'Liberation Sans', Arial, sans-serif;color:#000;left:2233.50px;width:1229.50px;text-align:center;">*</div>
<div class="t" style="top:62.53px;font:700 124px/124.0px 'Liberation Sans', Arial, sans-serif;color:#fff;left:634.00px;transform:scaleX(0.979);transform-origin:0 0;-webkit-text-stroke:5px #fff;">BOVENAU</div>
<div class="t" style="top:226.71px;font:700 47px/47.0px 'Liberation Sans', Arial, sans-serif;color:#fff;left:639.00px;transform:scaleX(0.713);transform-origin:0 0;-webkit-text-stroke:1.6px #fff;">Macacos e Equipamentos Hidráulicos</div>
<div class="t" style="top:81.78px;font:700 70px/70.0px 'DejaVu Sans', Verdana, sans-serif;color:#fff;left:1525.00px;transform:scaleX(0.899);transform-origin:0 0;">CILINDROS DE AÇO</div>
<div class="t" style="top:67.05px;font:400 38px/38.0px 'DejaVu Sans', Verdana, sans-serif;color:#fff;left:1332.00px;width:2000.00px;text-align:right;transform:scaleX(0.8726);transform-origin:100% 0;">Rua Oswaldo Cruz, 164</div>
<div class="t" style="top:112.85px;font:400 38px/38.0px 'DejaVu Sans', Verdana, sans-serif;color:#fff;left:1332.00px;width:2000.00px;text-align:right;transform:scaleX(0.885);transform-origin:100% 0;">89165-519 - Rio do Sul - Santa Catarina - Brasil</div>
<div class="t" style="top:158.65px;font:400 38px/38.0px 'DejaVu Sans', Verdana, sans-serif;color:#fff;left:1332.00px;width:2000.00px;text-align:right;transform:scaleX(0.893);transform-origin:100% 0;">Fone: +55 (47) 3531-1950 - Fax: +55 (47) 3531-1970</div>
<div class="t" style="top:204.35px;font:400 38px/38.0px 'DejaVu Sans', Verdana, sans-serif;color:#fff;left:1332.00px;width:2000.00px;text-align:right;transform:scaleX(0.853);transform-origin:100% 0;">bovenau@bovenau.com.br</div>
<div class="t" style="top:425.40px;font:700 87px/87.0px 'DejaVu Sans', Verdana, sans-serif;color:#0b2343;left:858.50px;transform:scaleX(0.895);transform-origin:0 0;">CILINDRO</div>
<div class="t" style="top:425.40px;font:700 87px/87.0px 'DejaVu Sans', Verdana, sans-serif;color:#0b2343;left:1307.00px;transform:scaleX(0.8796);transform-origin:0 0;">SIMPLES</div>
<div class="t" style="top:425.40px;font:700 87px/87.0px 'DejaVu Sans', Verdana, sans-serif;color:#0b2343;left:1700.00px;transform:scaleX(0.8426);transform-origin:0 0;">AÇÃO</div>
<div class="t" style="top:420.55px;font:700 90.6px/90.6px 'DejaVu Sans', Verdana, sans-serif;color:#0b2343;left:2012.00px;transform:scaleX(0.943);transform-origin:0 0;">CS</div>
<div class="t" style="top:2353.01px;font:400 41px/41.0px 'DejaVu Sans', Verdana, sans-serif;color:#000;left:88.50px;transform:scaleX(1.25);transform-origin:0 0;">*</div>
<div class="t" style="top:2353.01px;font:400 41px/41.0px 'DejaVu Sans', Verdana, sans-serif;color:#000;left:128.70px;transform:scaleX(1.0203);transform-origin:0 0;">Consultar prazo de entrega destes produtos antes de efetivar a compra.</div>
<div class="t" style="top:2404.01px;font:400 41px/41.0px 'DejaVu Sans', Verdana, sans-serif;color:#000;left:88.50px;transform:scaleX(1.25);transform-origin:0 0;">**</div>
<div class="t" style="top:2404.01px;font:400 41px/41.0px 'DejaVu Sans', Verdana, sans-serif;color:#000;left:139.90px;transform:scaleX(1.0273);transform-origin:0 0;">Cilindros de Aço são comercializados com adaptador 3/8'', modelo AF - 604.</div>
<div class="t" style="top:2102.39px;font:700 22px/22.0px 'DejaVu Sans', Verdana, sans-serif;color:#0b2343;left:3000.00px;width:463.00px;text-align:center;transform:scaleX(1.05);transform-origin:50% 0;">ADAPTADORES 3/8''</div>
<div class="t" style="top:2164.39px;font:700 22px/22.0px 'DejaVu Sans', Verdana, sans-serif;color:#0b2343;left:2742.00px;width:721.00px;text-align:center;transform:scaleX(1.03);transform-origin:50% 0;">AF - 604</div>
<div class="t" style="top:2164.39px;font:700 22px/22.0px 'DejaVu Sans', Verdana, sans-serif;color:#0b2343;left:3181.00px;width:282.00px;text-align:center;transform:scaleX(1.025);transform-origin:50% 0;">AF - 400</div>
<svg style="left:0;top:0" width="530" height="660" viewBox="0 0 530 660">
<defs>
<linearGradient id="gBlue" x1="95" x2="359" y1="0" y2="0" gradientUnits="userSpaceOnUse">
 <stop offset="0" stop-color="#173796"/>
 <stop offset="0.03" stop-color="#2a58d4"/>
 <stop offset="0.10" stop-color="#3160dc"/>
 <stop offset="0.25" stop-color="#2451cc"/>
 <stop offset="0.42" stop-color="#1d46bf"/>
 <stop offset="0.62" stop-color="#2552cd"/>
 <stop offset="0.80" stop-color="#2e5edb"/>
 <stop offset="0.93" stop-color="#2652cf"/>
 <stop offset="1" stop-color="#16358f"/>
</linearGradient>
<linearGradient id="gBlack" x1="88" x2="363" y1="0" y2="0" gradientUnits="userSpaceOnUse">
 <stop offset="0" stop-color="#060709"/>
 <stop offset="0.10" stop-color="#0b0c10"/>
 <stop offset="0.17" stop-color="#24262c"/>
 <stop offset="0.25" stop-color="#101115"/>
 <stop offset="0.45" stop-color="#050608"/>
 <stop offset="0.64" stop-color="#08090b"/>
 <stop offset="0.70" stop-color="#50555d"/>
 <stop offset="0.78" stop-color="#666b73"/>
 <stop offset="0.86" stop-color="#3a3d44"/>
 <stop offset="0.92" stop-color="#0b0c0f"/>
 <stop offset="1" stop-color="#050607"/>
</linearGradient>
<linearGradient id="gHandle" x1="436" x2="473" y1="0" y2="0" gradientUnits="userSpaceOnUse">
 <stop offset="0" stop-color="#1a3ba0"/>
 <stop offset="0.45" stop-color="#3464dc"/>
 <stop offset="1" stop-color="#17348e"/>
</linearGradient>
<linearGradient id="gHandleH" x1="0" x2="0" y1="191" y2="228" gradientUnits="userSpaceOnUse">
 <stop offset="0" stop-color="#1a3ba0"/>
 <stop offset="0.45" stop-color="#3464dc"/>
 <stop offset="1" stop-color="#17348e"/>
</linearGradient>
<linearGradient id="gKnurl" x1="0" x2="0" y1="530" y2="585" gradientUnits="userSpaceOnUse">
 <stop offset="0" stop-color="#e8e8e8" stop-opacity="0.7"/>
 <stop offset="0.5" stop-color="#999" stop-opacity="0.3"/>
 <stop offset="1" stop-color="#333" stop-opacity="0.7"/>
</linearGradient>
<pattern id="pKnurl" width="3" height="3" patternUnits="userSpaceOnUse">
 <rect width="3" height="3" fill="#b5b5b5"/><rect width="1.5" height="1.5" fill="#707070"/>
</pattern>
</defs>
<!-- handle (behind body) -->
<g fill="none" stroke-linejoin="round" stroke-linecap="round">
<path d="M340 210.5 H424 A30.5 30.5 0 0 1 454.5 241 V532" stroke="#18368f" stroke-width="37"/>
<path d="M340 210.5 H424 A30.5 30.5 0 0 1 454.5 241 V532" stroke="#234cc2" stroke-width="28"/>
<path d="M340 208.5 H424 A28.5 28.5 0 0 1 452.5 241 V532" stroke="#2c5ad3" stroke-width="18"/>
<path d="M340 207 H424 A27 27 0 0 1 451 241 V532" stroke="#3868e0" stroke-width="8"/>
</g>
<!-- blue body -->
<path d="M95 188 V600 A132 44 0 0 0 359 600 V188 Z" fill="url(#gBlue)"/>
<clipPath id="cBody"><path d="M95 188 V600 A132 44 0 0 0 359 600 V188 Z"/></clipPath>
<g clip-path="url(#cBody)">
<path d="M150 230 Q175 420 150 660" stroke="#1a3db0" stroke-width="30" fill="none" opacity="0.25"/>
<path d="M300 230 Q318 420 300 660" stroke="#3d6ee8" stroke-width="26" fill="none" opacity="0.25"/>
</g>
<!-- black cap -->
<path d="M88.1 66 V190 A137.6 37 0 0 0 363.3 190 V66 Z" fill="url(#gBlack)"/>
<ellipse cx="225.7" cy="66" rx="137.6" ry="40" fill="#08090c"/>
<ellipse cx="224.3" cy="64.8" rx="113" ry="29" fill="#050608" stroke="#1b2650" stroke-width="2.5"/>
<path d="M158 82 Q180 90 203 93" stroke="#e8eee0" stroke-width="3.5" fill="none" opacity="0.85"/>
<path d="M250 90 Q268 90 283 86" stroke="#e8eee0" stroke-width="3" fill="none" opacity="0.75"/>
<path d="M112 90 Q225 122 338 92" stroke="#1e2433" stroke-width="2" fill="none"/>
<!-- body logo marks -->
<g fill="#e4eaff" opacity="0.92">
 <path d="M96 320 L104 318 V364 L96 366 Z"/>
 <path d="M106 326 Q116 326 115 336 V352 Q115 362 106 362 Z"/>
 <rect x="96" y="370" width="19" height="3"/>
 <rect x="96" y="312" width="19" height="3"/>
</g>
<!-- engraved plate -->
<g fill="#7a7352" opacity="0.5">
 <rect x="106" y="482" width="80" height="10"/>
 <rect x="106" y="497" width="78" height="6"/>
 <rect x="106" y="508" width="78" height="6"/>
 <rect x="108" y="519" width="76" height="6"/>
 <rect x="110" y="530" width="74" height="6"/>
</g>
<!-- warning label -->
<path d="M302 383 L359 352 V521 L302 532 Z" fill="#18181b"/>
<path d="M302 383 L359 352 V371 L302 400 Z" fill="#f0951c"/>
<path d="M308 396 l5 -9 l5 9 z" fill="#111"/>
<g stroke="#cfcfcf" stroke-width="1.5" opacity="0.7">
 <line x1="305" y1="408" x2="356" y2="382"/><line x1="305" y1="415" x2="356" y2="390"/>
 <line x1="305" y1="422" x2="356" y2="398"/><line x1="305" y1="429" x2="356" y2="406"/>
 <line x1="305" y1="436" x2="356" y2="414"/><line x1="305" y1="443" x2="356" y2="422"/>
 <line x1="305" y1="450" x2="356" y2="430"/><line x1="305" y1="457" x2="356" y2="438"/>
 <line x1="305" y1="464" x2="356" y2="446"/><line x1="305" y1="471" x2="356" y2="454"/>
 <line x1="305" y1="478" x2="356" y2="462"/><line x1="305" y1="485" x2="356" y2="470"/>
 <line x1="305" y1="492" x2="356" y2="478"/><line x1="305" y1="499" x2="356" y2="486"/>
 <line x1="305" y1="506" x2="356" y2="494"/><line x1="305" y1="513" x2="356" y2="502"/>
 <line x1="305" y1="520" x2="356" y2="510"/>
</g>
<!-- coupler -->
<ellipse cx="334" cy="566" rx="27" ry="38" transform="rotate(-15 334 566)" fill="#0c0d10"/>
<path d="M350 529 L473 553 L456 630 L330 603 Z" fill="#0b0c0f"/>
<path d="M368 598 L408 606 L407 616 L369 609 Z" fill="#a9a9a9"/>
<path d="M329 551 L351 541 L351 569 L330 571 Z" fill="#c2c2c2"/>
<path d="M333 553 L345 548 L346 566 L334 568 Z" fill="#6d6d6d"/>
<path d="M349 538.8 L379.8 531 L381 573 L350 568.7 Z" fill="url(#pKnurl)"/>
<path d="M349 538.8 L379.8 531 L381 573 L350 568.7 Z" fill="url(#gKnurl)"/>
<path d="M379.8 535 L403 540 L403 577 L381 573 Z" fill="#d4d4d4"/>
<path d="M386 537 L403 540 L403 577 L390 575 Z" fill="#9c9c9c"/>
<path d="M402 582 L453 591 L452 608 L402 599 Z" fill="#2c2d33"/>
<path d="M403 577 L455 586" stroke="#000" stroke-width="2"/>
<ellipse cx="470.7" cy="593" rx="21.5" ry="41" transform="rotate(-8 470.7 593)" fill="#141519"/>
<ellipse cx="472" cy="593" rx="17" ry="36" transform="rotate(-8 472 593)" fill="#1c1d22"/>
</svg>
<svg style="left:2940px;top:340px" width="523" height="920" viewBox="2940 340 523 920"><g font-family="Liberation Sans, Arial, sans-serif" font-size="22" fill="#111"><path d="M3178.2 469.5 V431 Q3178.2 425.2 3184 425.2 H3293.5 Q3299.3 425.2 3299.3 431 V469.5 Z" fill="#c9cfcf"/><rect x="3184.9" y="408.8" width="108.6" height="16.4" fill="#c9cfcf"/><g fill="none" stroke="#1e1e1e" stroke-width="1.4" stroke-dasharray="4 3"><path d="M3178.2 469.5 V431 Q3178.2 425.2 3184 425.2 H3293.5 Q3299.3 425.2 3299.3 431 V469.5"/><path d="M3184.9 425.2 V408.8 H3293.5 V425.2"/></g><line x1="3238.1" y1="402" x2="3238.1" y2="474" stroke="#8f8a78" stroke-width="1" stroke-dasharray="10 3 2 3"/><g stroke="#2a2a2a" stroke-width="1.2"><line x1="3184.9" y1="386" x2="3184.9" y2="408"/><line x1="3293.5" y1="386" x2="3293.5" y2="408"/><line x1="3184.9" y1="390.1" x2="3293.5" y2="390.1"/></g><path d="M3184.9 390.1 L3202.4 386.5 L3202.4 393.7 Z" fill="#2a2a2a"/><path d="M3293.5 390.1 L3276.0 393.7 L3276.0 386.5 Z" fill="#2a2a2a"/><text x="3238.1" y="384.4" text-anchor="middle">J</text><g stroke="#2a2a2a" stroke-width="1.2"><line x1="3178.2" y1="470" x2="3178.2" y2="509"/><line x1="3299.3" y1="470" x2="3299.3" y2="509"/><line x1="3178.2" y1="505" x2="3299.3" y2="505"/></g><path d="M3178.2 505.0 L3195.7 501.4 L3195.7 508.6 Z" fill="#2a2a2a"/><path d="M3299.3 505.0 L3281.8 508.6 L3281.8 501.4 Z" fill="#2a2a2a"/><text x="3238.1" y="497.5" text-anchor="middle">F</text><g stroke="#2a2a2a" stroke-width="1.2"><line x1="3296" y1="408.8" x2="3434" y2="408.8"/><line x1="3432.4" y1="408.8" x2="3432.4" y2="997.9"/></g><path d="M3432.4 408.8 L3436.0 426.3 L3428.8 426.3 Z" fill="#2a2a2a"/><path d="M3432.4 997.9 L3428.8 980.4 L3436.0 980.4 Z" fill="#2a2a2a"/><text x="3420" y="717" text-anchor="middle" font-size="23">B</text><path d="M3148.5 568.5 L3155.1 559.6 H3322.4 L3330.4 568.5 V997.9 H3148.5 Z" fill="#c9cfcf" stroke="#1e1e1e" stroke-width="2"/><line x1="3148.5" y1="568.5" x2="3330.4" y2="568.5" stroke="#1e1e1e" stroke-width="2"/><path d="M3179.5 559.6 V546 Q3179.5 541.8 3184 541.8 H3296 Q3300.2 541.8 3300.2 546 V559.6 Z" fill="#c9cfcf" stroke="#1e1e1e" stroke-width="2"/><line x1="3148.5" y1="978.8" x2="3330.4" y2="978.8" stroke="#1e1e1e" stroke-width="2.4"/><line x1="3179.5" y1="547.3" x2="3300.2" y2="547.3" stroke="#1e1e1e" stroke-width="2"/><g fill="none" stroke="#333" stroke-width="1.2" stroke-dasharray="4 3"><path d="M3179.5 568.5 V863.4 H3300.2 V568.5"/><path d="M3179.5 601.7 H3168.5 V916.7 H3312.6 V601.7 H3300.2"/><path d="M3168.5 863.4 H3312.6"/><path d="M3175.1 978.8 V946 L3179 942 H3195.6 L3199.5 946 V978.8 M3178.5 978.8 V945 M3196 978.8 V945 M3179 942 L3187.3 932 L3195.6 942"/><path d="M3274.9 978.8 V946 L3278.8 942 H3296.3 L3300.2 946 V978.8 M3278.3 978.8 V945 M3296.8 978.8 V945 M3278.8 942 L3287.5 932 L3296.3 942"/></g><line x1="3238.1" y1="535" x2="3238.1" y2="997" stroke="#8f8a78" stroke-width="1" stroke-dasharray="12 3 2 3"/><line x1="3187.3" y1="928" x2="3187.3" y2="985" stroke="#8f8a78" stroke-width="1" stroke-dasharray="6 2 2 2"/><line x1="3287.5" y1="928" x2="3287.5" y2="985" stroke="#8f8a78" stroke-width="1" stroke-dasharray="6 2 2 2"/><line x1="3168.5" y1="791.1" x2="3312.6" y2="791.1" stroke="#2a2a2a" stroke-width="1.2"/><path d="M3168.5 791.1 L3186.0 787.5 L3186.0 794.7 Z" fill="#2a2a2a"/><path d="M3312.6 791.1 L3295.1 794.7 L3295.1 787.5 Z" fill="#2a2a2a"/><text x="3238.1" y="783.6" text-anchor="middle" font-size="23">E</text><g stroke="#2a2a2a" stroke-width="1.2"><line x1="3300.2" y1="541.8" x2="3402" y2="541.8"/><line x1="3396.9" y1="541.8" x2="3396.9" y2="997.9"/><line x1="3330.4" y1="997.9" x2="3434" y2="997.9"/><line x1="3330.4" y1="978.8" x2="3382" y2="978.8"/><line x1="3300.2" y1="954.4" x2="3381" y2="954.4"/></g><path d="M3396.9 541.8 L3400.5 559.3 L3393.3 559.3 Z" fill="#2a2a2a"/><path d="M3396.9 997.9 L3393.3 980.4 L3400.5 980.4 Z" fill="#2a2a2a"/><text x="3384.8" y="774.7" text-anchor="middle" font-size="23">A</text><g stroke="#2a2a2a" stroke-width="1.2"><line x1="3345.9" y1="516.6" x2="3345.9" y2="541.8"/><line x1="3345.9" y1="559.6" x2="3345.9" y2="580"/><line x1="3330.4" y1="559.6" x2="3348" y2="559.6"/><line x1="3345.9" y1="516.6" x2="3372.5" y2="516.6"/></g><path d="M3345.9 541.8 L3342.3 524.3 L3349.5 524.3 Z" fill="#2a2a2a"/><path d="M3345.9 559.6 L3349.5 577.1 L3342.3 577.1 Z" fill="#2a2a2a"/><text x="3360" y="513" text-anchor="middle" font-size="23">K</text><g stroke="#2a2a2a" stroke-width="1.2"><line x1="3378.3" y1="934" x2="3378.3" y2="998"/></g><path d="M3378.3 954.4 L3374.7 936.9 L3381.9 936.9 Z" fill="#2a2a2a"/><path d="M3378.3 978.8 L3381.9 996.3 L3374.7 996.3 Z" fill="#2a2a2a"/><text x="3378" y="927.8" text-anchor="middle" font-size="23">Z</text><g stroke="#2a2a2a" stroke-width="1.2"><line x1="3345.9" y1="961" x2="3345.9" y2="1023"/><line x1="3324" y1="1023" x2="3346" y2="1023"/></g><path d="M3345.9 978.8 L3342.3 961.3 L3349.5 961.3 Z" fill="#2a2a2a"/><path d="M3345.9 997.9 L3349.5 1015.4 L3342.3 1015.4 Z" fill="#2a2a2a"/><text x="3318" y="1022" text-anchor="middle" font-size="23">6,0</text><g stroke="#2a2a2a" stroke-width="1.2"><line x1="3174.2" y1="979" x2="3174.2" y2="1028"/><line x1="3199.5" y1="979" x2="3199.5" y2="1028"/><line x1="3134" y1="1025.4" x2="3174.2" y2="1025.4"/><line x1="3199.5" y1="1025.4" x2="3224" y2="1025.4"/></g><path d="M3174.2 1025.4 L3156.7 1029.0 L3156.7 1021.8 Z" fill="#2a2a2a"/><path d="M3199.5 1025.4 L3217.0 1021.8 L3217.0 1029.0 Z" fill="#2a2a2a"/><text x="3141" y="1021" text-anchor="middle" font-size="23">V</text><path d="M3021.2 881.2 H3062 Q3073.1 881.2 3073.1 892.2 V963.3 Q3073.1 974.3 3062 974.3 H3021.2 Z" fill="#c9cfcf" stroke="#1e1e1e" stroke-width="2"/><line x1="3039.8" y1="881.2" x2="3039.8" y2="974.3" stroke="#1e1e1e" stroke-width="2.2"/><rect x="3073.1" y="892.3" width="42.1" height="68.70000000000005" fill="#c9cfcf" stroke="#1e1e1e" stroke-width="2"/><rect x="3139.6" y="903.4" width="9" height="44.30000000000007" fill="#c9cfcf" stroke="#1e1e1e" stroke-width="1.6"/><rect x="3115.2" y="888.7" width="24.4" height="77.69999999999993" rx="6" fill="#c9cfcf" stroke="#1e1e1e" stroke-width="2"/><path d="M3121 889 H3134 Q3140 889 3140 897 V920 Q3140 927.5 3134 927.5 H3121 Q3115 927.5 3115 920 V897 Q3115 889 3121 889 Z" fill="#c9cfcf" stroke="#1e1e1e" stroke-width="1.8"/><path d="M3121 927.5 H3134 Q3140 927.5 3140 935 V958.5 Q3140 966.4 3134 966.4 H3121 Q3115 966.4 3115 958.5 V935 Q3115 927.5 3121 927.5 Z" fill="#c9cfcf" stroke="#1e1e1e" stroke-width="1.8"/><path d="M3117.5 893 Q3113 908 3117.5 924 M3137.5 893 Q3142 908 3137.5 924 M3117.5 931 Q3113 947 3117.5 962 M3137.5 931 Q3142 947 3137.5 962" fill="none" stroke="#1e1e1e" stroke-width="1"/><line x1="2993" y1="927.8" x2="3171" y2="927.8" stroke="#8f8a78" stroke-width="1" stroke-dasharray="12 3 2 3"/><g stroke="#2a2a2a" stroke-width="1.2"><line x1="2990" y1="927.8" x2="3020" y2="927.8"/><line x1="2993.2" y1="927.8" x2="2993.2" y2="997.9"/><line x1="2991" y1="997.9" x2="3148.5" y2="997.9"/></g><path d="M2993.2 927.8 L2996.8 945.3 L2989.6 945.3 Z" fill="#2a2a2a"/><path d="M2993.2 997.9 L2989.6 980.4 L2996.8 980.4 Z" fill="#2a2a2a"/><text x="2976.6" y="974.3" text-anchor="middle" font-size="23">H</text><circle cx="3239" cy="1134.5" r="90.5" fill="#c9cfcf" stroke="#1e1e1e" stroke-width="2"/><circle cx="3239" cy="1134.5" r="70.5" fill="none" stroke="#8f8a78" stroke-width="1.1" stroke-dasharray="8 3 2 3"/><g stroke="#8f8a78" stroke-width="1" stroke-dasharray="8 3 2 3"><line x1="3239" y1="1056" x2="3239" y2="1216"/><line x1="3188.3" y1="1085.6" x2="3288.5" y2="1185.2"/><line x1="3288.5" y1="1085.6" x2="3188.3" y2="1185.2"/></g><circle cx="3188.3" cy="1085.6" r="13.2" fill="#c9cfcf" stroke="#1e1e1e" stroke-width="1.6"/><circle cx="3188.3" cy="1085.6" r="10.3" fill="none" stroke="#1e1e1e" stroke-width="1.2"/><path d="M3182.3 1082.1 L3188.3 1078.6 L3194.3 1082.1 V1089.1 L3188.3 1092.6 L3182.3 1089.1 Z" fill="none" stroke="#444" stroke-width="1"/><circle cx="3288.5" cy="1085.6" r="13.2" fill="#c9cfcf" stroke="#1e1e1e" stroke-width="1.6"/><circle cx="3288.5" cy="1085.6" r="10.3" fill="none" stroke="#1e1e1e" stroke-width="1.2"/><path d="M3282.5 1082.1 L3288.5 1078.6 L3294.5 1082.1 V1089.1 L3288.5 1092.6 L3282.5 1089.1 Z" fill="none" stroke="#444" stroke-width="1"/><circle cx="3188.3" cy="1185.2" r="13.2" fill="#c9cfcf" stroke="#1e1e1e" stroke-width="1.6"/><circle cx="3188.3" cy="1185.2" r="10.3" fill="none" stroke="#1e1e1e" stroke-width="1.2"/><path d="M3182.3 1181.7 L3188.3 1178.2 L3194.3 1181.7 V1188.7 L3188.3 1192.2 L3182.3 1188.7 Z" fill="none" stroke="#444" stroke-width="1"/><circle cx="3288.5" cy="1185.2" r="13.2" fill="#c9cfcf" stroke="#1e1e1e" stroke-width="1.6"/><circle cx="3288.5" cy="1185.2" r="10.3" fill="none" stroke="#1e1e1e" stroke-width="1.2"/><path d="M3282.5 1181.7 L3288.5 1178.2 L3294.5 1181.7 V1188.7 L3288.5 1192.2 L3282.5 1188.7 Z" fill="none" stroke="#444" stroke-width="1"/><path d="M3022.5 1087.6 H3064 Q3075.5 1087.6 3075.5 1099 V1169 Q3075.5 1180.6 3064 1180.6 H3022.5 Z" fill="#c9cfcf" stroke="#1e1e1e" stroke-width="2"/><line x1="3040.7" y1="1087.6" x2="3040.7" y2="1180.6" stroke="#1e1e1e" stroke-width="2.2"/><rect x="3075.5" y="1098.6" width="41" height="69.9" fill="#c9cfcf" stroke="#1e1e1e" stroke-width="2"/><rect x="3140.4" y="1109.5" width="10.3" height="44.9" fill="#c9cfcf" stroke="#1e1e1e" stroke-width="1.6"/><rect x="3116.5" y="1095" width="23.9" height="77" rx="6" fill="#c9cfcf" stroke="#1e1e1e" stroke-width="2"/><path d="M3117 1113.5 Q3128 1110 3140 1113.5 M3117 1153 Q3128 1157 3140 1153" fill="none" stroke="#1e1e1e" stroke-width="1.6"/><line x1="3010" y1="1135" x2="3316" y2="1135" stroke="#8f8a78" stroke-width="1" stroke-dasharray="8 3 2 3"/><g stroke="#2a2a2a" stroke-width="1.2"><line x1="3251" y1="1064.4" x2="3399" y2="1064.4"/><line x1="3251" y1="1205.6" x2="3399" y2="1205.6"/><line x1="3397.9" y1="1064.4" x2="3397.9" y2="1205.6"/><line x1="3256.6" y1="1042.8" x2="3433" y2="1042.8"/><line x1="3256.6" y1="1226" x2="3433" y2="1226"/><line x1="3432" y1="1042.8" x2="3432" y2="1226"/></g><path d="M3397.9 1064.4 L3401.5 1081.9 L3394.3 1081.9 Z" fill="#2a2a2a"/><path d="M3397.9 1205.6 L3394.3 1188.1 L3401.5 1188.1 Z" fill="#2a2a2a"/><path d="M3432.0 1042.8 L3435.6 1060.3 L3428.4 1060.3 Z" fill="#2a2a2a"/><path d="M3432.0 1226.0 L3428.4 1208.5 L3435.6 1208.5 Z" fill="#2a2a2a"/><text x="3384.2" y="1146.4" text-anchor="middle" font-size="23">U</text><text x="3418.4" y="1146.4" text-anchor="middle" font-size="23">D</text><path d="M2997 1226 H3138 L3148 1168" fill="none" stroke="#2a2a2a" stroke-width="1.2"/><path d="M3149.6 1162.4 L3150.2 1180.3 L3143.1 1179.0 Z" fill="#2a2a2a"/><text x="2980" y="1217" font-size="24" textLength="153.5" lengthAdjust="spacingAndGlyphs">3/8"-18 NPTF</text></g></svg>
<svg style="left:3030px;top:2185px" width="400" height="100" viewBox="3030 2185 400 100">
<defs>
<linearGradient id="gCh1" x1="0" x2="0" y1="0" y2="1">
 <stop offset="0" stop-color="#2a2a2a"/>
 <stop offset="0.2" stop-color="#6a6a6a"/>
 <stop offset="0.42" stop-color="#f4f4f4"/>
 <stop offset="0.55" stop-color="#d8d8d8"/>
 <stop offset="0.75" stop-color="#8a8a8a"/>
 <stop offset="0.9" stop-color="#b4b4b4"/>
 <stop offset="1" stop-color="#5a5a5a"/>
</linearGradient>
<linearGradient id="gCh2" x1="0" x2="0" y1="0" y2="1">
 <stop offset="0" stop-color="#111"/>
 <stop offset="0.3" stop-color="#3c3c3c"/>
 <stop offset="0.45" stop-color="#f6f6f6"/>
 <stop offset="0.62" stop-color="#e0e0e0"/>
 <stop offset="0.8" stop-color="#909090"/>
 <stop offset="1" stop-color="#6a6a6a"/>
</linearGradient>
<linearGradient id="gCh3" x1="0" x2="0" y1="0" y2="1">
 <stop offset="0" stop-color="#bdbdbd"/>
 <stop offset="0.5" stop-color="#dcdcdc"/>
 <stop offset="1" stop-color="#8d8d8d"/>
</linearGradient>
<linearGradient id="gKn" x1="0" x2="0" y1="0" y2="1">
 <stop offset="0" stop-color="#000" stop-opacity="0.35"/>
 <stop offset="0.45" stop-color="#fff" stop-opacity="0.25"/>
 <stop offset="1" stop-color="#000" stop-opacity="0.2"/>
</linearGradient>
<pattern id="pK2" width="3" height="3" patternUnits="userSpaceOnUse" patternTransform="rotate(45)">
 <rect width="3" height="3" fill="#cfcfcf"/><rect width="1.5" height="3" fill="#7d7d7d"/>
</pattern>
<pattern id="pRibH" width="10" height="3.2" patternUnits="userSpaceOnUse">
 <rect width="10" height="3.2" fill="#dadada"/><rect width="10" height="1.1" fill="#8a8a8a"/>
</pattern>
<pattern id="pThr" width="2.6" height="10" patternUnits="userSpaceOnUse">
 <rect width="2.6" height="10" fill="#c9c9c9"/><rect width="1" height="10" fill="#8c8c8c"/>
</pattern>
<radialGradient id="gHole" cx="0.55" cy="0.5" r="0.5">
 <stop offset="0" stop-color="#1a1a1a"/><stop offset="0.75" stop-color="#3a3a3a"/><stop offset="0.9" stop-color="#777"/><stop offset="1" stop-color="#bbb"/>
</radialGradient>
</defs>
<!-- AF-604 -->
<rect x="3182.3" y="2207.7" width="21.2" height="33.7" rx="3" fill="url(#pThr)"/>
<rect x="3182.3" y="2207.7" width="21.2" height="33.7" rx="3" fill="url(#gKn)"/>
<path d="M3157 2200 L3166 2196 L3180 2198 L3186 2212 V2244 L3180 2254 L3166 2256 L3157 2252 Z" fill="url(#gCh2)"/>
<path d="M3170 2212 H3181 V2244 H3170 Z" fill="#ededed"/>
<rect x="3121" y="2203" width="40" height="51.7" fill="url(#gCh2)"/>
<line x1="3140" y1="2203" x2="3146" y2="2215" stroke="#ddd" stroke-width="1.2"/>
<line x1="3148" y1="2232" x2="3148" y2="2254" stroke="#555" stroke-width="1"/>
<path d="M3066 2199 Q3090 2192.5 3112 2193.2 Q3122 2195 3124 2203 V2262 Q3118 2267 3100 2268 L3070 2272 Z" fill="url(#gCh1)"/>
<path d="M3081 2199 Q3098 2193 3112 2193.2 Q3122 2195 3124 2203 V2262 Q3118 2267 3100 2268 L3093 2254 L3092 2235 Z" fill="url(#pK2)"/>
<path d="M3081 2199 Q3098 2193 3112 2193.2 Q3122 2195 3124 2203 V2262 Q3118 2267 3100 2268 L3093 2254 L3092 2235 Z" fill="url(#gKn)"/>
<path d="M3081 2200 L3093 2235 L3093 2254" fill="none" stroke="#222" stroke-width="1.4"/>
<ellipse cx="3057.7" cy="2236.5" rx="13.3" ry="36.6" fill="url(#gCh1)"/>
<ellipse cx="3056.5" cy="2237" rx="10.5" ry="32" fill="url(#gHole)"/>
<!-- AF-400 -->
<rect x="3384" y="2219" width="31.7" height="40" rx="6" fill="url(#pThr)"/>
<rect x="3384" y="2219" width="31.7" height="40" rx="6" fill="url(#gKn)"/>
<path d="M3344 2213.9 L3381 2217 L3387 2222 V2257 L3381 2260 L3344 2259.8 Z" fill="url(#gCh2)"/>
<path d="M3352 2219 L3380 2220 V2238 L3352 2238 Z" fill="#f7f7f7"/>
<line x1="3344" y1="2214.5" x2="3382" y2="2218" stroke="#222" stroke-width="1.4"/>
<rect x="3329" y="2199.8" width="15.5" height="70.4" fill="url(#gCh1)"/>
<rect x="3301" y="2196.9" width="29" height="77" fill="url(#pRibH)"/>
<rect x="3301" y="2196.9" width="29" height="77" fill="url(#gKn)"/>
<rect x="3286" y="2198" width="17" height="74.4" fill="url(#gCh1)"/>
<ellipse cx="3277" cy="2235.4" rx="12.5" ry="37" fill="url(#gCh1)"/>
<ellipse cx="3276.5" cy="2236" rx="10" ry="32.5" fill="url(#gHole)"/>
</svg>
</div></body></html>
